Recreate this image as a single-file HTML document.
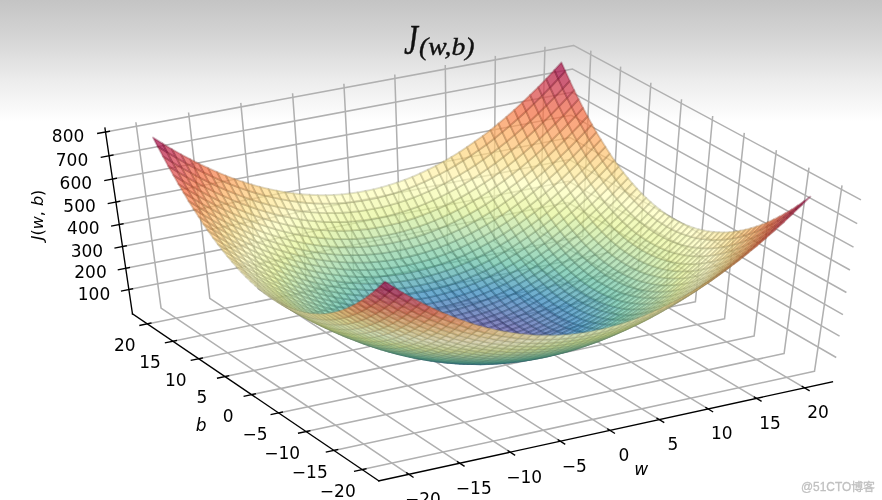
<!DOCTYPE html>
<html><head><meta charset="utf-8"><title>J(w,b)</title>
<style>
html,body{margin:0;padding:0;background:#fff}
#c{position:relative;width:882px;height:500px;overflow:hidden;background:#fff}
#g{position:absolute;left:0;top:0;width:882px;height:140px;background:linear-gradient(to bottom, #c4c4c4 0px, #d6d6d6 40px, #ececec 80px, #ffffff 122px)}
#plot{position:absolute;left:0;top:0;width:882px;height:500px;}
.a{position:absolute;white-space:nowrap;line-height:1;transform-origin:0 0}
#tJ{left:404px;top:16px;font:italic 42px "Liberation Serif",serif;color:#111;-webkit-text-stroke:0.4px #111;transform:scaleX(0.75)}
#tS{left:419.3px;top:33px;font:italic 25px "Liberation Serif",serif;color:#111;-webkit-text-stroke:0.4px #111;transform:scaleX(1.105)}
#zl{left:38px;top:215px;transform:translate(-50%,-50%) rotate(-90deg);transform-origin:50% 50%;font-family:"DejaVu Sans",sans-serif;font-size:16px;color:#000}
#zl i{font-style:italic}
#wm{left:801px;top:482px;font-family:"Liberation Sans","Noto Sans CJK SC",sans-serif;font-size:11.9px;color:#c0c0c0;-webkit-text-stroke:0.3px #c0c0c0}
</style></head><body><div id="c">
<div id="g"></div>
<div id="plot"><svg width="882" height="500" viewBox="0 0 518.823529 294.117647" style="position:absolute;left:0;top:0">
<defs>
<style type="text/css">*{stroke-linejoin: round; stroke-linecap: butt}</style>
</defs>
<g id="figure_1">


<g id="pane3d_1">

</g>
<g id="pane3d_2">

</g>
<g id="pane3d_3">

</g>
<g id="grid3d_1">
<g id="Line3DCollection_1">
<path d="M 240.45 279.01 L 94.75 181.28 L 79.93 71.91" style="fill: none; stroke: #b0b0b0; stroke-width: 0.9"/>
<path d="M 270.43 272.47 L 123.4 175.54 L 110.92 66.19" style="fill: none; stroke: #b0b0b0; stroke-width: 0.9"/>
<path d="M 300.15 265.98 L 151.83 169.84 L 141.64 60.51" style="fill: none; stroke: #b0b0b0; stroke-width: 0.9"/>
<path d="M 329.62 259.54 L 180.03 164.19 L 172.1 54.89" style="fill: none; stroke: #b0b0b0; stroke-width: 0.9"/>
<path d="M 358.84 253.16 L 208 158.59 L 202.29 49.31" style="fill: none; stroke: #b0b0b0; stroke-width: 0.9"/>
<path d="M 387.81 246.83 L 235.76 153.03 L 232.23 43.78" style="fill: none; stroke: #b0b0b0; stroke-width: 0.9"/>
<path d="M 416.54 240.55 L 263.29 147.51 L 261.92 38.3" style="fill: none; stroke: #b0b0b0; stroke-width: 0.9"/>
<path d="M 445.03 234.33 L 290.61 142.04 L 291.36 32.87" style="fill: none; stroke: #b0b0b0; stroke-width: 0.9"/>
<path d="M 473.29 228.16 L 317.72 136.61 L 320.55 27.48" style="fill: none; stroke: #b0b0b0; stroke-width: 0.9"/>
</g>
</g>
<g id="grid3d_2">
<g id="Line3DCollection_2">
<path d="M 495.31 109.03 L 479.11 218.43 L 213.04 276.21" style="fill: none; stroke: #b0b0b0; stroke-width: 0.9"/>
<path d="M 475.86 98.59 L 461.22 207.99 L 196.42 264.95" style="fill: none; stroke: #b0b0b0; stroke-width: 0.9"/>
<path d="M 456.69 88.31 L 443.59 197.71 L 180.04 253.85" style="fill: none; stroke: #b0b0b0; stroke-width: 0.9"/>
<path d="M 437.82 78.19 L 426.21 187.57 L 163.9 242.91" style="fill: none; stroke: #b0b0b0; stroke-width: 0.9"/>
<path d="M 419.23 68.21 L 409.06 177.57 L 147.99 232.13" style="fill: none; stroke: #b0b0b0; stroke-width: 0.9"/>
<path d="M 400.91 58.39 L 392.16 167.71 L 132.32 221.5" style="fill: none; stroke: #b0b0b0; stroke-width: 0.9"/>
<path d="M 382.87 48.71 L 375.48 157.98 L 116.86 211.03" style="fill: none; stroke: #b0b0b0; stroke-width: 0.9"/>
<path d="M 365.09 39.17 L 359.03 148.39 L 101.62 200.7" style="fill: none; stroke: #b0b0b0; stroke-width: 0.9"/>
<path d="M 347.57 29.77 L 342.8 138.92 L 86.6 190.52" style="fill: none; stroke: #b0b0b0; stroke-width: 0.9"/>
</g>
</g>
<g id="grid3d_3">
<g id="Line3DCollection_3">
<path d="M 75.81 170.32 L 333.97 119.13 L 491.9 210.28" style="fill: none; stroke: #b0b0b0; stroke-width: 0.9"/>
<path d="M 73.95 157.79 L 334.43 106.62 L 493.86 197.77" style="fill: none; stroke: #b0b0b0; stroke-width: 0.9"/>
<path d="M 72.06 145.04 L 334.9 93.88 L 495.86 185.03" style="fill: none; stroke: #b0b0b0; stroke-width: 0.9"/>
<path d="M 70.14 132.06 L 335.38 80.92 L 497.89 172.05" style="fill: none; stroke: #b0b0b0; stroke-width: 0.9"/>
<path d="M 68.18 118.83 L 335.86 67.73 L 499.97 158.82" style="fill: none; stroke: #b0b0b0; stroke-width: 0.9"/>
<path d="M 66.19 105.35 L 336.36 54.3 L 502.08 145.33" style="fill: none; stroke: #b0b0b0; stroke-width: 0.9"/>
<path d="M 64.15 91.62 L 336.86 40.62 L 504.24 131.58" style="fill: none; stroke: #b0b0b0; stroke-width: 0.9"/>
<path d="M 62.08 77.63 L 337.38 26.7 L 506.44 117.56" style="fill: none; stroke: #b0b0b0; stroke-width: 0.9"/>
</g>
</g>
<g id="axis3d_1">
<g id="line2d_1">
<path d="M 489.66 224.58 L 222.85 282.86" style="fill: none; stroke: #000000; stroke-width: 0.8; stroke-linecap: square"/>
</g>
<g id="xtick_1">
<g id="line2d_2">
<path d="M 239.21 278.18 L 242.95 280.69" style="fill: none; stroke: #000000; stroke-width: 0.8; stroke-linecap: square"/>
</g>
<g transform="translate(-0.588 -0.882)" id="text_1">
<text style="font-size: 10px; font-family: 'DejaVu Sans', sans-serif; text-anchor: middle" x="249.37" y="298.12" >−20</text>
</g>
</g>
<g id="xtick_2">
<g id="line2d_3">
<path d="M 269.17 271.64 L 272.94 274.13" style="fill: none; stroke: #000000; stroke-width: 0.8; stroke-linecap: square"/>
</g>
<g transform="translate(-0.588 -0.882)" id="text_2">
<text style="font-size: 10px; font-family: 'DejaVu Sans', sans-serif; text-anchor: middle" x="279.29" y="291.52" >−15</text>
</g>
</g>
<g id="xtick_3">
<g id="line2d_4">
<path d="M 298.88 265.16 L 302.68 267.62" style="fill: none; stroke: #000000; stroke-width: 0.8; stroke-linecap: square"/>
</g>
<g transform="translate(-0.588 -0.882)" id="text_3">
<text style="font-size: 10px; font-family: 'DejaVu Sans', sans-serif; text-anchor: middle" x="308.95" y="284.99" >−10</text>
</g>
</g>
<g id="xtick_4">
<g id="line2d_5">
<path d="M 328.34 258.73 L 332.17 261.17" style="fill: none; stroke: #000000; stroke-width: 0.8; stroke-linecap: square"/>
</g>
<g transform="translate(-0.588 -0.882)" id="text_4">
<text style="font-size: 10px; font-family: 'DejaVu Sans', sans-serif; text-anchor: middle" x="338.37" y="278.51" >−5</text>
</g>
</g>
<g id="xtick_5">
<g id="line2d_6">
<path d="M 357.55 252.35 L 361.41 254.77" style="fill: none; stroke: #000000; stroke-width: 0.8; stroke-linecap: square"/>
</g>
<g transform="translate(-0.588 -0.882)" id="text_5">
<text style="font-size: 10px; font-family: 'DejaVu Sans', sans-serif; text-anchor: middle" x="367.53" y="272.08" >0</text>
</g>
</g>
<g id="xtick_6">
<g id="line2d_7">
<path d="M 386.51 246.03 L 390.41 248.43" style="fill: none; stroke: #000000; stroke-width: 0.8; stroke-linecap: square"/>
</g>
<g transform="translate(-0.588 -0.882)" id="text_6">
<text style="font-size: 10px; font-family: 'DejaVu Sans', sans-serif; text-anchor: middle" x="396.45" y="265.71" >5</text>
</g>
</g>
<g id="xtick_7">
<g id="line2d_8">
<path d="M 415.23 239.76 L 419.16 242.14" style="fill: none; stroke: #000000; stroke-width: 0.8; stroke-linecap: square"/>
</g>
<g transform="translate(-0.588 -0.882)" id="text_7">
<text style="font-size: 10px; font-family: 'DejaVu Sans', sans-serif; text-anchor: middle" x="425.13" y="259.39" >10</text>
</g>
</g>
<g id="xtick_8">
<g id="line2d_9">
<path d="M 443.71 233.54 L 447.67 235.9" style="fill: none; stroke: #000000; stroke-width: 0.8; stroke-linecap: square"/>
</g>
<g transform="translate(-0.588 -0.882)" id="text_8">
<text style="font-size: 10px; font-family: 'DejaVu Sans', sans-serif; text-anchor: middle" x="453.57" y="253.12" >15</text>
</g>
</g>
<g id="xtick_9">
<g id="line2d_10">
<path d="M 471.96 227.38 L 475.94 229.72" style="fill: none; stroke: #000000; stroke-width: 0.8; stroke-linecap: square"/>
</g>
<g transform="translate(-0.588 -0.882)" id="text_9">
<text style="font-size: 10px; font-family: 'DejaVu Sans', sans-serif; text-anchor: middle" x="481.77" y="246.91" >20</text>
</g>
</g>
<g transform="translate(-0.588 -0.412)" id="text_10">
<!-- $w$ -->
<g transform="translate(373.628361 280.518184)">
<text>
<tspan x="0" y="-0.53" style="font-style: oblique; font-size: 10px; font-family: 'DejaVu Sans', sans-serif">w</tspan>
</text>
</g>
</g>
</g>
<g id="axis3d_2">
<g id="line2d_11">
<path d="M 77.93 184.65 L 222.85 282.86" style="fill: none; stroke: #000000; stroke-width: 0.8; stroke-linecap: square"/>
</g>
<g id="xtick_10">
<g id="line2d_12">
<path d="M 215.25 275.73 L 208.61 277.17" style="fill: none; stroke: #000000; stroke-width: 0.8; stroke-linecap: square"/>
</g>
<g transform="translate(0.882 -0.588)" id="text_11">
<text style="font-size: 10px; font-family: 'DejaVu Sans', sans-serif; text-anchor: middle" x="197.84" y="292.81" >−20</text>
</g>
</g>
<g id="xtick_11">
<g id="line2d_13">
<path d="M 198.62 264.47 L 192.01 265.9" style="fill: none; stroke: #000000; stroke-width: 0.8; stroke-linecap: square"/>
</g>
<g transform="translate(0.882 -0.588)" id="text_12">
<text style="font-size: 10px; font-family: 'DejaVu Sans', sans-serif; text-anchor: middle" x="181.37" y="281.51" >−15</text>
</g>
</g>
<g id="xtick_12">
<g id="line2d_14">
<path d="M 182.23 253.38 L 175.66 254.78" style="fill: none; stroke: #000000; stroke-width: 0.8; stroke-linecap: square"/>
</g>
<g transform="translate(0.882 -0.588)" id="text_13">
<text style="font-size: 10px; font-family: 'DejaVu Sans', sans-serif; text-anchor: middle" x="165.13" y="270.37" >−10</text>
</g>
</g>
<g id="xtick_13">
<g id="line2d_15">
<path d="M 166.08 242.45 L 159.54 243.83" style="fill: none; stroke: #000000; stroke-width: 0.8; stroke-linecap: square"/>
</g>
<g transform="translate(0.882 -0.588)" id="text_14">
<text style="font-size: 10px; font-family: 'DejaVu Sans', sans-serif; text-anchor: middle" x="149.14" y="259.39" >−5</text>
</g>
</g>
<g id="xtick_14">
<g id="line2d_16">
<path d="M 150.16 231.68 L 143.66 233.04" style="fill: none; stroke: #000000; stroke-width: 0.8; stroke-linecap: square"/>
</g>
<g transform="translate(0.882 -0.588)" id="text_15">
<text style="font-size: 10px; font-family: 'DejaVu Sans', sans-serif; text-anchor: middle" x="133.37" y="248.57" >0</text>
</g>
</g>
<g id="xtick_15">
<g id="line2d_17">
<path d="M 134.47 221.06 L 128 222.4" style="fill: none; stroke: #000000; stroke-width: 0.8; stroke-linecap: square"/>
</g>
<g transform="translate(0.882 -0.588)" id="text_16">
<text style="font-size: 10px; font-family: 'DejaVu Sans', sans-serif; text-anchor: middle" x="117.83" y="237.90" >5</text>
</g>
</g>
<g id="xtick_16">
<g id="line2d_18">
<path d="M 119.01 210.59 L 112.56 211.91" style="fill: none; stroke: #000000; stroke-width: 0.8; stroke-linecap: square"/>
</g>
<g transform="translate(0.882 -0.588)" id="text_17">
<text style="font-size: 10px; font-family: 'DejaVu Sans', sans-serif; text-anchor: middle" x="102.51" y="227.38" >10</text>
</g>
</g>
<g id="xtick_17">
<g id="line2d_19">
<path d="M 103.76 200.27 L 97.35 201.57" style="fill: none; stroke: #000000; stroke-width: 0.8; stroke-linecap: square"/>
</g>
<g transform="translate(0.882 -0.588)" id="text_18">
<text style="font-size: 10px; font-family: 'DejaVu Sans', sans-serif; text-anchor: middle" x="87.40" y="217.02" >15</text>
</g>
</g>
<g id="xtick_18">
<g id="line2d_20">
<path d="M 88.72 190.09 L 82.34 191.38" style="fill: none; stroke: #000000; stroke-width: 0.8; stroke-linecap: square"/>
</g>
<g transform="translate(0.882 -0.588)" id="text_19">
<text style="font-size: 10px; font-family: 'DejaVu Sans', sans-serif; text-anchor: middle" x="72.51" y="206.79" >20</text>
</g>
</g>
<g transform="translate(2.059 0.000)" id="text_20">
<!-- $b$ -->
<g transform="translate(113.085165 254.052623)">
<text>
<tspan x="0" y="-0.41" style="font-style: oblique; font-size: 10px; font-family: 'DejaVu Sans', sans-serif">b</tspan>
</text>
</g>
</g>
</g>
<g id="axis3d_3">
<g id="line2d_21">
<path d="M 77.93 184.65 L 61.73 75.27" style="fill: none; stroke: #000000; stroke-width: 0.8; stroke-linecap: square"/>
</g>
<g id="xtick_19">
<g id="line2d_22">
<path d="M 77.95 169.89 L 71.52 171.17" style="fill: none; stroke: #000000; stroke-width: 0.8; stroke-linecap: square"/>
</g>
<g transform="translate(2.176 0.471)" id="text_21">
<text style="font-size: 10px; font-family: 'DejaVu Sans', sans-serif; text-anchor: middle" x="53.11" y="175.73" >100</text>
</g>
</g>
<g id="xtick_20">
<g id="line2d_23">
<path d="M 76.11 157.37 L 69.63 158.64" style="fill: none; stroke: #000000; stroke-width: 0.8; stroke-linecap: square"/>
</g>
<g transform="translate(2.176 0.471)" id="text_22">
<text style="font-size: 10px; font-family: 'DejaVu Sans', sans-serif; text-anchor: middle" x="51.05" y="163.21" >200</text>
</g>
</g>
<g id="xtick_21">
<g id="line2d_24">
<path d="M 74.25 144.62 L 67.7 145.89" style="fill: none; stroke: #000000; stroke-width: 0.8; stroke-linecap: square"/>
</g>
<g transform="translate(2.176 0.471)" id="text_23">
<text style="font-size: 10px; font-family: 'DejaVu Sans', sans-serif; text-anchor: middle" x="48.96" y="150.46" >300</text>
</g>
</g>
<g id="xtick_22">
<g id="line2d_25">
<path d="M 72.34 131.63 L 65.73 132.91" style="fill: none; stroke: #000000; stroke-width: 0.8; stroke-linecap: square"/>
</g>
<g transform="translate(2.176 0.471)" id="text_24">
<text style="font-size: 10px; font-family: 'DejaVu Sans', sans-serif; text-anchor: middle" x="46.83" y="137.47" >400</text>
</g>
</g>
<g id="xtick_23">
<g id="line2d_26">
<path d="M 70.41 118.4 L 63.73 119.68" style="fill: none; stroke: #000000; stroke-width: 0.8; stroke-linecap: square"/>
</g>
<g transform="translate(2.176 0.471)" id="text_25">
<text style="font-size: 10px; font-family: 'DejaVu Sans', sans-serif; text-anchor: middle" x="44.65" y="124.25" >500</text>
</g>
</g>
<g id="xtick_24">
<g id="line2d_27">
<path d="M 68.43 104.93 L 61.69 106.2" style="fill: none; stroke: #000000; stroke-width: 0.8; stroke-linecap: square"/>
</g>
<g transform="translate(2.176 0.471)" id="text_26">
<text style="font-size: 10px; font-family: 'DejaVu Sans', sans-serif; text-anchor: middle" x="42.44" y="110.77" >600</text>
</g>
</g>
<g id="xtick_25">
<g id="line2d_28">
<path d="M 66.42 91.2 L 59.62 92.47" style="fill: none; stroke: #000000; stroke-width: 0.8; stroke-linecap: square"/>
</g>
<g transform="translate(2.176 0.471)" id="text_27">
<text style="font-size: 10px; font-family: 'DejaVu Sans', sans-serif; text-anchor: middle" x="40.19" y="97.04" >700</text>
</g>
</g>
<g id="xtick_26">
<g id="line2d_29">
<path d="M 64.37 77.2 L 57.5 78.48" style="fill: none; stroke: #000000; stroke-width: 0.8; stroke-linecap: square"/>
</g>
<g transform="translate(2.176 0.471)" id="text_28">
<text style="font-size: 10px; font-family: 'DejaVu Sans', sans-serif; text-anchor: middle" x="37.89" y="83.05" >800</text>
</g>
</g>
</g>
<g id="axes_1"/>
</g>
<g transform="scale(0.588235)"><g fill-opacity="0.72" stroke="#1f5171" stroke-opacity="0.3" stroke-width="1.87" stroke-linejoin="round"><path d="M476.1 296.9 483.8 293.9 479.4 288.6 471.7 291.6Z" fill="#3387bc" stroke="#1f5171"/><path d="M471.7 291.6 479.4 288.6 475 283 467.3 286.1Z" fill="#3990ba" stroke="#22566f"/><path d="M483.8 293.9 491.5 290.5 487.1 285.2 479.4 288.6Z" fill="#358bbc" stroke="#205471"/><path d="M479.4 288.6 487.1 285.2 482.7 279.7 475 283Z" fill="#3d95b8" stroke="#25596e"/><path d="M468.4 299.7 476.1 296.9 471.7 291.6 464 294.4Z" fill="#3682ba" stroke="#214e70"/><path d="M464 294.4 471.7 291.6 467.3 286.1 459.6 288.9Z" fill="#358bbc" stroke="#205471"/><path d="M480.6 301.9 488.3 298.9 483.8 293.9 476.1 296.9Z" fill="#3a7eb8" stroke="#234c6f"/><path d="M488.3 298.9 496 295.5 491.5 290.5 483.8 293.9Z" fill="#3585bb" stroke="#205070"/><path d="M467.3 286.1 475 283 470.5 277.2 462.8 280.3Z" fill="#439bb5" stroke="#285d6d"/><path d="M472.9 304.7 480.6 301.9 476.1 296.9 468.4 299.7Z" fill="#3d79b6" stroke="#25496d"/><path d="M475 283 482.7 279.7 478.2 273.9 470.5 277.2Z" fill="#47a0b3" stroke="#2b606b"/><path d="M491.5 290.5 499.2 286.9 494.8 281.7 487.1 285.2Z" fill="#3b92b9" stroke="#24586f"/><path d="M487.1 285.2 494.8 281.7 490.4 276.1 482.7 279.7Z" fill="#439bb5" stroke="#285d6d"/><path d="M459.6 288.9 467.3 286.1 462.8 280.3 455.1 283Z" fill="#3d95b8" stroke="#25596e"/><path d="M460.7 302.2 468.4 299.7 464 294.4 456.3 296.9Z" fill="#3a7eb8" stroke="#234c6f"/><path d="M496 295.5 503.7 292 499.2 286.9 491.5 290.5Z" fill="#3389bd" stroke="#1f5271"/><path d="M456.3 296.9 464 294.4 459.6 288.9 451.8 291.4Z" fill="#3387bc" stroke="#1f5171"/><path d="M485 306.7 492.7 303.6 488.3 298.9 480.6 301.9Z" fill="#3f77b5" stroke="#26486d"/><path d="M482.7 279.7 490.4 276.1 485.9 270.3 478.2 273.9Z" fill="#4ea7b0" stroke="#2f646a"/><path d="M492.7 303.6 500.4 300.3 496 295.5 488.3 298.9Z" fill="#3b7cb7" stroke="#244a6e"/><path d="M465.2 307.2 472.9 304.7 468.4 299.7 460.7 302.2Z" fill="#4175b4" stroke="#27466c"/><path d="M477.3 309.5 485 306.7 480.6 301.9 472.9 304.7Z" fill="#4273b3" stroke="#28456b"/><path d="M462.8 280.3 470.5 277.2 466.1 271.1 458.4 274.2Z" fill="#4ea7b0" stroke="#2f646a"/><path d="M451.8 291.4 459.6 288.9 455.1 283 447.4 285.6Z" fill="#3b92b9" stroke="#24586f"/><path d="M470.5 277.2 478.2 273.9 473.8 267.8 466.1 271.1Z" fill="#52abae" stroke="#316769"/><path d="M499.2 286.9 507 283.1 502.5 277.8 494.8 281.7Z" fill="#439bb5" stroke="#285d6d"/><path d="M494.8 281.7 502.5 277.8 498.1 272.2 490.4 276.1Z" fill="#4ba4b1" stroke="#2d636a"/><path d="M455.1 283 462.8 280.3 458.4 274.2 450.6 276.9Z" fill="#47a0b3" stroke="#2b606b"/><path d="M500.4 300.3 508.2 296.7 503.7 292 496 295.5Z" fill="#3682ba" stroke="#214e70"/><path d="M503.7 292 511.4 288.1 507 283.1 499.2 286.9Z" fill="#3b92b9" stroke="#24586f"/><path d="M453 304.5 460.7 302.2 456.3 296.9 448.6 299.2Z" fill="#3b7cb7" stroke="#244a6e"/><path d="M469.6 312 477.3 309.5 472.9 304.7 465.2 307.2Z" fill="#466eb1" stroke="#2a426a"/><path d="M478.2 273.9 485.9 270.3 481.5 264.2 473.8 267.8Z" fill="#58b2ac" stroke="#356b67"/><path d="M448.6 299.2 456.3 296.9 451.8 291.4 444.1 293.6Z" fill="#3585bb" stroke="#205070"/><path d="M490.4 276.1 498.1 272.2 493.6 266.4 485.9 270.3Z" fill="#54aead" stroke="#326868"/><path d="M489.5 311.1 497.2 308.1 492.7 303.6 485 306.7Z" fill="#4471b2" stroke="#29446b"/><path d="M447.4 285.6 455.1 283 450.6 276.9 442.9 279.5Z" fill="#459eb4" stroke="#2a5f6c"/><path d="M497.2 308.1 504.9 304.8 500.4 300.3 492.7 303.6Z" fill="#4175b4" stroke="#27466c"/><path d="M457.5 309.5 465.2 307.2 460.7 302.2 453 304.5Z" fill="#4273b3" stroke="#28456b"/><path d="M481.8 313.9 489.5 311.1 485 306.7 477.3 309.5Z" fill="#486cb0" stroke="#2b4169"/><path d="M444.1 293.6 451.8 291.4 447.4 285.6 439.7 287.8Z" fill="#3990ba" stroke="#22566f"/><path d="M458.4 274.2 466.1 271.1 461.6 264.7 453.9 267.8Z" fill="#58b2ac" stroke="#356b67"/><path d="M508.2 296.7 515.9 292.8 511.4 288.1 503.7 292Z" fill="#3389bd" stroke="#1f5271"/><path d="M466.1 271.1 473.8 267.8 469.3 261.4 461.6 264.7Z" fill="#5cb7aa" stroke="#376e66"/><path d="M504.9 304.8 512.6 301.2 508.2 296.7 500.4 300.3Z" fill="#3b7cb7" stroke="#244a6e"/><path d="M507 283.1 514.7 278.9 510.2 273.7 502.5 277.8Z" fill="#49a2b2" stroke="#2c616b"/><path d="M450.6 276.9 458.4 274.2 453.9 267.8 446.2 270.6Z" fill="#54aead" stroke="#326868"/><path d="M485.9 270.3 493.6 266.4 489.2 260.3 481.5 264.2Z" fill="#5eb9a9" stroke="#386f65"/><path d="M502.5 277.8 510.2 273.7 505.8 268.1 498.1 272.2Z" fill="#52abae" stroke="#316769"/><path d="M461.9 314.2 469.6 312 465.2 307.2 457.5 309.5Z" fill="#486cb0" stroke="#2b4169"/><path d="M474.1 316.5 481.8 313.9 477.3 309.5 469.6 312Z" fill="#4b68ae" stroke="#2d3e68"/><path d="M511.4 288.1 519.1 284 514.7 278.9 507 283.1Z" fill="#439bb5" stroke="#285d6d"/><path d="M473.8 267.8 481.5 264.2 477 257.8 469.3 261.4Z" fill="#62bda7" stroke="#3b7264"/><path d="M439.7 287.8 447.4 285.6 442.9 279.5 435.2 281.7Z" fill="#439bb5" stroke="#285d6d"/><path d="M498.1 272.2 505.8 268.1 501.3 262.3 493.6 266.4Z" fill="#5cb7aa" stroke="#376e66"/><path d="M445.3 306.4 453 304.5 448.6 299.2 440.9 301.2Z" fill="#3d79b6" stroke="#25496d"/><path d="M440.9 301.2 448.6 299.2 444.1 293.6 436.4 295.6Z" fill="#3682ba" stroke="#214e70"/><path d="M442.9 279.5 450.6 276.9 446.2 270.6 438.5 273.1Z" fill="#50a9af" stroke="#306569"/><path d="M493.9 315.4 501.7 312.3 497.2 308.1 489.5 311.1Z" fill="#496aaf" stroke="#2c3f69"/><path d="M512.6 301.2 520.3 297.3 515.9 292.8 508.2 296.7Z" fill="#3585bb" stroke="#205070"/><path d="M449.8 311.5 457.5 309.5 453 304.5 445.3 306.4Z" fill="#4471b2" stroke="#29446b"/><path d="M501.7 312.3 509.4 309 504.9 304.8 497.2 308.1Z" fill="#4471b2" stroke="#29446b"/><path d="M515.9 292.8 523.6 288.7 519.1 284 511.4 288.1Z" fill="#3b92b9" stroke="#24586f"/><path d="M436.4 295.6 444.1 293.6 439.7 287.8 431.9 289.8Z" fill="#378ebb" stroke="#215570"/><path d="M486.2 318.2 493.9 315.4 489.5 311.1 481.8 313.9Z" fill="#4d65ad" stroke="#2e3d68"/><path d="M466.4 318.7 474.1 316.5 469.6 312 461.9 314.2Z" fill="#4d65ad" stroke="#2e3d68"/><path d="M481.5 264.2 489.2 260.3 484.7 253.9 477 257.8Z" fill="#6bc4a5" stroke="#407663"/><path d="M493.6 266.4 501.3 262.3 496.9 256.2 489.2 260.3Z" fill="#66c2a5" stroke="#3d7463"/><path d="M453.9 267.8 461.6 264.7 457.1 258.1 449.4 261.1Z" fill="#64c0a6" stroke="#3c7364"/><path d="M509.4 309 517.1 305.4 512.6 301.2 504.9 304.8Z" fill="#3f77b5" stroke="#26486d"/><path d="M461.6 264.7 469.3 261.4 464.9 254.8 457.1 258.1Z" fill="#69c3a5" stroke="#3f7563"/><path d="M454.2 316.2 461.9 314.2 457.5 309.5 449.8 311.5Z" fill="#496aaf" stroke="#2c3f69"/><path d="M446.2 270.6 453.9 267.8 449.4 261.1 441.7 263.9Z" fill="#60bba8" stroke="#3a7065"/><path d="M514.7 278.9 522.4 274.5 518 269.2 510.2 273.7Z" fill="#52abae" stroke="#316769"/><path d="M435.2 281.7 442.9 279.5 438.5 273.1 430.7 275.3Z" fill="#4ea7b0" stroke="#2f646a"/><path d="M478.5 320.7 486.2 318.2 481.8 313.9 474.1 316.5Z" fill="#5061aa" stroke="#303a66"/><path d="M510.2 273.7 518 269.2 513.5 263.7 505.8 268.1Z" fill="#5cb7aa" stroke="#376e66"/><path d="M431.9 289.8 439.7 287.8 435.2 281.7 427.5 283.7Z" fill="#4199b6" stroke="#275c6d"/><path d="M469.3 261.4 477 257.8 472.6 251.1 464.9 254.8Z" fill="#71c6a5" stroke="#447763"/><path d="M519.1 284 526.9 279.5 522.4 274.5 514.7 278.9Z" fill="#4ba4b1" stroke="#2d636a"/><path d="M520.3 297.3 528.1 293.2 523.6 288.7 515.9 292.8Z" fill="#358bbc" stroke="#205471"/><path d="M505.8 268.1 513.5 263.7 509.1 257.8 501.3 262.3Z" fill="#64c0a6" stroke="#3c7364"/><path d="M438.5 273.1 446.2 270.6 441.7 263.9 434 266.4Z" fill="#5cb7aa" stroke="#376e66"/><path d="M517.1 305.4 524.8 301.5 520.3 297.3 512.6 301.2Z" fill="#3a7eb8" stroke="#234c6f"/><path d="M437.6 308.2 445.3 306.4 440.9 301.2 433.1 302.9Z" fill="#3f77b5" stroke="#26486d"/><path d="M433.1 302.9 440.9 301.2 436.4 295.6 428.7 297.3Z" fill="#3682ba" stroke="#214e70"/><path d="M489.2 260.3 496.9 256.2 492.4 249.8 484.7 253.9Z" fill="#74c7a5" stroke="#457863"/><path d="M498.4 319.3 506.1 316.3 501.7 312.3 493.9 315.4Z" fill="#4d65ad" stroke="#2e3d68"/><path d="M442 313.2 449.8 311.5 445.3 306.4 437.6 308.2Z" fill="#4471b2" stroke="#29446b"/><path d="M458.6 320.7 466.4 318.7 461.9 314.2 454.2 316.2Z" fill="#4e63ac" stroke="#2f3b67"/><path d="M523.6 288.7 531.3 284.3 526.9 279.5 519.1 284Z" fill="#439bb5" stroke="#285d6d"/><path d="M470.8 322.9 478.5 320.7 474.1 316.5 466.4 318.7Z" fill="#525fa9" stroke="#313966"/><path d="M506.1 316.3 513.8 312.9 509.4 309 501.7 312.3Z" fill="#486cb0" stroke="#2b4169"/><path d="M428.7 297.3 436.4 295.6 431.9 289.8 424.2 291.5Z" fill="#358bbc" stroke="#205471"/><path d="M477 257.8 484.7 253.9 480.3 247.3 472.6 251.1Z" fill="#7ccaa5" stroke="#4a7963"/><path d="M490.7 322.1 498.4 319.3 493.9 315.4 486.2 318.2Z" fill="#5061aa" stroke="#303a66"/><path d="M501.3 262.3 509.1 257.8 504.6 251.7 496.9 256.2Z" fill="#71c6a5" stroke="#447763"/><path d="M427.5 283.7 435.2 281.7 430.7 275.3 423 277.3Z" fill="#4ba4b1" stroke="#2d636a"/><path d="M430.7 275.3 438.5 273.1 434 266.4 426.3 268.7Z" fill="#5ab4ab" stroke="#366c66"/><path d="M513.8 312.9 521.6 309.3 517.1 305.4 509.4 309Z" fill="#4273b3" stroke="#28456b"/><path d="M449.4 261.1 457.1 258.1 452.7 251.2 445 254.2Z" fill="#74c7a5" stroke="#457863"/><path d="M446.5 317.9 454.2 316.2 449.8 311.5 442 313.2Z" fill="#4b68ae" stroke="#2d3e68"/><path d="M457.1 258.1 464.9 254.8 460.4 247.8 452.7 251.2Z" fill="#7ccaa5" stroke="#4a7963"/><path d="M483 324.6 490.7 322.1 486.2 318.2 478.5 320.7Z" fill="#545ca8" stroke="#323765"/><path d="M441.7 263.9 449.4 261.1 445 254.2 437.2 257Z" fill="#6ec5a5" stroke="#427663"/><path d="M524.8 301.5 532.5 297.4 528.1 293.2 520.3 297.3Z" fill="#3387bc" stroke="#1f5171"/><path d="M424.2 291.5 431.9 289.8 427.5 283.7 419.7 285.4Z" fill="#3f97b7" stroke="#265a6e"/><path d="M522.4 274.5 530.2 269.8 525.7 264.5 518 269.2Z" fill="#5cb7aa" stroke="#376e66"/><path d="M518 269.2 525.7 264.5 521.2 259 513.5 263.7Z" fill="#64c0a6" stroke="#3c7364"/><path d="M528.1 293.2 535.8 288.8 531.3 284.3 523.6 288.7Z" fill="#3d95b8" stroke="#25596e"/><path d="M464.9 254.8 472.6 251.1 468.1 244.2 460.4 247.8Z" fill="#81cda5" stroke="#4d7b63"/><path d="M526.9 279.5 534.6 274.9 530.2 269.8 522.4 274.5Z" fill="#54aead" stroke="#326868"/><path d="M484.7 253.9 492.4 249.8 488 243.1 480.3 247.3Z" fill="#84cea5" stroke="#4f7b63"/><path d="M463.1 324.9 470.8 322.9 466.4 318.7 458.6 320.7Z" fill="#545ca8" stroke="#323765"/><path d="M521.6 309.3 529.3 305.5 524.8 301.5 517.1 305.4Z" fill="#3d79b6" stroke="#25496d"/><path d="M496.9 256.2 504.6 251.7 500.2 245.3 492.4 249.8Z" fill="#81cda5" stroke="#4d7b63"/><path d="M513.5 263.7 521.2 259 516.8 253.1 509.1 257.8Z" fill="#71c6a5" stroke="#447763"/><path d="M434 266.4 441.7 263.9 437.2 257 429.5 259.5Z" fill="#69c3a5" stroke="#3f7563"/><path d="M450.9 322.4 458.6 320.7 454.2 316.2 446.5 317.9Z" fill="#5061aa" stroke="#303a66"/><path d="M429.8 309.6 437.6 308.2 433.1 302.9 425.4 304.3Z" fill="#3f77b5" stroke="#26486d"/><path d="M425.4 304.3 433.1 302.9 428.7 297.3 420.9 298.8Z" fill="#3682ba" stroke="#214e70"/><path d="M475.3 326.9 483 324.6 478.5 320.7 470.8 322.9Z" fill="#555aa7" stroke="#333664"/><path d="M423 277.3 430.7 275.3 426.3 268.7 418.5 270.6Z" fill="#58b2ac" stroke="#356b67"/><path d="M531.3 284.3 539.1 279.6 534.6 274.9 526.9 279.5Z" fill="#4ea7b0" stroke="#2f646a"/><path d="M472.6 251.1 480.3 247.3 475.8 240.3 468.1 244.2Z" fill="#8cd1a4" stroke="#547d63"/><path d="M434.3 314.6 442 313.2 437.6 308.2 429.8 309.6Z" fill="#4471b2" stroke="#29446b"/><path d="M419.7 285.4 427.5 283.7 423 277.3 415.3 279Z" fill="#4ba4b1" stroke="#2d636a"/><path d="M502.9 323 510.6 320 506.1 316.3 498.4 319.3Z" fill="#5061aa" stroke="#303a66"/><path d="M510.6 320 518.3 316.6 513.8 312.9 506.1 316.3Z" fill="#4b68ae" stroke="#2d3e68"/><path d="M509.1 257.8 516.8 253.1 512.4 247 504.6 251.7Z" fill="#7ecca5" stroke="#4c7a63"/><path d="M420.9 298.8 428.7 297.3 424.2 291.5 416.4 292.9Z" fill="#358bbc" stroke="#205471"/><path d="M495.2 325.8 502.9 323 498.4 319.3 490.7 322.1Z" fill="#545ca8" stroke="#323765"/><path d="M532.5 297.4 540.3 293 535.8 288.8 528.1 293.2Z" fill="#3990ba" stroke="#22566f"/><path d="M426.3 268.7 434 266.4 429.5 259.5 421.8 261.7Z" fill="#66c2a5" stroke="#3d7463"/><path d="M529.3 305.5 537 301.3 532.5 297.4 524.8 301.5Z" fill="#3682ba" stroke="#214e70"/><path d="M518.3 316.6 526 313 521.6 309.3 513.8 312.9Z" fill="#466eb1" stroke="#2a426a"/><path d="M438.7 319.4 446.5 317.9 442 313.2 434.3 314.6Z" fill="#4b68ae" stroke="#2d3e68"/><path d="M445 254.2 452.7 251.2 448.2 243.9 440.5 247Z" fill="#86cfa5" stroke="#517c63"/><path d="M492.4 249.8 500.2 245.3 495.7 238.7 488 243.1Z" fill="#8fd2a4" stroke="#567e63"/><path d="M487.4 328.3 495.2 325.8 490.7 322.1 483 324.6Z" fill="#555aa7" stroke="#333664"/><path d="M452.7 251.2 460.4 247.8 455.9 240.6 448.2 243.9Z" fill="#8cd1a4" stroke="#547d63"/><path d="M535.8 288.8 543.6 284.1 539.1 279.6 531.3 284.3Z" fill="#47a0b3" stroke="#2b606b"/><path d="M416.4 292.9 424.2 291.5 419.7 285.4 412 286.8Z" fill="#3f97b7" stroke="#265a6e"/><path d="M455.4 326.7 463.1 324.9 458.6 320.7 450.9 322.4Z" fill="#545ca8" stroke="#323765"/><path d="M437.2 257 445 254.2 440.5 247 432.7 249.8Z" fill="#81cda5" stroke="#4d7b63"/><path d="M467.5 328.9 475.3 326.9 470.8 322.9 463.1 324.9Z" fill="#5758a6" stroke="#343564"/><path d="M480.3 247.3 488 243.1 483.5 236.2 475.8 240.3Z" fill="#97d5a4" stroke="#5a8063"/><path d="M530.2 269.8 537.9 264.9 533.5 259.6 525.7 264.5Z" fill="#66c2a5" stroke="#3d7463"/><path d="M525.7 264.5 533.5 259.6 529 254 521.2 259Z" fill="#71c6a5" stroke="#447763"/><path d="M504.6 251.7 512.4 247 507.9 240.6 500.2 245.3Z" fill="#8cd1a4" stroke="#547d63"/><path d="M460.4 247.8 468.1 244.2 463.6 237 455.9 240.6Z" fill="#94d4a4" stroke="#597f63"/><path d="M526 313 533.8 309.2 529.3 305.5 521.6 309.3Z" fill="#4175b4" stroke="#27466c"/><path d="M534.6 274.9 542.4 269.9 537.9 264.9 530.2 269.8Z" fill="#5eb9a9" stroke="#386f65"/><path d="M415.3 279 423 277.3 418.5 270.6 410.8 272.3Z" fill="#58b2ac" stroke="#356b67"/><path d="M429.5 259.5 437.2 257 432.7 249.8 425 252.3Z" fill="#7ccaa5" stroke="#4a7963"/><path d="M521.2 259 529 254 524.6 248.2 516.8 253.1Z" fill="#7ecca5" stroke="#4c7a63"/><path d="M443.2 323.9 450.9 322.4 446.5 317.9 438.7 319.4Z" fill="#5061aa" stroke="#303a66"/><path d="M418.5 270.6 426.3 268.7 421.8 261.7 414 263.7Z" fill="#64c0a6" stroke="#3c7364"/><path d="M479.7 330.6 487.4 328.3 483 324.6 475.3 326.9Z" fill="#5956a5" stroke="#353363"/><path d="M412 286.8 419.7 285.4 415.3 279 407.5 280.4Z" fill="#4ba4b1" stroke="#2d636a"/><path d="M422.1 310.8 429.8 309.6 425.4 304.3 417.6 305.5Z" fill="#3d79b6" stroke="#25496d"/><path d="M537 301.3 544.8 296.9 540.3 293 532.5 297.4Z" fill="#358bbc" stroke="#205471"/><path d="M539.1 279.6 546.9 274.6 542.4 269.9 534.6 274.9Z" fill="#58b2ac" stroke="#356b67"/><path d="M417.6 305.5 425.4 304.3 420.9 298.8 413.1 299.9Z" fill="#3682ba" stroke="#214e70"/><path d="M468.1 244.2 475.8 240.3 471.4 233.1 463.6 237Z" fill="#9fd8a4" stroke="#5f8263"/><path d="M540.3 293 548.1 288.3 543.6 284.1 535.8 288.8Z" fill="#439bb5" stroke="#285d6d"/><path d="M426.5 315.8 434.3 314.6 429.8 309.6 422.1 310.8Z" fill="#4471b2" stroke="#29446b"/><path d="M516.8 253.1 524.6 248.2 520.1 242 512.4 247Z" fill="#8cd1a4" stroke="#547d63"/><path d="M507.4 326.5 515.1 323.4 510.6 320 502.9 323Z" fill="#525fa9" stroke="#313966"/><path d="M413.1 299.9 420.9 298.8 416.4 292.9 408.7 294.1Z" fill="#378ebb" stroke="#215570"/><path d="M421.8 261.7 429.5 259.5 425 252.3 417.3 254.5Z" fill="#79c9a5" stroke="#497963"/><path d="M515.1 323.4 522.8 320.1 518.3 316.6 510.6 320Z" fill="#4d65ad" stroke="#2e3d68"/><path d="M533.8 309.2 541.5 305 537 301.3 529.3 305.5Z" fill="#3a7eb8" stroke="#234c6f"/><path d="M488 243.1 495.7 238.7 491.3 231.7 483.5 236.2Z" fill="#a2d9a4" stroke="#618262"/><path d="M499.6 329.3 507.4 326.5 502.9 323 495.2 325.8Z" fill="#555aa7" stroke="#333664"/><path d="M459.8 330.6 467.5 328.9 463.1 324.9 455.4 326.7Z" fill="#5758a6" stroke="#343564"/><path d="M500.2 245.3 507.9 240.6 503.5 233.9 495.7 238.7Z" fill="#9cd7a4" stroke="#5e8163"/><path d="M431 320.6 438.7 319.4 434.3 314.6 426.5 315.8Z" fill="#496aaf" stroke="#2c3f69"/><path d="M447.6 328.1 455.4 326.7 450.9 322.4 443.2 323.9Z" fill="#545ca8" stroke="#323765"/><path d="M522.8 320.1 530.6 316.5 526 313 518.3 316.6Z" fill="#486cb0" stroke="#2b4169"/><path d="M543.6 284.1 551.4 279.1 546.9 274.6 539.1 279.6Z" fill="#52abae" stroke="#316769"/><path d="M472 332.6 479.7 330.6 475.3 326.9 467.5 328.9Z" fill="#5956a5" stroke="#353363"/><path d="M408.7 294.1 416.4 292.9 412 286.8 404.2 288Z" fill="#4199b6" stroke="#275c6d"/><path d="M491.9 331.8 499.6 329.3 495.2 325.8 487.4 328.3Z" fill="#5956a5" stroke="#353363"/><path d="M440.5 247 448.2 243.9 443.7 236.4 436 239.5Z" fill="#99d6a4" stroke="#5c8063"/><path d="M410.8 272.3 418.5 270.6 414 263.7 406.3 265.4Z" fill="#64c0a6" stroke="#3c7364"/><path d="M475.8 240.3 483.5 236.2 479.1 228.9 471.4 233.1Z" fill="#a7dba4" stroke="#648462"/><path d="M448.2 243.9 455.9 240.6 451.4 233.1 443.7 236.4Z" fill="#9fd8a4" stroke="#5f8263"/><path d="M512.4 247 520.1 242 515.7 235.6 507.9 240.6Z" fill="#99d6a4" stroke="#5c8063"/><path d="M407.5 280.4 415.3 279 410.8 272.3 403 273.8Z" fill="#58b2ac" stroke="#356b67"/><path d="M432.7 249.8 440.5 247 436 239.5 428.2 242.3Z" fill="#94d4a4" stroke="#597f63"/><path d="M537.9 264.9 545.7 259.6 541.2 254.3 533.5 259.6Z" fill="#74c7a5" stroke="#457863"/><path d="M533.5 259.6 541.2 254.3 536.8 248.7 529 254Z" fill="#81cda5" stroke="#4d7b63"/><path d="M414 263.7 421.8 261.7 417.3 254.5 409.5 256.5Z" fill="#76c8a5" stroke="#477863"/><path d="M530.6 316.5 538.3 312.6 533.8 309.2 526 313Z" fill="#4273b3" stroke="#28456b"/><path d="M455.9 240.6 463.6 237 459.2 229.5 451.4 233.1Z" fill="#a7dba4" stroke="#648462"/><path d="M544.8 296.9 552.6 292.3 548.1 288.3 540.3 293Z" fill="#3d95b8" stroke="#25596e"/><path d="M435.4 325.1 443.2 323.9 438.7 319.4 431 320.6Z" fill="#4e63ac" stroke="#2f3b67"/><path d="M542.4 269.9 550.2 264.6 545.7 259.6 537.9 264.9Z" fill="#6bc4a5" stroke="#407663"/><path d="M425 252.3 432.7 249.8 428.2 242.3 420.5 244.8Z" fill="#8fd2a4" stroke="#567e63"/><path d="M541.5 305 549.3 300.6 544.8 296.9 537 301.3Z" fill="#3387bc" stroke="#1f5171"/><path d="M529 254 536.8 248.7 532.3 242.9 524.6 248.2Z" fill="#8cd1a4" stroke="#547d63"/><path d="M484.2 334.1 491.9 331.8 487.4 328.3 479.7 330.6Z" fill="#5b53a4" stroke="#363262"/><path d="M404.2 288 412 286.8 407.5 280.4 399.7 281.6Z" fill="#4ba4b1" stroke="#2d636a"/><path d="M548.1 288.3 555.9 283.3 551.4 279.1 543.6 284.1Z" fill="#4ea7b0" stroke="#2f646a"/><path d="M495.7 238.7 503.5 233.9 499 227 491.3 231.7Z" fill="#acdda4" stroke="#678562"/><path d="M463.6 237 471.4 233.1 466.9 225.6 459.2 229.5Z" fill="#b1dfa3" stroke="#6a8662"/><path d="M546.9 274.6 554.7 269.4 550.2 264.6 542.4 269.9Z" fill="#62bda7" stroke="#3b7264"/><path d="M452.1 332.1 459.8 330.6 455.4 326.7 447.6 328.1Z" fill="#5758a6" stroke="#343564"/><path d="M414.3 311.7 422.1 310.8 417.6 305.5 409.8 306.4Z" fill="#3b7cb7" stroke="#244a6e"/><path d="M464.3 334.4 472 332.6 467.5 328.9 459.8 330.6Z" fill="#5b53a4" stroke="#363262"/><path d="M409.8 306.4 417.6 305.5 413.1 299.9 405.4 300.8Z" fill="#3585bb" stroke="#205070"/><path d="M483.5 236.2 491.3 231.7 486.8 224.5 479.1 228.9Z" fill="#b1dfa3" stroke="#6a8662"/><path d="M507.9 240.6 515.7 235.6 511.2 228.9 503.5 233.9Z" fill="#aadca4" stroke="#668462"/><path d="M524.6 248.2 532.3 242.9 527.9 236.8 520.1 242Z" fill="#99d6a4" stroke="#5c8063"/><path d="M538.3 312.6 546.1 308.5 541.5 305 533.8 309.2Z" fill="#3b7cb7" stroke="#244a6e"/><path d="M418.7 316.8 426.5 315.8 422.1 310.8 414.3 311.7Z" fill="#4273b3" stroke="#28456b"/><path d="M417.3 254.5 425 252.3 420.5 244.8 412.7 247Z" fill="#8cd1a4" stroke="#547d63"/><path d="M511.9 329.6 519.6 326.6 515.1 323.4 507.4 326.5Z" fill="#545ca8" stroke="#323765"/><path d="M405.4 300.8 413.1 299.9 408.7 294.1 400.9 295Z" fill="#3990ba" stroke="#22566f"/><path d="M403 273.8 410.8 272.3 406.3 265.4 398.5 266.8Z" fill="#64c0a6" stroke="#3c7364"/><path d="M519.6 326.6 527.3 323.2 522.8 320.1 515.1 323.4Z" fill="#4e63ac" stroke="#2f3b67"/><path d="M439.9 329.3 447.6 328.1 443.2 323.9 435.4 325.1Z" fill="#545ca8" stroke="#323765"/><path d="M504.1 332.4 511.9 329.6 507.4 326.5 499.6 329.3Z" fill="#5758a6" stroke="#343564"/><path d="M406.3 265.4 414 263.7 409.5 256.5 401.7 258.2Z" fill="#74c7a5" stroke="#457863"/><path d="M476.5 336.1 484.2 334.1 479.7 330.6 472 332.6Z" fill="#5c51a3" stroke="#373162"/><path d="M551.4 279.1 559.2 273.9 554.7 269.4 546.9 274.6Z" fill="#5cb7aa" stroke="#376e66"/><path d="M423.2 321.5 431 320.6 426.5 315.8 418.7 316.8Z" fill="#486cb0" stroke="#2b4169"/><path d="M527.3 323.2 535.1 319.6 530.6 316.5 522.8 320.1Z" fill="#496aaf" stroke="#2c3f69"/><path d="M471.4 233.1 479.1 228.9 474.6 221.4 466.9 225.6Z" fill="#b8e2a1" stroke="#6e8861"/><path d="M399.7 281.6 407.5 280.4 403 273.8 395.2 274.9Z" fill="#58b2ac" stroke="#356b67"/><path d="M400.9 295 408.7 294.1 404.2 288 396.4 288.9Z" fill="#439bb5" stroke="#285d6d"/><path d="M549.3 300.6 557.1 295.9 552.6 292.3 544.8 296.9Z" fill="#3b92b9" stroke="#24586f"/><path d="M496.4 335 504.1 332.4 499.6 329.3 491.9 331.8Z" fill="#5956a5" stroke="#353363"/><path d="M520.1 242 527.9 236.8 523.4 230.3 515.7 235.6Z" fill="#aadca4" stroke="#668462"/><path d="M436 239.5 443.7 236.4 439.2 228.6 431.5 231.7Z" fill="#acdda4" stroke="#678562"/><path d="M552.6 292.3 560.4 287.3 555.9 283.3 548.1 288.3Z" fill="#47a0b3" stroke="#2b606b"/><path d="M443.7 236.4 451.4 233.1 446.9 225.3 439.2 228.6Z" fill="#b3e0a2" stroke="#6b8761"/><path d="M409.5 256.5 417.3 254.5 412.7 247 405 249Z" fill="#89d0a4" stroke="#527d63"/><path d="M428.2 242.3 436 239.5 431.5 231.7 423.7 234.5Z" fill="#a7dba4" stroke="#648462"/><path d="M546.1 308.5 553.8 304 549.3 300.6 541.5 305Z" fill="#3585bb" stroke="#205070"/><path d="M535.1 319.6 542.8 315.8 538.3 312.6 530.6 316.5Z" fill="#4471b2" stroke="#29446b"/><path d="M545.7 259.6 553.5 254.1 549 248.8 541.2 254.3Z" fill="#84cea5" stroke="#4f7b63"/><path d="M427.6 326 435.4 325.1 431 320.6 423.2 321.5Z" fill="#4d65ad" stroke="#2e3d68"/><path d="M491.3 231.7 499 227 494.6 219.7 486.8 224.5Z" fill="#bce4a0" stroke="#718960"/><path d="M541.2 254.3 549 248.8 544.6 243.2 536.8 248.7Z" fill="#8fd2a4" stroke="#567e63"/><path d="M451.4 233.1 459.2 229.5 454.7 221.7 446.9 225.3Z" fill="#bae3a1" stroke="#708861"/><path d="M456.5 335.8 464.3 334.4 459.8 330.6 452.1 332.1Z" fill="#5b53a4" stroke="#363262"/><path d="M503.5 233.9 511.2 228.9 506.8 222 499 227Z" fill="#b8e2a1" stroke="#6e8861"/><path d="M550.2 264.6 558 259.1 553.5 254.1 545.7 259.6Z" fill="#7ccaa5" stroke="#4a7963"/><path d="M488.7 337.2 496.4 335 491.9 331.8 484.2 334.1Z" fill="#5c51a3" stroke="#373162"/><path d="M420.5 244.8 428.2 242.3 423.7 234.5 416 237Z" fill="#a4daa4" stroke="#638362"/><path d="M555.9 283.3 563.7 278.1 559.2 273.9 551.4 279.1Z" fill="#58b2ac" stroke="#356b67"/><path d="M444.3 333.3 452.1 332.1 447.6 328.1 439.9 329.3Z" fill="#5758a6" stroke="#343564"/><path d="M396.4 288.9 404.2 288 399.7 281.6 391.9 282.5Z" fill="#4ea7b0" stroke="#2f646a"/><path d="M536.8 248.7 544.6 243.2 540.1 237.3 532.3 242.9Z" fill="#9cd7a4" stroke="#5e8163"/><path d="M468.7 337.8 476.5 336.1 472 332.6 464.3 334.4Z" fill="#5c51a3" stroke="#373162"/><path d="M479.1 228.9 486.8 224.5 482.4 216.9 474.6 221.4Z" fill="#c3e79f" stroke="#758b5f"/><path d="M398.5 266.8 406.3 265.4 401.7 258.2 393.9 259.6Z" fill="#74c7a5" stroke="#457863"/><path d="M515.7 235.6 523.4 230.3 519 223.7 511.2 228.9Z" fill="#b8e2a1" stroke="#6e8861"/><path d="M459.2 229.5 466.9 225.6 462.4 217.8 454.7 221.7Z" fill="#c1e6a0" stroke="#748a60"/><path d="M554.7 269.4 562.5 263.9 558 259.1 550.2 264.6Z" fill="#71c6a5" stroke="#447763"/><path d="M395.2 274.9 403 273.8 398.5 266.8 390.7 268Z" fill="#64c0a6" stroke="#3c7364"/><path d="M542.8 315.8 550.6 311.6 546.1 308.5 538.3 312.6Z" fill="#3d79b6" stroke="#25496d"/><path d="M406.5 312.4 414.3 311.7 409.8 306.4 402 307.1Z" fill="#3a7eb8" stroke="#234c6f"/><path d="M402 307.1 409.8 306.4 405.4 300.8 397.5 301.5Z" fill="#3387bc" stroke="#1f5171"/><path d="M532.3 242.9 540.1 237.3 535.7 231.2 527.9 236.8Z" fill="#aadca4" stroke="#668462"/><path d="M412.7 247 420.5 244.8 416 237 408.2 239.2Z" fill="#9fd8a4" stroke="#5f8263"/><path d="M401.7 258.2 409.5 256.5 405 249 397.2 250.7Z" fill="#89d0a4" stroke="#527d63"/><path d="M432.1 330.3 439.9 329.3 435.4 325.1 427.6 326Z" fill="#525fa9" stroke="#313966"/><path d="M410.9 317.4 418.7 316.8 414.3 311.7 406.5 312.4Z" fill="#4175b4" stroke="#27466c"/><path d="M557.1 295.9 564.9 291 560.4 287.3 552.6 292.3Z" fill="#459eb4" stroke="#2a5f6c"/><path d="M397.5 301.5 405.4 300.8 400.9 295 393 295.6Z" fill="#3b92b9" stroke="#24586f"/><path d="M480.9 339.3 488.7 337.2 484.2 334.1 476.5 336.1Z" fill="#5c51a3" stroke="#373162"/><path d="M516.4 332.5 524.1 329.5 519.6 326.6 511.9 329.6Z" fill="#545ca8" stroke="#323765"/><path d="M553.8 304 561.6 299.4 557.1 295.9 549.3 300.6Z" fill="#3990ba" stroke="#22566f"/><path d="M524.1 329.5 531.8 326.1 527.3 323.2 519.6 326.6Z" fill="#5061aa" stroke="#303a66"/><path d="M391.9 282.5 399.7 281.6 395.2 274.9 387.4 275.8Z" fill="#5ab4ab" stroke="#366c66"/><path d="M508.6 335.4 516.4 332.5 511.9 329.6 504.1 332.4Z" fill="#5758a6" stroke="#343564"/><path d="M559.2 273.9 567 268.4 562.5 263.9 554.7 269.4Z" fill="#69c3a5" stroke="#3f7563"/><path d="M466.9 225.6 474.6 221.4 470.1 213.6 462.4 217.8Z" fill="#caea9e" stroke="#798c5f"/><path d="M560.4 287.3 568.2 282.1 563.7 278.1 555.9 283.3Z" fill="#54aead" stroke="#326868"/><path d="M415.4 322.2 423.2 321.5 418.7 316.8 410.9 317.4Z" fill="#466eb1" stroke="#2a426a"/><path d="M531.8 326.1 539.6 322.5 535.1 319.6 527.3 323.2Z" fill="#4b68ae" stroke="#2d3e68"/><path d="M499 227 506.8 222 502.3 214.7 494.6 219.7Z" fill="#c8e99e" stroke="#788c5f"/><path d="M527.9 236.8 535.7 231.2 531.2 224.8 523.4 230.3Z" fill="#b8e2a1" stroke="#6e8861"/><path d="M393 295.6 400.9 295 396.4 288.9 388.6 289.5Z" fill="#459eb4" stroke="#2a5f6c"/><path d="M448.7 337 456.5 335.8 452.1 332.1 444.3 333.3Z" fill="#5956a5" stroke="#353363"/><path d="M500.9 337.9 508.6 335.4 504.1 332.4 496.4 335Z" fill="#5b53a4" stroke="#363262"/><path d="M461 339.3 468.7 337.8 464.3 334.4 456.5 335.8Z" fill="#5c51a3" stroke="#373162"/><path d="M405 249 412.7 247 408.2 239.2 400.4 241.2Z" fill="#9fd8a4" stroke="#5f8263"/><path d="M486.8 224.5 494.6 219.7 490.1 212.2 482.4 216.9Z" fill="#cdeb9d" stroke="#7b8d5e"/><path d="M550.6 311.6 558.4 307.2 553.8 304 546.1 308.5Z" fill="#3682ba" stroke="#214e70"/><path d="M511.2 228.9 519 223.7 514.5 216.7 506.8 222Z" fill="#c6e89f" stroke="#778b5f"/><path d="M431.5 231.7 439.2 228.6 434.7 220.5 427 223.6Z" fill="#bfe5a0" stroke="#728960"/><path d="M439.2 228.6 446.9 225.3 442.4 217.2 434.7 220.5Z" fill="#c6e89f" stroke="#778b5f"/><path d="M423.7 234.5 431.5 231.7 427 223.6 419.2 226.4Z" fill="#bae3a1" stroke="#708861"/><path d="M539.6 322.5 547.4 318.7 542.8 315.8 535.1 319.6Z" fill="#4471b2" stroke="#29446b"/><path d="M419.8 326.7 427.6 326 423.2 321.5 415.4 322.2Z" fill="#4b68ae" stroke="#2d3e68"/><path d="M436.5 334.3 444.3 333.3 439.9 329.3 432.1 330.3Z" fill="#555aa7" stroke="#333664"/><path d="M390.7 268 398.5 266.8 393.9 259.6 386.1 260.8Z" fill="#76c8a5" stroke="#477863"/><path d="M473.2 341 480.9 339.3 476.5 336.1 468.7 337.8Z" fill="#5e4fa2" stroke="#382f61"/><path d="M553.5 254.1 561.3 248.3 556.9 242.9 549 248.8Z" fill="#97d5a4" stroke="#5a8063"/><path d="M446.9 225.3 454.7 221.7 450.2 213.6 442.4 217.2Z" fill="#cdeb9d" stroke="#7b8d5e"/><path d="M563.7 278.1 571.5 272.6 567 268.4 559.2 273.9Z" fill="#64c0a6" stroke="#3c7364"/><path d="M549 248.8 556.9 242.9 552.4 237.4 544.6 243.2Z" fill="#a2d9a4" stroke="#618262"/><path d="M393.9 259.6 401.7 258.2 397.2 250.7 389.4 252.1Z" fill="#89d0a4" stroke="#527d63"/><path d="M493.1 340.2 500.9 337.9 496.4 335 488.7 337.2Z" fill="#5c51a3" stroke="#373162"/><path d="M388.6 289.5 396.4 288.9 391.9 282.5 384 283.1Z" fill="#50a9af" stroke="#306569"/><path d="M416 237 423.7 234.5 419.2 226.4 411.4 228.9Z" fill="#b8e2a1" stroke="#6e8861"/><path d="M474.6 221.4 482.4 216.9 477.9 209.1 470.1 213.6Z" fill="#d3ed9c" stroke="#7f8e5d"/><path d="M558 259.1 565.8 253.3 561.3 248.3 553.5 254.1Z" fill="#8cd1a4" stroke="#547d63"/><path d="M387.4 275.8 395.2 274.9 390.7 268 382.8 268.9Z" fill="#66c2a5" stroke="#3d7463"/><path d="M544.6 243.2 552.4 237.4 547.9 231.5 540.1 237.3Z" fill="#acdda4" stroke="#678562"/><path d="M523.4 230.3 531.2 224.8 526.8 218.1 519 223.7Z" fill="#c3e79f" stroke="#758b5f"/><path d="M561.6 299.4 569.4 294.4 564.9 291 557.1 295.9Z" fill="#439bb5" stroke="#285d6d"/><path d="M454.7 221.7 462.4 217.8 457.9 209.7 450.2 213.6Z" fill="#d3ed9c" stroke="#7f8e5d"/><path d="M564.9 291 572.7 285.7 568.2 282.1 560.4 287.3Z" fill="#50a9af" stroke="#306569"/><path d="M397.2 250.7 405 249 400.4 241.2 392.6 242.9Z" fill="#9cd7a4" stroke="#5e8163"/><path d="M547.4 318.7 555.1 314.5 550.6 311.6 542.8 315.8Z" fill="#3f77b5" stroke="#26486d"/><path d="M562.5 263.9 570.3 258.1 565.8 253.3 558 259.1Z" fill="#81cda5" stroke="#4d7b63"/><path d="M424.3 331 432.1 330.3 427.6 326 419.8 326.7Z" fill="#5061aa" stroke="#303a66"/><path d="M408.2 239.2 416 237 411.4 228.9 403.7 231.2Z" fill="#b3e0a2" stroke="#6b8761"/><path d="M558.4 307.2 566.2 302.5 561.6 299.4 553.8 304Z" fill="#378ebb" stroke="#215570"/><path d="M540.1 237.3 547.9 231.5 543.5 225.3 535.7 231.2Z" fill="#b8e2a1" stroke="#6e8861"/><path d="M398.6 312.8 406.5 312.4 402 307.1 394.2 307.5Z" fill="#3682ba" stroke="#214e70"/><path d="M394.2 307.5 402 307.1 397.5 301.5 389.7 301.9Z" fill="#358bbc" stroke="#205471"/><path d="M485.4 342.2 493.1 340.2 488.7 337.2 480.9 339.3Z" fill="#5e4fa2" stroke="#382f61"/><path d="M494.6 219.7 502.3 214.7 497.9 207.2 490.1 212.2Z" fill="#d8ef9b" stroke="#82905d"/><path d="M506.8 222 514.5 216.7 510.1 209.4 502.3 214.7Z" fill="#d3ed9c" stroke="#7f8e5d"/><path d="M403.1 317.8 410.9 317.4 406.5 312.4 398.6 312.8Z" fill="#3d79b6" stroke="#25496d"/><path d="M453.2 340.5 461 339.3 456.5 335.8 448.7 337Z" fill="#5c51a3" stroke="#373162"/><path d="M384 283.1 391.9 282.5 387.4 275.8 379.5 276.4Z" fill="#5cb7aa" stroke="#376e66"/><path d="M568.2 282.1 576 276.5 571.5 272.6 563.7 278.1Z" fill="#60bba8" stroke="#3a7065"/><path d="M389.7 301.9 397.5 301.5 393 295.6 385.2 296Z" fill="#3d95b8" stroke="#25596e"/><path d="M520.9 335.2 528.6 332.1 524.1 329.5 516.4 332.5Z" fill="#545ca8" stroke="#323765"/><path d="M441 338 448.7 337 444.3 333.3 436.5 334.3Z" fill="#5956a5" stroke="#353363"/><path d="M567 268.4 574.8 262.5 570.3 258.1 562.5 263.9Z" fill="#7ccaa5" stroke="#4a7963"/><path d="M528.6 332.1 536.4 328.8 531.8 326.1 524.1 329.5Z" fill="#5061aa" stroke="#303a66"/><path d="M465.4 342.5 473.2 341 468.7 337.8 461 339.3Z" fill="#5e4fa2" stroke="#382f61"/><path d="M462.4 217.8 470.1 213.6 465.7 205.5 457.9 209.7Z" fill="#ddf19a" stroke="#84915c"/><path d="M513.1 338 520.9 335.2 516.4 332.5 508.6 335.4Z" fill="#5758a6" stroke="#343564"/><path d="M482.4 216.9 490.1 212.2 485.6 204.4 477.9 209.1Z" fill="#dff299" stroke="#86915c"/><path d="M407.6 322.6 415.4 322.2 410.9 317.4 403.1 317.8Z" fill="#4273b3" stroke="#28456b"/><path d="M519 223.7 526.8 218.1 522.3 211.1 514.5 216.7Z" fill="#d3ed9c" stroke="#7f8e5d"/><path d="M535.7 231.2 543.5 225.3 539 218.9 531.2 224.8Z" fill="#c6e89f" stroke="#778b5f"/><path d="M386.1 260.8 393.9 259.6 389.4 252.1 381.6 253.3Z" fill="#89d0a4" stroke="#527d63"/><path d="M536.4 328.8 544.2 325.2 539.6 322.5 531.8 326.1Z" fill="#4b68ae" stroke="#2d3e68"/><path d="M555.1 314.5 562.9 310.1 558.4 307.2 550.6 311.6Z" fill="#3682ba" stroke="#214e70"/><path d="M385.2 296 393 295.6 388.6 289.5 380.7 289.9Z" fill="#47a0b3" stroke="#2b606b"/><path d="M400.4 241.2 408.2 239.2 403.7 231.2 395.9 233.1Z" fill="#b1dfa3" stroke="#6a8662"/><path d="M382.8 268.9 390.7 268 386.1 260.8 378.3 261.6Z" fill="#79c9a5" stroke="#497963"/><path d="M505.4 340.6 513.1 338 508.6 335.4 500.9 337.9Z" fill="#5b53a4" stroke="#363262"/><path d="M428.7 335 436.5 334.3 432.1 330.3 424.3 331Z" fill="#545ca8" stroke="#323765"/><path d="M389.4 252.1 397.2 250.7 392.6 242.9 384.8 244.3Z" fill="#9cd7a4" stroke="#5e8163"/><path d="M427 223.6 434.7 220.5 430.2 212.2 422.4 215.2Z" fill="#d3ed9c" stroke="#7f8e5d"/><path d="M477.7 343.9 485.4 342.2 480.9 339.3 473.2 341Z" fill="#5e4fa2" stroke="#382f61"/><path d="M434.7 220.5 442.4 217.2 437.9 208.8 430.2 212.2Z" fill="#d8ef9b" stroke="#82905d"/><path d="M412 327.1 419.8 326.7 415.4 322.2 407.6 322.6Z" fill="#486cb0" stroke="#2b4169"/><path d="M544.2 325.2 551.9 321.3 547.4 318.7 539.6 322.5Z" fill="#4471b2" stroke="#29446b"/><path d="M419.2 226.4 427 223.6 422.4 215.2 414.7 218Z" fill="#cfec9d" stroke="#7c8d5e"/><path d="M569.4 294.4 577.3 289.2 572.7 285.7 564.9 291Z" fill="#4ea7b0" stroke="#2f646a"/><path d="M571.5 272.6 579.4 266.8 574.8 262.5 567 268.4Z" fill="#74c7a5" stroke="#457863"/><path d="M566.2 302.5 574 297.5 569.4 294.4 561.6 299.4Z" fill="#4199b6" stroke="#275c6d"/><path d="M379.5 276.4 387.4 275.8 382.8 268.9 375 269.5Z" fill="#69c3a5" stroke="#3f7563"/><path d="M470.1 213.6 477.9 209.1 473.4 201 465.7 205.5Z" fill="#e6f598" stroke="#8a935b"/><path d="M442.4 217.2 450.2 213.6 445.7 205.2 437.9 208.8Z" fill="#dff299" stroke="#86915c"/><path d="M380.7 289.9 388.6 289.5 384 283.1 376.2 283.5Z" fill="#54aead" stroke="#326868"/><path d="M497.6 342.8 505.4 340.6 500.9 337.9 493.1 340.2Z" fill="#5c51a3" stroke="#373162"/><path d="M561.3 248.3 569.2 242.1 564.7 236.8 556.9 242.9Z" fill="#a7dba4" stroke="#648462"/><path d="M556.9 242.9 564.7 236.8 560.2 231.2 552.4 237.4Z" fill="#b1dfa3" stroke="#6a8662"/><path d="M572.7 285.7 580.6 280.2 576 276.5 568.2 282.1Z" fill="#5cb7aa" stroke="#376e66"/><path d="M531.2 224.8 539 218.9 534.6 212.2 526.8 218.1Z" fill="#d3ed9c" stroke="#7f8e5d"/><path d="M411.4 228.9 419.2 226.4 414.7 218 406.9 220.5Z" fill="#caea9e" stroke="#798c5f"/><path d="M565.8 253.3 573.7 247.2 569.2 242.1 561.3 248.3Z" fill="#9fd8a4" stroke="#5f8263"/><path d="M502.3 214.7 510.1 209.4 505.6 201.8 497.9 207.2Z" fill="#e6f598" stroke="#8a935b"/><path d="M552.4 237.4 560.2 231.2 555.8 225.4 547.9 231.5Z" fill="#bce4a0" stroke="#718960"/><path d="M392.6 242.9 400.4 241.2 395.9 233.1 388.1 234.8Z" fill="#b1dfa3" stroke="#6a8662"/><path d="M445.4 341.5 453.2 340.5 448.7 337 441 338Z" fill="#5b53a4" stroke="#363262"/><path d="M562.9 310.1 570.8 305.4 566.2 302.5 558.4 307.2Z" fill="#358bbc" stroke="#205471"/><path d="M457.7 343.7 465.4 342.5 461 339.3 453.2 340.5Z" fill="#5c51a3" stroke="#373162"/><path d="M490.1 212.2 497.9 207.2 493.4 199.3 485.6 204.4Z" fill="#e8f69b" stroke="#8b935d"/><path d="M551.9 321.3 559.7 317.2 555.1 314.5 547.4 318.7Z" fill="#3f77b5" stroke="#26486d"/><path d="M450.2 213.6 457.9 209.7 453.4 201.3 445.7 205.2Z" fill="#e6f598" stroke="#8a935b"/><path d="M514.5 216.7 522.3 211.1 517.9 203.8 510.1 209.4Z" fill="#e1f399" stroke="#87925c"/><path d="M570.3 258.1 578.2 252 573.7 247.2 565.8 253.3Z" fill="#94d4a4" stroke="#597f63"/><path d="M416.5 331.4 424.3 331 419.8 326.7 412 327.1Z" fill="#4d65ad" stroke="#2e3d68"/><path d="M403.7 231.2 411.4 228.9 406.9 220.5 399.1 222.8Z" fill="#c8e99e" stroke="#788c5f"/><path d="M547.9 231.5 555.8 225.4 551.3 219.2 543.5 225.3Z" fill="#c8e99e" stroke="#788c5f"/><path d="M489.9 344.9 497.6 342.8 493.1 340.2 485.4 342.2Z" fill="#5e4fa2" stroke="#382f61"/><path d="M433.2 338.7 441 338 436.5 334.3 428.7 335Z" fill="#555aa7" stroke="#333664"/><path d="M576 276.5 583.9 270.7 579.4 266.8 571.5 272.6Z" fill="#6ec5a5" stroke="#427663"/><path d="M390.8 312.9 398.6 312.8 394.2 307.5 386.3 307.6Z" fill="#3387bc" stroke="#1f5171"/><path d="M376.2 283.5 384 283.1 379.5 276.4 371.6 276.8Z" fill="#60bba8" stroke="#3a7065"/><path d="M386.3 307.6 394.2 307.5 389.7 301.9 381.8 302Z" fill="#3990ba" stroke="#22566f"/><path d="M469.9 345.4 477.7 343.9 473.2 341 465.4 342.5Z" fill="#5e4fa2" stroke="#382f61"/><path d="M378.3 261.6 386.1 260.8 381.6 253.3 373.7 254.1Z" fill="#8cd1a4" stroke="#547d63"/><path d="M381.6 253.3 389.4 252.1 384.8 244.3 377 245.4Z" fill="#9fd8a4" stroke="#5f8263"/><path d="M395.2 317.9 403.1 317.8 398.6 312.8 390.8 312.9Z" fill="#3a7eb8" stroke="#234c6f"/><path d="M477.9 209.1 485.6 204.4 481.2 196.2 473.4 201Z" fill="#ebf7a0" stroke="#8d9460"/><path d="M381.8 302 389.7 301.9 385.2 296 377.3 296.1Z" fill="#439bb5" stroke="#285d6d"/><path d="M457.9 209.7 465.7 205.5 461.2 197.1 453.4 201.3Z" fill="#eaf79e" stroke="#8c945f"/><path d="M574.8 262.5 582.7 256.5 578.2 252 570.3 258.1Z" fill="#8cd1a4" stroke="#547d63"/><path d="M526.8 218.1 534.6 212.2 530.1 205.2 522.3 211.1Z" fill="#e1f399" stroke="#87925c"/><path d="M375 269.5 382.8 268.9 378.3 261.6 370.4 262.2Z" fill="#7ccaa5" stroke="#4a7963"/><path d="M525.4 337.6 533.2 334.5 528.6 332.1 520.9 335.2Z" fill="#545ca8" stroke="#323765"/><path d="M533.2 334.5 540.9 331.2 536.4 328.8 528.6 332.1Z" fill="#4e63ac" stroke="#2f3b67"/><path d="M517.7 340.4 525.4 337.6 520.9 335.2 513.1 338Z" fill="#5758a6" stroke="#343564"/><path d="M559.7 317.2 567.5 312.7 562.9 310.1 555.1 314.5Z" fill="#3682ba" stroke="#214e70"/><path d="M543.5 225.3 551.3 219.2 546.9 212.8 539 218.9Z" fill="#d3ed9c" stroke="#7f8e5d"/><path d="M399.7 322.7 407.6 322.6 403.1 317.8 395.2 317.9Z" fill="#3f77b5" stroke="#26486d"/><path d="M574 297.5 581.9 292.3 577.3 289.2 569.4 294.4Z" fill="#4ba4b1" stroke="#2d636a"/><path d="M395.9 233.1 403.7 231.2 399.1 222.8 391.3 224.7Z" fill="#c6e89f" stroke="#778b5f"/><path d="M384.8 244.3 392.6 242.9 388.1 234.8 380.2 236.2Z" fill="#b1dfa3" stroke="#6a8662"/><path d="M577.3 289.2 585.1 283.6 580.6 280.2 572.7 285.7Z" fill="#5ab4ab" stroke="#366c66"/><path d="M540.9 331.2 548.7 327.6 544.2 325.2 536.4 328.8Z" fill="#496aaf" stroke="#2c3f69"/><path d="M377.3 296.1 385.2 296 380.7 289.9 372.8 290Z" fill="#4ea7b0" stroke="#2f646a"/><path d="M420.9 335.4 428.7 335 424.3 331 416.5 331.4Z" fill="#5061aa" stroke="#303a66"/><path d="M509.9 343 517.7 340.4 513.1 338 505.4 340.6Z" fill="#5956a5" stroke="#353363"/><path d="M570.8 305.4 578.6 300.4 574 297.5 566.2 302.5Z" fill="#3f97b7" stroke="#265a6e"/><path d="M482.1 346.6 489.9 344.9 485.4 342.2 477.7 343.9Z" fill="#5e4fa2" stroke="#382f61"/><path d="M371.6 276.8 379.5 276.4 375 269.5 367.1 269.8Z" fill="#6ec5a5" stroke="#427663"/><path d="M579.4 266.8 587.3 260.7 582.7 256.5 574.8 262.5Z" fill="#86cfa5" stroke="#517c63"/><path d="M422.4 215.2 430.2 212.2 425.6 203.5 417.9 206.6Z" fill="#e6f598" stroke="#8a935b"/><path d="M497.9 207.2 505.6 201.8 501.2 194 493.4 199.3Z" fill="#edf8a3" stroke="#8e9562"/><path d="M404.2 327.3 412 327.1 407.6 322.6 399.7 322.7Z" fill="#4471b2" stroke="#29446b"/><path d="M510.1 209.4 517.9 203.8 513.4 196.2 505.6 201.8Z" fill="#ebf7a0" stroke="#8d9460"/><path d="M449.9 344.7 457.7 343.7 453.2 340.5 445.4 341.5Z" fill="#5c51a3" stroke="#373162"/><path d="M548.7 327.6 556.5 323.7 551.9 321.3 544.2 325.2Z" fill="#4471b2" stroke="#29446b"/><path d="M430.2 212.2 437.9 208.8 433.4 200.1 425.6 203.5Z" fill="#e9f69d" stroke="#8c945e"/><path d="M580.6 280.2 588.5 274.4 583.9 270.7 576 276.5Z" fill="#69c3a5" stroke="#3f7563"/><path d="M465.7 205.5 473.4 201 468.9 192.6 461.2 197.1Z" fill="#eef8a4" stroke="#8f9563"/><path d="M414.7 218 422.4 215.2 417.9 206.6 410.1 209.3Z" fill="#e1f399" stroke="#87925c"/><path d="M437.6 342.1 445.4 341.5 441 338 433.2 338.7Z" fill="#5956a5" stroke="#353363"/><path d="M372.8 290 380.7 289.9 376.2 283.5 368.3 283.6Z" fill="#58b2ac" stroke="#356b67"/><path d="M539 218.9 546.9 212.8 542.4 206 534.6 212.2Z" fill="#e1f399" stroke="#87925c"/><path d="M502.2 345.2 509.9 343 505.4 340.6 497.6 342.8Z" fill="#5c51a3" stroke="#373162"/><path d="M462.1 346.6 469.9 345.4 465.4 342.5 457.7 343.7Z" fill="#5e4fa2" stroke="#382f61"/><path d="M437.9 208.8 445.7 205.2 441.1 196.5 433.4 200.1Z" fill="#ecf7a1" stroke="#8e9461"/><path d="M485.6 204.4 493.4 199.3 488.9 191.2 481.2 196.2Z" fill="#f0f9a7" stroke="#909564"/><path d="M569.2 242.1 577.1 235.7 572.6 230.4 564.7 236.8Z" fill="#b8e2a1" stroke="#6e8861"/><path d="M564.7 236.8 572.6 230.4 568.1 224.8 560.2 231.2Z" fill="#c3e79f" stroke="#758b5f"/><path d="M388.1 234.8 395.9 233.1 391.3 224.7 383.5 226.4Z" fill="#c3e79f" stroke="#758b5f"/><path d="M406.9 220.5 414.7 218 410.1 209.3 402.3 211.9Z" fill="#dff299" stroke="#86915c"/><path d="M522.3 211.1 530.1 205.2 525.7 197.9 517.9 203.8Z" fill="#ebf7a0" stroke="#8d9460"/><path d="M567.5 312.7 575.4 308 570.8 305.4 562.9 310.1Z" fill="#358bbc" stroke="#205471"/><path d="M573.7 247.2 581.6 240.8 577.1 235.7 569.2 242.1Z" fill="#b1dfa3" stroke="#6a8662"/><path d="M373.7 254.1 381.6 253.3 377 245.4 369.1 246.3Z" fill="#9fd8a4" stroke="#5f8263"/><path d="M560.2 231.2 568.1 224.8 563.7 218.9 555.8 225.4Z" fill="#cdeb9d" stroke="#7b8d5e"/><path d="M370.4 262.2 378.3 261.6 373.7 254.1 365.8 254.7Z" fill="#8fd2a4" stroke="#567e63"/><path d="M556.5 323.7 564.3 319.5 559.7 317.2 551.9 321.3Z" fill="#3d79b6" stroke="#25496d"/><path d="M445.7 205.2 453.4 201.3 448.9 192.5 441.1 196.5Z" fill="#eff9a6" stroke="#8f9563"/><path d="M408.6 331.5 416.5 331.4 412 327.1 404.2 327.3Z" fill="#496aaf" stroke="#2c3f69"/><path d="M425.3 339.1 433.2 338.7 428.7 335 420.9 335.4Z" fill="#545ca8" stroke="#323765"/><path d="M377 245.4 384.8 244.3 380.2 236.2 372.4 237.4Z" fill="#b1dfa3" stroke="#6a8662"/><path d="M578.2 252 586.1 245.6 581.6 240.8 573.7 247.2Z" fill="#a7dba4" stroke="#648462"/><path d="M474.4 348.1 482.1 346.6 477.7 343.9 469.9 345.4Z" fill="#5e4fa2" stroke="#382f61"/><path d="M583.9 270.7 591.8 264.6 587.3 260.7 579.4 266.8Z" fill="#81cda5" stroke="#4d7b63"/><path d="M399.1 222.8 406.9 220.5 402.3 211.9 394.5 214.1Z" fill="#daf09a" stroke="#83905d"/><path d="M494.4 347.3 502.2 345.2 497.6 342.8 489.9 344.9Z" fill="#5c51a3" stroke="#373162"/><path d="M368.3 283.6 376.2 283.5 371.6 276.8 363.7 276.9Z" fill="#64c0a6" stroke="#3c7364"/><path d="M555.8 225.4 563.7 218.9 559.2 212.8 551.3 219.2Z" fill="#d8ef9b" stroke="#82905d"/><path d="M581.9 292.3 589.7 286.8 585.1 283.6 577.3 289.2Z" fill="#58b2ac" stroke="#356b67"/><path d="M473.4 201 481.2 196.2 476.7 187.8 468.9 192.6Z" fill="#f3faac" stroke="#929667"/><path d="M367.1 269.8 375 269.5 370.4 262.2 362.5 262.6Z" fill="#81cda5" stroke="#4d7b63"/><path d="M578.6 300.4 586.5 295.2 581.9 292.3 574 297.5Z" fill="#4ba4b1" stroke="#2d636a"/><path d="M382.9 312.7 390.8 312.9 386.3 307.6 378.4 307.4Z" fill="#358bbc" stroke="#205471"/><path d="M378.4 307.4 386.3 307.6 381.8 302 373.9 301.8Z" fill="#3d95b8" stroke="#25596e"/><path d="M534.6 212.2 542.4 206 538 199 530.1 205.2Z" fill="#ebf7a0" stroke="#8d9460"/><path d="M387.4 317.8 395.2 317.9 390.8 312.9 382.9 312.7Z" fill="#3585bb" stroke="#205070"/><path d="M585.1 283.6 593 277.8 588.5 274.4 580.6 280.2Z" fill="#66c2a5" stroke="#3d7463"/><path d="M453.4 201.3 461.2 197.1 456.7 188.3 448.9 192.5Z" fill="#f3faac" stroke="#929667"/><path d="M582.7 256.5 590.6 250.1 586.1 245.6 578.2 252Z" fill="#9fd8a4" stroke="#5f8263"/><path d="M373.9 301.8 381.8 302 377.3 296.1 369.4 295.9Z" fill="#47a0b3" stroke="#2b606b"/><path d="M380.2 236.2 388.1 234.8 383.5 226.4 375.6 227.8Z" fill="#c3e79f" stroke="#758b5f"/><path d="M564.3 319.5 572.1 315.1 567.5 312.7 559.7 317.2Z" fill="#3682ba" stroke="#214e70"/><path d="M530 339.7 537.7 336.7 533.2 334.5 525.4 337.6Z" fill="#525fa9" stroke="#313966"/><path d="M505.6 201.8 513.4 196.2 509 188.3 501.2 194Z" fill="#f3faac" stroke="#929667"/><path d="M537.7 336.7 545.5 333.3 540.9 331.2 533.2 334.5Z" fill="#4d65ad" stroke="#2e3d68"/><path d="M551.3 219.2 559.2 212.8 554.7 206.3 546.9 212.8Z" fill="#e6f598" stroke="#8a935b"/><path d="M391.3 224.7 399.1 222.8 394.5 214.1 386.7 216.1Z" fill="#daf09a" stroke="#83905d"/><path d="M575.4 308 583.2 303.1 578.6 300.4 570.8 305.4Z" fill="#3f97b7" stroke="#265a6e"/><path d="M413.1 335.5 420.9 335.4 416.5 331.4 408.6 331.5Z" fill="#4d65ad" stroke="#2e3d68"/><path d="M522.2 342.6 530 339.7 525.4 337.6 517.7 340.4Z" fill="#555aa7" stroke="#333664"/><path d="M391.8 322.6 399.7 322.7 395.2 317.9 387.4 317.8Z" fill="#3b7cb7" stroke="#244a6e"/><path d="M442.1 345.4 449.9 344.7 445.4 341.5 437.6 342.1Z" fill="#5956a5" stroke="#353363"/><path d="M454.3 347.6 462.1 346.6 457.7 343.7 449.9 344.7Z" fill="#5c51a3" stroke="#373162"/><path d="M493.4 199.3 501.2 194 496.7 185.8 488.9 191.2Z" fill="#f5fbaf" stroke="#939769"/><path d="M517.9 203.8 525.7 197.9 521.3 190.3 513.4 196.2Z" fill="#f2faaa" stroke="#919666"/><path d="M369.4 295.9 377.3 296.1 372.8 290 364.9 289.8Z" fill="#52abae" stroke="#316769"/><path d="M486.6 349 494.4 347.3 489.9 344.9 482.1 346.6Z" fill="#5e4fa2" stroke="#382f61"/><path d="M545.5 333.3 553.3 329.7 548.7 327.6 540.9 331.2Z" fill="#486cb0" stroke="#2b4169"/><path d="M363.7 276.9 371.6 276.8 367.1 269.8 359.2 269.9Z" fill="#74c7a5" stroke="#457863"/><path d="M514.4 345.1 522.2 342.6 517.7 340.4 509.9 343Z" fill="#5956a5" stroke="#353363"/><path d="M588.5 274.4 596.4 268.3 591.8 264.6 583.9 270.7Z" fill="#7ccaa5" stroke="#4a7963"/><path d="M429.8 342.6 437.6 342.1 433.2 338.7 425.3 339.1Z" fill="#555aa7" stroke="#333664"/><path d="M587.3 260.7 595.2 254.3 590.6 250.1 582.7 256.5Z" fill="#99d6a4" stroke="#5c8063"/><path d="M466.6 349.3 474.4 348.1 469.9 345.4 462.1 346.6Z" fill="#5e4fa2" stroke="#382f61"/><path d="M461.2 197.1 468.9 192.6 464.4 183.8 456.7 188.3Z" fill="#f7fcb2" stroke="#94976b"/><path d="M365.8 254.7 373.7 254.1 369.1 246.3 361.2 246.9Z" fill="#a4daa4" stroke="#638362"/><path d="M396.3 327.1 404.2 327.3 399.7 322.7 391.8 322.6Z" fill="#4175b4" stroke="#27466c"/><path d="M481.2 196.2 488.9 191.2 484.5 182.7 476.7 187.8Z" fill="#f8fcb4" stroke="#95976c"/><path d="M369.1 246.3 377 245.4 372.4 237.4 364.5 238.2Z" fill="#b3e0a2" stroke="#6b8761"/><path d="M553.3 329.7 561.1 325.8 556.5 323.7 548.7 327.6Z" fill="#4273b3" stroke="#28456b"/><path d="M417.9 206.6 425.6 203.5 421.1 194.5 413.3 197.6Z" fill="#f0f9a7" stroke="#909564"/><path d="M425.6 203.5 433.4 200.1 428.8 191.1 421.1 194.5Z" fill="#f2faaa" stroke="#919666"/><path d="M530.1 205.2 538 199 533.5 191.7 525.7 197.9Z" fill="#f1f9a9" stroke="#909665"/><path d="M546.9 212.8 554.7 206.3 550.3 199.6 542.4 206Z" fill="#ebf7a0" stroke="#8d9460"/><path d="M410.1 209.3 417.9 206.6 413.3 197.6 405.5 200.4Z" fill="#edf8a3" stroke="#8e9562"/><path d="M364.9 289.8 372.8 290 368.3 283.6 360.3 283.4Z" fill="#5cb7aa" stroke="#376e66"/><path d="M362.5 262.6 370.4 262.2 365.8 254.7 357.9 255Z" fill="#94d4a4" stroke="#597f63"/><path d="M506.7 347.4 514.4 345.1 509.9 343 502.2 345.2Z" fill="#5b53a4" stroke="#363262"/><path d="M572.1 315.1 580 310.4 575.4 308 567.5 312.7Z" fill="#378ebb" stroke="#215570"/><path d="M383.5 226.4 391.3 224.7 386.7 216.1 378.9 217.7Z" fill="#d8ef9b" stroke="#82905d"/><path d="M433.4 200.1 441.1 196.5 436.6 187.5 428.8 191.1Z" fill="#f5fbaf" stroke="#939769"/><path d="M577.1 235.7 585 229 580.5 223.7 572.6 230.4Z" fill="#caea9e" stroke="#798c5f"/><path d="M572.6 230.4 580.5 223.7 576 218.1 568.1 224.8Z" fill="#d3ed9c" stroke="#7f8e5d"/><path d="M402.3 211.9 410.1 209.3 405.5 200.4 397.7 202.9Z" fill="#ecf7a1" stroke="#8e9461"/><path d="M586.5 295.2 594.4 289.7 589.7 286.8 581.9 292.3Z" fill="#58b2ac" stroke="#356b67"/><path d="M372.4 237.4 380.2 236.2 375.6 227.8 367.8 229Z" fill="#c6e89f" stroke="#778b5f"/><path d="M417.5 339.3 425.3 339.1 420.9 335.4 413.1 335.5Z" fill="#5061aa" stroke="#303a66"/><path d="M589.7 286.8 597.6 281 593 277.8 585.1 283.6Z" fill="#64c0a6" stroke="#3c7364"/><path d="M581.6 240.8 589.5 234.1 585 229 577.1 235.7Z" fill="#c1e6a0" stroke="#748a60"/><path d="M478.9 350.5 486.6 349 482.1 346.6 474.4 348.1Z" fill="#5e4fa2" stroke="#382f61"/><path d="M561.1 325.8 568.9 321.6 564.3 319.5 556.5 323.7Z" fill="#3b7cb7" stroke="#244a6e"/><path d="M568.1 224.8 576 218.1 571.6 212.2 563.7 218.9Z" fill="#dff299" stroke="#86915c"/><path d="M400.7 331.4 408.6 331.5 404.2 327.3 396.3 327.1Z" fill="#4471b2" stroke="#29446b"/><path d="M583.2 303.1 591.1 297.8 586.5 295.2 578.6 300.4Z" fill="#4ba4b1" stroke="#2d636a"/><path d="M441.1 196.5 448.9 192.5 444.4 183.5 436.6 187.5Z" fill="#f8fcb4" stroke="#95976c"/><path d="M591.8 264.6 599.7 258.2 595.2 254.3 587.3 260.7Z" fill="#94d4a4" stroke="#597f63"/><path d="M359.2 269.9 367.1 269.8 362.5 262.6 354.6 262.6Z" fill="#86cfa5" stroke="#517c63"/><path d="M468.9 192.6 476.7 187.8 472.2 179 464.4 183.8Z" fill="#fcfeba" stroke="#97986f"/><path d="M586.1 245.6 594 238.9 589.5 234.1 581.6 240.8Z" fill="#bae3a1" stroke="#708861"/><path d="M498.9 349.4 506.7 347.4 502.2 345.2 494.4 347.3Z" fill="#5c51a3" stroke="#373162"/><path d="M360.3 283.4 368.3 283.6 363.7 276.9 355.8 276.7Z" fill="#69c3a5" stroke="#3f7563"/><path d="M394.5 214.1 402.3 211.9 397.7 202.9 389.9 205.1Z" fill="#ebf7a0" stroke="#8d9460"/><path d="M593 277.8 601 271.7 596.4 268.3 588.5 274.4Z" fill="#79c9a5" stroke="#497963"/><path d="M501.2 194 509 188.3 504.5 180.2 496.7 185.8Z" fill="#fbfdb8" stroke="#96986e"/><path d="M513.4 196.2 521.3 190.3 516.8 182.4 509 188.3Z" fill="#f9fcb5" stroke="#95976d"/><path d="M563.7 218.9 571.6 212.2 567.1 206 559.2 212.8Z" fill="#e8f69b" stroke="#8b935d"/><path d="M446.5 348.3 454.3 347.6 449.9 344.7 442.1 345.4Z" fill="#5b53a4" stroke="#363262"/><path d="M542.4 206 550.3 199.6 545.8 192.5 538 199Z" fill="#f2faaa" stroke="#919666"/><path d="M434.2 345.8 442.1 345.4 437.6 342.1 429.8 342.6Z" fill="#5758a6" stroke="#343564"/><path d="M375 312.3 382.9 312.7 378.4 307.4 370.5 307Z" fill="#3b92b9" stroke="#24586f"/><path d="M458.8 350.3 466.6 349.3 462.1 346.6 454.3 347.6Z" fill="#5c51a3" stroke="#373162"/><path d="M375.6 227.8 383.5 226.4 378.9 217.7 371 219.1Z" fill="#d8ef9b" stroke="#82905d"/><path d="M370.5 307 378.4 307.4 373.9 301.8 366 301.4Z" fill="#439bb5" stroke="#285d6d"/><path d="M488.9 191.2 496.7 185.8 492.3 177.4 484.5 182.7Z" fill="#fdfebb" stroke="#989870"/><path d="M448.9 192.5 456.7 188.3 452.1 179.3 444.4 183.5Z" fill="#fcfeba" stroke="#97986f"/><path d="M580 310.4 587.8 305.4 583.2 303.1 575.4 308Z" fill="#4199b6" stroke="#275c6d"/><path d="M590.6 250.1 598.6 243.4 594 238.9 586.1 245.6Z" fill="#b3e0a2" stroke="#6b8761"/><path d="M568.9 321.6 576.8 317.2 572.1 315.1 564.3 319.5Z" fill="#3585bb" stroke="#205070"/><path d="M379.4 317.4 387.4 317.8 382.9 312.7 375 312.3Z" fill="#3389bd" stroke="#1f5271"/><path d="M525.7 197.9 533.5 191.7 529.1 184.1 521.3 190.3Z" fill="#f8fcb4" stroke="#95976c"/><path d="M366 301.4 373.9 301.8 369.4 295.9 361.5 295.5Z" fill="#4ea7b0" stroke="#2f646a"/><path d="M405.2 335.4 413.1 335.5 408.6 331.5 400.7 331.4Z" fill="#486cb0" stroke="#2b4169"/><path d="M361.2 246.9 369.1 246.3 364.5 238.2 356.6 238.8Z" fill="#b8e2a1" stroke="#6e8861"/><path d="M559.2 212.8 567.1 206 562.6 199.6 554.7 206.3Z" fill="#edf8a3" stroke="#8e9562"/><path d="M386.7 216.1 394.5 214.1 389.9 205.1 382.1 207.1Z" fill="#eaf79e" stroke="#8c945f"/><path d="M534.5 341.6 542.3 338.5 537.7 336.7 530 339.7Z" fill="#5061aa" stroke="#303a66"/><path d="M357.9 255 365.8 254.7 361.2 246.9 353.3 247.2Z" fill="#a7dba4" stroke="#648462"/><path d="M542.3 338.5 550.1 335.2 545.5 333.3 537.7 336.7Z" fill="#4b68ae" stroke="#2d3e68"/><path d="M421.9 342.7 429.8 342.6 425.3 339.1 417.5 339.3Z" fill="#525fa9" stroke="#313966"/><path d="M491.1 351.2 498.9 349.4 494.4 347.3 486.6 349Z" fill="#5c51a3" stroke="#373162"/><path d="M383.9 322.2 391.8 322.6 387.4 317.8 379.4 317.4Z" fill="#3682ba" stroke="#214e70"/><path d="M526.8 344.4 534.5 341.6 530 339.7 522.2 342.6Z" fill="#545ca8" stroke="#323765"/><path d="M596.4 268.3 604.3 261.9 599.7 258.2 591.8 264.6Z" fill="#8fd2a4" stroke="#567e63"/><path d="M471.1 351.7 478.9 350.5 474.4 348.1 466.6 349.3Z" fill="#5c51a3" stroke="#373162"/><path d="M355.8 276.7 363.7 276.9 359.2 269.9 351.2 269.7Z" fill="#7ccaa5" stroke="#4a7963"/><path d="M364.5 238.2 372.4 237.4 367.8 229 359.9 229.8Z" fill="#c8e99e" stroke="#788c5f"/><path d="M361.5 295.5 369.4 295.9 364.9 289.8 356.9 289.3Z" fill="#58b2ac" stroke="#356b67"/><path d="M550.1 335.2 557.9 331.5 553.3 329.7 545.5 333.3Z" fill="#466eb1" stroke="#2a426a"/><path d="M476.7 187.8 484.5 182.7 480 174 472.2 179Z" fill="#fffdbc" stroke="#999871"/><path d="M519 347 526.8 344.4 522.2 342.6 514.4 345.1Z" fill="#555aa7" stroke="#333664"/><path d="M595.2 254.3 603.1 247.6 598.6 243.4 590.6 250.1Z" fill="#acdda4" stroke="#678562"/><path d="M456.7 188.3 464.4 183.8 459.9 174.8 452.1 179.3Z" fill="#fffebe" stroke="#999972"/><path d="M594.4 289.7 602.3 283.8 597.6 281 589.7 286.8Z" fill="#64c0a6" stroke="#3c7364"/><path d="M354.6 262.6 362.5 262.6 357.9 255 350 255.1Z" fill="#99d6a4" stroke="#5c8063"/><path d="M538 199 545.8 192.5 541.4 185.2 533.5 191.7Z" fill="#f8fcb4" stroke="#95976c"/><path d="M591.1 297.8 599 292.3 594.4 289.7 586.5 295.2Z" fill="#58b2ac" stroke="#356b67"/><path d="M388.4 326.7 396.3 327.1 391.8 322.6 383.9 322.2Z" fill="#3b7cb7" stroke="#244a6e"/><path d="M557.9 331.5 565.7 327.7 561.1 325.8 553.3 329.7Z" fill="#4175b4" stroke="#27466c"/><path d="M554.7 206.3 562.6 199.6 558.2 192.8 550.3 199.6Z" fill="#f3faac" stroke="#929667"/><path d="M576.8 317.2 584.6 312.5 580 310.4 572.1 315.1Z" fill="#3990ba" stroke="#22566f"/><path d="M413.3 197.6 421.1 194.5 416.5 185.2 408.7 188.3Z" fill="#f9fcb5" stroke="#95976d"/><path d="M597.6 281 605.6 274.9 601 271.7 593 277.8Z" fill="#76c8a5" stroke="#477863"/><path d="M378.9 217.7 386.7 216.1 382.1 207.1 374.2 208.7Z" fill="#e9f69d" stroke="#8c945e"/><path d="M356.9 289.3 364.9 289.8 360.3 283.4 352.4 282.9Z" fill="#62bda7" stroke="#3b7264"/><path d="M421.1 194.5 428.8 191.1 424.3 181.8 416.5 185.2Z" fill="#fcfeba" stroke="#97986f"/><path d="M367.8 229 375.6 227.8 371 219.1 363.1 220.3Z" fill="#daf09a" stroke="#83905d"/><path d="M405.5 200.4 413.3 197.6 408.7 188.3 400.9 191.1Z" fill="#f7fcb2" stroke="#94976b"/><path d="M511.2 349.3 519 347 514.4 345.1 506.7 347.4Z" fill="#5956a5" stroke="#353363"/><path d="M409.6 339.1 417.5 339.3 413.1 335.5 405.2 335.4Z" fill="#4b68ae" stroke="#2d3e68"/><path d="M509 188.3 516.8 182.4 512.3 174.2 504.5 180.2Z" fill="#fffdbc" stroke="#999871"/><path d="M587.8 305.4 595.7 300.2 591.1 297.8 583.2 303.1Z" fill="#4ba4b1" stroke="#2d636a"/><path d="M428.8 191.1 436.6 187.5 432 178.1 424.3 181.8Z" fill="#ffffbe" stroke="#999972"/><path d="M483.4 352.7 491.1 351.2 486.6 349 478.9 350.5Z" fill="#5c51a3" stroke="#373162"/><path d="M438.7 348.7 446.5 348.3 442.1 345.4 434.2 345.8Z" fill="#5758a6" stroke="#343564"/><path d="M585 229 593 222 588.5 216.7 580.5 223.7Z" fill="#ddf19a" stroke="#84915c"/><path d="M451 351 458.8 350.3 454.3 347.6 446.5 348.3Z" fill="#5b53a4" stroke="#363262"/><path d="M397.7 202.9 405.5 200.4 400.9 191.1 393.1 193.6Z" fill="#f5fbaf" stroke="#939769"/><path d="M496.7 185.8 504.5 180.2 500.1 171.7 492.3 177.4Z" fill="#fffbb8" stroke="#99966e"/><path d="M580.5 223.7 588.5 216.7 584 211.1 576 218.1Z" fill="#e6f598" stroke="#8a935b"/><path d="M521.3 190.3 529.1 184.1 524.6 176.2 516.8 182.4Z" fill="#fffebe" stroke="#999972"/><path d="M565.7 327.7 573.6 323.5 568.9 321.6 561.1 325.8Z" fill="#3a7eb8" stroke="#234c6f"/><path d="M392.8 331 400.7 331.4 396.3 327.1 388.4 326.7Z" fill="#3f77b5" stroke="#26486d"/><path d="M351.2 269.7 359.2 269.9 354.6 262.6 346.6 262.4Z" fill="#8cd1a4" stroke="#547d63"/><path d="M589.5 234.1 597.5 227.1 593 222 585 229Z" fill="#d3ed9c" stroke="#7f8e5d"/><path d="M599.7 258.2 607.7 251.6 603.1 247.6 595.2 254.3Z" fill="#a7dba4" stroke="#648462"/><path d="M601 271.7 608.9 265.3 604.3 261.9 596.4 268.3Z" fill="#8cd1a4" stroke="#547d63"/><path d="M576 218.1 584 211.1 579.5 205.2 571.6 212.2Z" fill="#ebf7a0" stroke="#8d9460"/><path d="M464.4 183.8 472.2 179 467.7 170 459.9 174.8Z" fill="#fff8b4" stroke="#99956c"/><path d="M436.6 187.5 444.4 183.5 439.8 174.2 432 178.1Z" fill="#fffcba" stroke="#999770"/><path d="M426.4 345.9 434.2 345.8 429.8 342.6 421.9 342.7Z" fill="#545ca8" stroke="#323765"/><path d="M352.4 282.9 360.3 283.4 355.8 276.7 347.8 276.2Z" fill="#71c6a5" stroke="#447763"/><path d="M503.4 351.3 511.2 349.3 506.7 347.4 498.9 349.4Z" fill="#5956a5" stroke="#353363"/><path d="M463.3 352.7 471.1 351.7 466.6 349.3 458.8 350.3Z" fill="#5c51a3" stroke="#373162"/><path d="M550.3 199.6 558.2 192.8 553.7 185.8 545.8 192.5Z" fill="#f9fcb5" stroke="#95976d"/><path d="M594 238.9 602 231.9 597.5 227.1 589.5 234.1Z" fill="#cdeb9d" stroke="#7b8d5e"/><path d="M389.9 205.1 397.7 202.9 393.1 193.6 385.2 195.8Z" fill="#f4faad" stroke="#929668"/><path d="M353.3 247.2 361.2 246.9 356.6 238.8 348.7 239.1Z" fill="#bae3a1" stroke="#708861"/><path d="M484.5 182.7 492.3 177.4 487.8 168.6 480 174Z" fill="#fff7b2" stroke="#99946b"/><path d="M356.6 238.8 364.5 238.2 359.9 229.8 352 230.4Z" fill="#caea9e" stroke="#798c5f"/><path d="M571.6 212.2 579.5 205.2 575 199 567.1 206Z" fill="#f0f9a7" stroke="#909564"/><path d="M533.5 191.7 541.4 185.2 537 177.6 529.1 184.1Z" fill="#ffffbe" stroke="#999972"/><path d="M371 219.1 378.9 217.7 374.2 208.7 366.3 210.1Z" fill="#e9f69d" stroke="#8c945e"/><path d="M584.6 312.5 592.5 307.5 587.8 305.4 580 310.4Z" fill="#439bb5" stroke="#285d6d"/><path d="M350 255.1 357.9 255 353.3 247.2 345.3 247.3Z" fill="#acdda4" stroke="#678562"/><path d="M444.4 183.5 452.1 179.3 447.6 170 439.8 174.2Z" fill="#fff7b2" stroke="#99946b"/><path d="M573.6 323.5 581.4 319.1 576.8 317.2 568.9 321.6Z" fill="#3387bc" stroke="#1f5171"/><path d="M367 311.6 375 312.3 370.5 307 362.5 306.3Z" fill="#439bb5" stroke="#285d6d"/><path d="M362.5 306.3 370.5 307 366 301.4 358 300.7Z" fill="#4ba4b1" stroke="#2d636a"/><path d="M598.6 243.4 606.6 236.4 602 231.9 594 238.9Z" fill="#c6e89f" stroke="#778b5f"/><path d="M397.3 335 405.2 335.4 400.7 331.4 392.8 331Z" fill="#4273b3" stroke="#28456b"/><path d="M414.1 342.6 421.9 342.7 417.5 339.3 409.6 339.1Z" fill="#4d65ad" stroke="#2e3d68"/><path d="M359.9 229.8 367.8 229 363.1 220.3 355.2 221.1Z" fill="#daf09a" stroke="#83905d"/><path d="M371.5 316.7 379.4 317.4 375 312.3 367 311.6Z" fill="#3b92b9" stroke="#24586f"/><path d="M599 292.3 606.9 286.5 602.3 283.8 594.4 289.7Z" fill="#64c0a6" stroke="#3c7364"/><path d="M358 300.7 366 301.4 361.5 295.5 353.5 294.8Z" fill="#54aead" stroke="#326868"/><path d="M475.6 353.9 483.4 352.7 478.9 350.5 471.1 351.7Z" fill="#5c51a3" stroke="#373162"/><path d="M382.1 207.1 389.9 205.1 385.2 195.8 377.4 197.8Z" fill="#f3faac" stroke="#929667"/><path d="M602.3 283.8 610.2 277.7 605.6 274.9 597.6 281Z" fill="#74c7a5" stroke="#457863"/><path d="M567.1 206 575 199 570.6 192.5 562.6 199.6Z" fill="#f5fbaf" stroke="#939769"/><path d="M604.3 261.9 612.3 255.2 607.7 251.6 599.7 258.2Z" fill="#a4daa4" stroke="#638362"/><path d="M495.7 353.1 503.4 351.3 498.9 349.4 491.1 351.2Z" fill="#5b53a4" stroke="#363262"/><path d="M539.1 343.2 546.9 340.1 542.3 338.5 534.5 341.6Z" fill="#4d65ad" stroke="#2e3d68"/><path d="M347.8 276.2 355.8 276.7 351.2 269.7 343.2 269.2Z" fill="#81cda5" stroke="#4d7b63"/><path d="M546.9 340.1 554.7 336.8 550.1 335.2 542.3 338.5Z" fill="#486cb0" stroke="#2b4169"/><path d="M595.7 300.2 603.7 294.6 599 292.3 591.1 297.8Z" fill="#58b2ac" stroke="#356b67"/><path d="M376 321.5 383.9 322.2 379.4 317.4 371.5 316.7Z" fill="#3389bd" stroke="#1f5271"/><path d="M472.2 179 480 174 475.5 164.9 467.7 170Z" fill="#fff2aa" stroke="#999166"/><path d="M346.6 262.4 354.6 262.6 350 255.1 342 254.9Z" fill="#9fd8a4" stroke="#5f8263"/><path d="M531.4 346.1 539.1 343.2 534.5 341.6 526.8 344.4Z" fill="#5061aa" stroke="#303a66"/><path d="M353.5 294.8 361.5 295.5 356.9 289.3 348.9 288.6Z" fill="#5eb9a9" stroke="#386f65"/><path d="M545.8 192.5 553.7 185.8 549.3 178.4 541.4 185.2Z" fill="#fffebe" stroke="#999972"/><path d="M554.7 336.8 562.6 333.1 557.9 331.5 550.1 335.2Z" fill="#4273b3" stroke="#28456b"/><path d="M605.6 274.9 613.6 268.5 608.9 265.3 601 271.7Z" fill="#89d0a4" stroke="#527d63"/><path d="M452.1 179.3 459.9 174.8 455.4 165.4 447.6 170Z" fill="#fff2aa" stroke="#999166"/><path d="M603.1 247.6 611.1 240.6 606.6 236.4 598.6 243.4Z" fill="#bfe5a0" stroke="#728960"/><path d="M504.5 180.2 512.3 174.2 507.9 165.7 500.1 171.7Z" fill="#fff3ac" stroke="#999267"/><path d="M516.8 182.4 524.6 176.2 520.2 168 512.3 174.2Z" fill="#fff5ae" stroke="#999368"/><path d="M523.6 348.6 531.4 346.1 526.8 344.4 519 347Z" fill="#545ca8" stroke="#323765"/><path d="M443.1 351.4 451 351 446.5 348.3 438.7 348.7Z" fill="#5758a6" stroke="#343564"/><path d="M363.1 220.3 371 219.1 366.3 210.1 358.4 211.3Z" fill="#eaf79e" stroke="#8c945f"/><path d="M581.4 319.1 589.3 314.3 584.6 312.5 576.8 317.2Z" fill="#3b92b9" stroke="#24586f"/><path d="M380.4 326.1 388.4 326.7 383.9 322.2 376 321.5Z" fill="#3585bb" stroke="#205070"/><path d="M430.8 348.9 438.7 348.7 434.2 345.8 426.4 345.9Z" fill="#545ca8" stroke="#323765"/><path d="M562.6 199.6 570.6 192.5 566.1 185.7 558.2 192.8Z" fill="#fbfdb8" stroke="#96986e"/><path d="M455.5 353.4 463.3 352.7 458.8 350.3 451 351Z" fill="#5956a5" stroke="#353363"/><path d="M408.7 188.3 416.5 185.2 412.4 176.8 404.6 179.9Z" fill="#fffbb8" stroke="#99966e"/><path d="M374.2 208.7 382.1 207.1 377.4 197.8 369.5 199.4Z" fill="#f3faac" stroke="#929667"/><path d="M592.5 307.5 600.4 302.3 595.7 300.2 587.8 305.4Z" fill="#4ea7b0" stroke="#2f646a"/><path d="M562.6 333.1 570.4 329.2 565.7 327.7 557.9 331.5Z" fill="#3d79b6" stroke="#25496d"/><path d="M416.5 185.2 424.3 181.8 420.2 173.4 412.4 176.8Z" fill="#fff8b4" stroke="#99956c"/><path d="M492.3 177.4 500.1 171.7 495.6 162.9 487.8 168.6Z" fill="#fff0a6" stroke="#999063"/><path d="M401.7 338.8 409.6 339.1 405.2 335.4 397.3 335Z" fill="#466eb1" stroke="#2a426a"/><path d="M400.9 191.1 408.7 188.3 404.6 179.9 396.8 182.7Z" fill="#fffebe" stroke="#999972"/><path d="M348.9 288.6 356.9 289.3 352.4 282.9 344.4 282.2Z" fill="#6bc4a5" stroke="#407663"/><path d="M529.1 184.1 537 177.6 532.5 169.7 524.6 176.2Z" fill="#fff6b0" stroke="#999469"/><path d="M515.8 350.9 523.6 348.6 519 347 511.2 349.3Z" fill="#555aa7" stroke="#333664"/><path d="M487.9 354.6 495.7 353.1 491.1 351.2 483.4 352.7Z" fill="#5b53a4" stroke="#363262"/><path d="M424.3 181.8 432 178.1 428 169.7 420.2 173.4Z" fill="#fff5ae" stroke="#999368"/><path d="M348.7 239.1 356.6 238.8 352 230.4 344 230.7Z" fill="#cfec9d" stroke="#7c8d5e"/><path d="M393.1 193.6 400.9 191.1 396.8 182.7 389 185.2Z" fill="#ffffbe" stroke="#999972"/><path d="M418.5 345.8 426.4 345.9 421.9 342.7 414.1 342.6Z" fill="#4e63ac" stroke="#2f3b67"/><path d="M343.2 269.2 351.2 269.7 346.6 262.4 338.6 261.9Z" fill="#94d4a4" stroke="#597f63"/><path d="M608.9 265.3 616.9 258.7 612.3 255.2 604.3 261.9Z" fill="#9fd8a4" stroke="#5f8263"/><path d="M345.3 247.3 353.3 247.2 348.7 239.1 340.7 239.1Z" fill="#bfe5a0" stroke="#728960"/><path d="M467.8 354.9 475.6 353.9 471.1 351.7 463.3 352.7Z" fill="#5b53a4" stroke="#363262"/><path d="M607.7 251.6 615.7 244.6 611.1 240.6 603.1 247.6Z" fill="#bae3a1" stroke="#708861"/><path d="M593 222 601 214.7 596.5 209.4 588.5 216.7Z" fill="#eaf79e" stroke="#8c945f"/><path d="M384.9 330.3 392.8 331 388.4 326.7 380.4 326.1Z" fill="#3a7eb8" stroke="#234c6f"/><path d="M588.5 216.7 596.5 209.4 592 203.8 584 211.1Z" fill="#eef8a4" stroke="#8f9563"/><path d="M352 230.4 359.9 229.8 355.2 221.1 347.3 221.7Z" fill="#dff299" stroke="#86915c"/><path d="M570.4 329.2 578.2 325.1 573.6 323.5 565.7 327.7Z" fill="#3682ba" stroke="#214e70"/><path d="M459.9 174.8 467.7 170 463.2 160.6 455.4 165.4Z" fill="#feeda1" stroke="#998e61"/><path d="M432 178.1 439.8 174.2 435.8 165.8 428 169.7Z" fill="#fff1a8" stroke="#999165"/><path d="M480 174 487.8 168.6 483.3 159.5 475.5 164.9Z" fill="#feec9f" stroke="#998e60"/><path d="M597.5 227.1 605.5 219.8 601 214.7 593 222Z" fill="#e6f598" stroke="#8a935b"/><path d="M584 211.1 592 203.8 587.5 197.8 579.5 205.2Z" fill="#f3faac" stroke="#929667"/><path d="M344.4 282.2 352.4 282.9 347.8 276.2 339.8 275.4Z" fill="#7ccaa5" stroke="#4a7963"/><path d="M541.4 185.2 549.3 178.4 544.9 170.8 537 177.6Z" fill="#fff6b0" stroke="#999469"/><path d="M558.2 192.8 566.1 185.7 561.7 178.7 553.7 185.8Z" fill="#fffdbc" stroke="#999871"/><path d="M385.2 195.8 393.1 193.6 389 185.2 381.2 187.4Z" fill="#fefebd" stroke="#989971"/><path d="M508 352.9 515.8 350.9 511.2 349.3 503.4 351.3Z" fill="#5758a6" stroke="#343564"/><path d="M342 254.9 350 255.1 345.3 247.3 337.4 247Z" fill="#b3e0a2" stroke="#6b8761"/><path d="M606.9 286.5 614.9 280.4 610.2 277.7 602.3 283.8Z" fill="#74c7a5" stroke="#457863"/><path d="M589.3 314.3 597.2 309.4 592.5 307.5 584.6 312.5Z" fill="#459eb4" stroke="#2a5f6c"/><path d="M366.3 210.1 374.2 208.7 369.5 199.4 361.7 200.8Z" fill="#f3faac" stroke="#929667"/><path d="M603.7 294.6 611.6 288.8 606.9 286.5 599 292.3Z" fill="#64c0a6" stroke="#3c7364"/><path d="M602 231.9 610 224.6 605.5 219.8 597.5 227.1Z" fill="#dff299" stroke="#86915c"/><path d="M579.5 205.2 587.5 197.8 583 191.6 575 199Z" fill="#f8fcb4" stroke="#95976c"/><path d="M610.2 277.7 618.2 271.4 613.6 268.5 605.6 274.9Z" fill="#89d0a4" stroke="#527d63"/><path d="M355.2 221.1 363.1 220.3 358.4 211.3 350.5 212.1Z" fill="#ebf7a0" stroke="#8d9460"/><path d="M439.8 174.2 447.6 170 443.6 161.5 435.8 165.8Z" fill="#feec9f" stroke="#998e60"/><path d="M406.2 342.2 414.1 342.6 409.6 339.1 401.7 338.8Z" fill="#486cb0" stroke="#2b4169"/><path d="M578.2 325.1 586.1 320.6 581.4 319.1 573.6 323.5Z" fill="#358bbc" stroke="#205471"/><path d="M480.1 355.8 487.9 354.6 483.4 352.7 475.6 353.9Z" fill="#5956a5" stroke="#353363"/><path d="M389.3 334.4 397.3 335 392.8 331 384.9 330.3Z" fill="#3d79b6" stroke="#25496d"/><path d="M600.4 302.3 608.3 296.7 603.7 294.6 595.7 300.2Z" fill="#5ab4ab" stroke="#366c66"/><path d="M377.4 197.8 385.2 195.8 381.2 187.4 373.3 189.4Z" fill="#fdfebb" stroke="#989870"/><path d="M359 310.7 367 311.6 362.5 306.3 354.5 305.3Z" fill="#49a2b2" stroke="#2c616b"/><path d="M512.3 174.2 520.2 168 515.7 159.5 507.9 165.7Z" fill="#feeb9d" stroke="#998d5e"/><path d="M606.6 236.4 614.6 229.1 610 224.6 602 231.9Z" fill="#d8ef9b" stroke="#82905d"/><path d="M354.5 305.3 362.5 306.3 358 300.7 350 299.7Z" fill="#52abae" stroke="#316769"/><path d="M612.3 255.2 620.3 248.3 615.7 244.6 607.7 251.6Z" fill="#b8e2a1" stroke="#6e8861"/><path d="M435.3 351.6 443.1 351.4 438.7 348.7 430.8 348.9Z" fill="#545ca8" stroke="#323765"/><path d="M363.5 315.8 371.5 316.7 367 311.6 359 310.7Z" fill="#439bb5" stroke="#285d6d"/><path d="M447.6 353.9 455.5 353.4 451 351 443.1 351.4Z" fill="#5758a6" stroke="#343564"/><path d="M500.1 171.7 507.9 165.7 503.4 156.9 495.6 162.9Z" fill="#fee999" stroke="#998c5c"/><path d="M338.6 261.9 346.6 262.4 342 254.9 334 254.4Z" fill="#a7dba4" stroke="#648462"/><path d="M500.2 354.7 508 352.9 503.4 351.3 495.7 353.1Z" fill="#5758a6" stroke="#343564"/><path d="M524.6 176.2 532.5 169.7 528.1 161.4 520.2 168Z" fill="#feec9f" stroke="#998e60"/><path d="M575 199 583 191.6 578.5 185.1 570.6 192.5Z" fill="#fdfebb" stroke="#989870"/><path d="M467.7 170 475.5 164.9 471 155.5 463.2 160.6Z" fill="#fee797" stroke="#998b5b"/><path d="M339.8 275.4 347.8 276.2 343.2 269.2 335.2 268.4Z" fill="#8cd1a4" stroke="#547d63"/><path d="M350 299.7 358 300.7 353.5 294.8 345.4 293.8Z" fill="#5cb7aa" stroke="#376e66"/><path d="M613.6 268.5 621.6 261.8 616.9 258.7 608.9 265.3Z" fill="#9fd8a4" stroke="#5f8263"/><path d="M553.7 185.8 561.7 178.7 557.2 171.3 549.3 178.4Z" fill="#fff5ae" stroke="#999368"/><path d="M543.8 344.6 551.6 341.5 546.9 340.1 539.1 343.2Z" fill="#496aaf" stroke="#2c3f69"/><path d="M423 348.8 430.8 348.9 426.4 345.9 418.5 345.8Z" fill="#5061aa" stroke="#303a66"/><path d="M368 320.6 376 321.5 371.5 316.7 363.5 315.8Z" fill="#3b92b9" stroke="#24586f"/><path d="M551.6 341.5 559.4 338.1 554.7 336.8 546.9 340.1Z" fill="#4471b2" stroke="#29446b"/><path d="M447.6 170 455.4 165.4 451.4 157 443.6 161.5Z" fill="#fee797" stroke="#998b5b"/><path d="M459.9 355.6 467.8 354.9 463.3 352.7 455.5 353.4Z" fill="#5956a5" stroke="#353363"/><path d="M536 347.4 543.8 344.6 539.1 343.2 531.4 346.1Z" fill="#4d65ad" stroke="#2e3d68"/><path d="M345.4 293.8 353.5 294.8 348.9 288.6 340.9 287.6Z" fill="#66c2a5" stroke="#3d7463"/><path d="M487.8 168.6 495.6 162.9 491.1 153.8 483.3 159.5Z" fill="#fee593" stroke="#988958"/><path d="M358.4 211.3 366.3 210.1 361.7 200.8 353.7 201.9Z" fill="#f3faac" stroke="#929667"/><path d="M611.1 240.6 619.2 233.3 614.6 229.1 606.6 236.4Z" fill="#d3ed9c" stroke="#7f8e5d"/><path d="M340.7 239.1 348.7 239.1 344 230.7 336 230.7Z" fill="#d3ed9c" stroke="#7f8e5d"/><path d="M559.4 338.1 567.2 334.5 562.6 333.1 554.7 336.8Z" fill="#3f77b5" stroke="#26486d"/><path d="M597.2 309.4 605.1 304.1 600.4 302.3 592.5 307.5Z" fill="#50a9af" stroke="#306569"/><path d="M537 177.6 544.9 170.8 540.4 162.8 532.5 169.7Z" fill="#feeda1" stroke="#998e61"/><path d="M586.1 320.6 594 315.9 589.3 314.3 581.4 319.1Z" fill="#3d95b8" stroke="#25596e"/><path d="M344 230.7 352 230.4 347.3 221.7 339.3 222Z" fill="#e1f399" stroke="#87925c"/><path d="M369.5 199.4 377.4 197.8 373.3 189.4 365.4 191Z" fill="#fcfeba" stroke="#97986f"/><path d="M528.2 350 536 347.4 531.4 346.1 523.6 348.6Z" fill="#5061aa" stroke="#303a66"/><path d="M570.6 192.5 578.5 185.1 574.1 178.4 566.1 185.7Z" fill="#fffbb8" stroke="#99966e"/><path d="M393.8 338.1 401.7 338.8 397.3 335 389.3 334.4Z" fill="#4175b4" stroke="#27466c"/><path d="M372.4 325.1 380.4 326.1 376 321.5 368 320.6Z" fill="#358bbc" stroke="#205471"/><path d="M337.4 247 345.3 247.3 340.7 239.1 332.7 238.9Z" fill="#c6e89f" stroke="#778b5f"/><path d="M567.2 334.5 575.1 330.6 570.4 329.2 562.6 333.1Z" fill="#3a7eb8" stroke="#234c6f"/><path d="M410.6 345.5 418.5 345.8 414.1 342.6 406.2 342.2Z" fill="#496aaf" stroke="#2c3f69"/><path d="M340.9 287.6 348.9 288.6 344.4 282.2 336.3 281.2Z" fill="#74c7a5" stroke="#457863"/><path d="M492.4 356.2 500.2 354.7 495.7 353.1 487.9 354.6Z" fill="#5758a6" stroke="#343564"/><path d="M347.3 221.7 355.2 221.1 350.5 212.1 342.6 212.7Z" fill="#ecf7a1" stroke="#8e9461"/><path d="M616.9 258.7 625 251.7 620.3 248.3 612.3 255.2Z" fill="#b3e0a2" stroke="#6b8761"/><path d="M472.3 356.8 480.1 355.8 475.6 353.9 467.8 354.9Z" fill="#5956a5" stroke="#353363"/><path d="M335.2 268.4 343.2 269.2 338.6 261.9 330.6 261.1Z" fill="#9fd8a4" stroke="#5f8263"/><path d="M520.4 352.3 528.2 350 523.6 348.6 515.8 350.9Z" fill="#525fa9" stroke="#313966"/><path d="M611.6 288.8 619.6 282.7 614.9 280.4 606.9 286.5Z" fill="#76c8a5" stroke="#477863"/><path d="M614.9 280.4 622.9 274 618.2 271.4 610.2 277.7Z" fill="#89d0a4" stroke="#527d63"/><path d="M455.4 165.4 463.2 160.6 459.2 152.2 451.4 157Z" fill="#fee18d" stroke="#988755"/><path d="M475.5 164.9 483.3 159.5 478.8 150.1 471 155.5Z" fill="#fee08b" stroke="#988653"/><path d="M615.7 244.6 623.8 237.3 619.2 233.3 611.1 240.6Z" fill="#cfec9d" stroke="#7c8d5e"/><path d="M608.3 296.7 616.3 290.9 611.6 288.8 603.7 294.6Z" fill="#66c2a5" stroke="#3d7463"/><path d="M334 254.4 342 254.9 337.4 247 329.3 246.5Z" fill="#bae3a1" stroke="#708861"/><path d="M376.9 329.4 384.9 330.3 380.4 326.1 372.4 325.1Z" fill="#3387bc" stroke="#1f5171"/><path d="M549.3 178.4 557.2 171.3 552.8 163.7 544.9 170.8Z" fill="#feec9f" stroke="#998e60"/><path d="M575.1 330.6 582.9 326.4 578.2 325.1 570.4 329.2Z" fill="#3387bc" stroke="#1f5171"/><path d="M601 214.7 609 207.1 604.5 201.8 596.5 209.4Z" fill="#f3faac" stroke="#929667"/><path d="M596.5 209.4 604.5 201.8 600 196.1 592 203.8Z" fill="#f7fcb2" stroke="#94976b"/><path d="M361.7 200.8 369.5 199.4 365.4 191 357.5 192.4Z" fill="#fcfeba" stroke="#97986f"/><path d="M618.2 271.4 626.3 264.7 621.6 261.8 613.6 268.5Z" fill="#9cd7a4" stroke="#5e8163"/><path d="M566.1 185.7 574.1 178.4 569.6 171.3 561.7 178.7Z" fill="#fff3ac" stroke="#999267"/><path d="M605.5 219.8 613.6 212.2 609 207.1 601 214.7Z" fill="#eff9a6" stroke="#8f9563"/><path d="M594 315.9 601.9 310.9 597.2 309.4 589.3 314.3Z" fill="#47a0b3" stroke="#2b606b"/><path d="M336.3 281.2 344.4 282.2 339.8 275.4 331.7 274.4Z" fill="#84cea5" stroke="#4f7b63"/><path d="M512.6 354.3 520.4 352.3 515.8 350.9 508 352.9Z" fill="#545ca8" stroke="#323765"/><path d="M507.9 165.7 515.7 159.5 511.3 150.7 503.4 156.9Z" fill="#fee08b" stroke="#988653"/><path d="M592 203.8 600 196.1 595.5 190.2 587.5 197.8Z" fill="#fcfeba" stroke="#97986f"/><path d="M520.2 168 528.1 161.4 523.6 152.9 515.7 159.5Z" fill="#fee28f" stroke="#988856"/><path d="M350.5 212.1 358.4 211.3 353.7 201.9 345.8 202.8Z" fill="#f4faad" stroke="#929668"/><path d="M439.8 354 447.6 353.9 443.1 351.4 435.3 351.6Z" fill="#545ca8" stroke="#323765"/><path d="M398.2 341.6 406.2 342.2 401.7 338.8 393.8 338.1Z" fill="#4273b3" stroke="#28456b"/><path d="M427.4 351.5 435.3 351.6 430.8 348.9 423 348.8Z" fill="#5061aa" stroke="#303a66"/><path d="M610 224.6 618.1 217 613.6 212.2 605.5 219.8Z" fill="#ecf7a1" stroke="#8e9461"/><path d="M605.1 304.1 613.1 298.5 608.3 296.7 600.4 302.3Z" fill="#5cb7aa" stroke="#376e66"/><path d="M452.1 356 459.9 355.6 455.5 353.4 447.6 353.9Z" fill="#555aa7" stroke="#333664"/><path d="M495.6 162.9 503.4 156.9 498.9 147.8 491.1 153.8Z" fill="#fedc88" stroke="#988451"/><path d="M484.6 357.5 492.4 356.2 487.9 354.6 480.1 355.8Z" fill="#5758a6" stroke="#343564"/><path d="M587.5 197.8 595.5 190.2 591 184 583 191.6Z" fill="#fffdbc" stroke="#999871"/><path d="M532.5 169.7 540.4 162.8 536 154.6 528.1 161.4Z" fill="#fee491" stroke="#988957"/><path d="M582.9 326.4 590.8 321.9 586.1 320.6 578.2 325.1Z" fill="#3990ba" stroke="#22566f"/><path d="M381.4 333.4 389.3 334.4 384.9 330.3 376.9 329.4Z" fill="#3682ba" stroke="#214e70"/><path d="M463.2 160.6 471 155.5 467 147 459.2 152.2Z" fill="#fed884" stroke="#98824f"/><path d="M330.6 261.1 338.6 261.9 334 254.4 325.9 253.6Z" fill="#b1dfa3" stroke="#6a8662"/><path d="M620.3 248.3 628.4 241 623.8 237.3 615.7 244.6Z" fill="#caea9e" stroke="#798c5f"/><path d="M621.6 261.8 629.6 254.8 625 251.7 616.9 258.7Z" fill="#b1dfa3" stroke="#6a8662"/><path d="M336 230.7 344 230.7 339.3 222 331.3 222Z" fill="#e6f598" stroke="#8a935b"/><path d="M415.1 348.4 423 348.8 418.5 345.8 410.6 345.5Z" fill="#4b68ae" stroke="#2d3e68"/><path d="M614.6 229.1 622.7 221.5 618.1 217 610 224.6Z" fill="#e9f69d" stroke="#8c945e"/><path d="M350.9 309.4 359 310.7 354.5 305.3 346.4 304.1Z" fill="#52abae" stroke="#316769"/><path d="M332.7 238.9 340.7 239.1 336 230.7 328 230.4Z" fill="#d8ef9b" stroke="#82905d"/><path d="M504.8 356.1 512.6 354.3 508 352.9 500.2 354.7Z" fill="#545ca8" stroke="#323765"/><path d="M346.4 304.1 354.5 305.3 350 299.7 341.9 298.4Z" fill="#5cb7aa" stroke="#376e66"/><path d="M464.4 357.5 472.3 356.8 467.8 354.9 459.9 355.6Z" fill="#555aa7" stroke="#333664"/><path d="M331.7 274.4 339.8 275.4 335.2 268.4 327.1 267.4Z" fill="#97d5a4" stroke="#5a8063"/><path d="M583 191.6 591 184 586.6 177.5 578.5 185.1Z" fill="#fff7b2" stroke="#99946b"/><path d="M355.4 314.5 363.5 315.8 359 310.7 350.9 309.4Z" fill="#4ba4b1" stroke="#2d636a"/><path d="M339.3 222 347.3 221.7 342.6 212.7 334.6 212.9Z" fill="#edf8a3" stroke="#8e9562"/><path d="M561.7 178.7 569.6 171.3 565.2 163.9 557.2 171.3Z" fill="#feeb9d" stroke="#998d5e"/><path d="M483.3 159.5 491.1 153.8 486.6 144.4 478.8 150.1Z" fill="#fed481" stroke="#987f4d"/><path d="M353.7 201.9 361.7 200.8 357.5 192.4 349.6 193.5Z" fill="#fdfebb" stroke="#989870"/><path d="M341.9 298.4 350 299.7 345.4 293.8 337.4 292.5Z" fill="#64c0a6" stroke="#3c7364"/><path d="M544.9 170.8 552.8 163.7 548.3 155.7 540.4 162.8Z" fill="#fee491" stroke="#988957"/><path d="M601.9 310.9 609.8 305.6 605.1 304.1 597.2 309.4Z" fill="#54aead" stroke="#326868"/><path d="M329.3 246.5 337.4 247 332.7 238.9 324.6 238.3Z" fill="#cdeb9d" stroke="#7b8d5e"/><path d="M548.4 345.7 556.2 342.6 551.6 341.5 543.8 344.6Z" fill="#4471b2" stroke="#29446b"/><path d="M359.9 319.4 368 320.6 363.5 315.8 355.4 314.5Z" fill="#439bb5" stroke="#285d6d"/><path d="M556.2 342.6 564.1 339.2 559.4 338.1 551.6 341.5Z" fill="#4175b4" stroke="#27466c"/><path d="M619.6 282.7 627.6 276.3 622.9 274 614.9 280.4Z" fill="#89d0a4" stroke="#527d63"/><path d="M540.6 348.5 548.4 345.7 543.8 344.6 536 347.4Z" fill="#486cb0" stroke="#2b4169"/><path d="M337.4 292.5 345.4 293.8 340.9 287.6 332.8 286.3Z" fill="#71c6a5" stroke="#447763"/><path d="M619.2 233.3 627.3 225.8 622.7 221.5 614.6 229.1Z" fill="#e6f598" stroke="#8a935b"/><path d="M590.8 321.9 598.7 317.2 594 315.9 586.1 320.6Z" fill="#439bb5" stroke="#285d6d"/><path d="M616.3 290.9 624.3 284.8 619.6 282.7 611.6 288.8Z" fill="#79c9a5" stroke="#497963"/><path d="M564.1 339.2 571.9 335.6 567.2 334.5 559.4 338.1Z" fill="#3b7cb7" stroke="#244a6e"/><path d="M385.8 337.2 393.8 338.1 389.3 334.4 381.4 333.4Z" fill="#3a7eb8" stroke="#234c6f"/><path d="M402.7 344.8 410.6 345.5 406.2 342.2 398.2 341.6Z" fill="#4471b2" stroke="#29446b"/><path d="M342.6 212.7 350.5 212.1 345.8 202.8 337.8 203.3Z" fill="#f5fbaf" stroke="#939769"/><path d="M622.9 274 630.9 267.3 626.3 264.7 618.2 271.4Z" fill="#9cd7a4" stroke="#5e8163"/><path d="M532.8 351.1 540.6 348.5 536 347.4 528.2 350Z" fill="#4b68ae" stroke="#2d3e68"/><path d="M578.5 185.1 586.6 177.5 582.1 170.7 574.1 178.4Z" fill="#fff0a6" stroke="#999063"/><path d="M476.8 358.4 484.6 357.5 480.1 355.8 472.3 356.8Z" fill="#555aa7" stroke="#333664"/><path d="M364.4 323.9 372.4 325.1 368 320.6 359.9 319.4Z" fill="#3d95b8" stroke="#25596e"/><path d="M625 251.7 633.1 244.4 628.4 241 620.3 248.3Z" fill="#c8e99e" stroke="#788c5f"/><path d="M496.9 357.6 504.8 356.1 500.2 354.7 492.4 356.2Z" fill="#545ca8" stroke="#323765"/><path d="M471 155.5 478.8 150.1 474.8 141.6 467 147Z" fill="#fece7c" stroke="#987c4b"/><path d="M613.1 298.5 621 292.7 616.3 290.9 608.3 296.7Z" fill="#69c3a5" stroke="#3f7563"/><path d="M327.1 267.4 335.2 268.4 330.6 261.1 322.5 260.1Z" fill="#a7dba4" stroke="#648462"/><path d="M571.9 335.6 579.8 331.6 575.1 330.6 567.2 334.5Z" fill="#3585bb" stroke="#205070"/><path d="M332.8 286.3 340.9 287.6 336.3 281.2 328.2 279.9Z" fill="#81cda5" stroke="#4d7b63"/><path d="M515.7 159.5 523.6 152.9 519.2 144.1 511.3 150.7Z" fill="#fed27f" stroke="#987e4c"/><path d="M325.9 253.6 334 254.4 329.3 246.5 321.2 245.7Z" fill="#c1e6a0" stroke="#748a60"/><path d="M431.9 353.9 439.8 354 435.3 351.6 427.4 351.5Z" fill="#4e63ac" stroke="#2f3b67"/><path d="M525 353.4 532.8 351.1 528.2 350 520.4 352.3Z" fill="#4d65ad" stroke="#2e3d68"/><path d="M503.4 156.9 511.3 150.7 506.8 141.5 498.9 147.8Z" fill="#fece7c" stroke="#987c4b"/><path d="M444.2 356.2 452.1 356 447.6 353.9 439.8 354Z" fill="#525fa9" stroke="#313966"/><path d="M528.1 161.4 536 154.6 531.5 146 523.6 152.9Z" fill="#fed481" stroke="#987f4d"/><path d="M626.3 264.7 634.3 257.7 629.6 254.8 621.6 261.8Z" fill="#b1dfa3" stroke="#6a8662"/><path d="M557.2 171.3 565.2 163.9 560.7 156.2 552.8 163.7Z" fill="#fee28f" stroke="#988856"/><path d="M623.8 237.3 631.9 229.7 627.3 225.8 619.2 233.3Z" fill="#e1f399" stroke="#87925c"/><path d="M345.8 202.8 353.7 201.9 349.6 193.5 341.7 194.4Z" fill="#fefebd" stroke="#989971"/><path d="M368.9 328.2 376.9 329.4 372.4 325.1 364.4 323.9Z" fill="#3990ba" stroke="#22566f"/><path d="M419.5 351.1 427.4 351.5 423 348.8 415.1 348.4Z" fill="#4b68ae" stroke="#2d3e68"/><path d="M579.8 331.6 587.6 327.5 582.9 326.4 575.1 330.6Z" fill="#358bbc" stroke="#205471"/><path d="M456.6 357.9 464.4 357.5 459.9 355.6 452.1 356Z" fill="#545ca8" stroke="#323765"/><path d="M598.7 317.2 606.6 312.2 601.9 310.9 594 315.9Z" fill="#4ea7b0" stroke="#2f646a"/><path d="M574.1 178.4 582.1 170.7 577.6 163.6 569.6 171.3Z" fill="#fee999" stroke="#998c5c"/><path d="M491.1 153.8 498.9 147.8 494.4 138.4 486.6 144.4Z" fill="#fec877" stroke="#987848"/><path d="M609 207.1 617.1 199.2 612.6 193.8 604.5 201.8Z" fill="#fcfeba" stroke="#97986f"/><path d="M604.5 201.8 612.6 193.8 608.1 188.2 600 196.1Z" fill="#fffebe" stroke="#999972"/><path d="M609.8 305.6 617.8 300.1 613.1 298.5 605.1 304.1Z" fill="#60bba8" stroke="#3a7065"/><path d="M328.2 279.9 336.3 281.2 331.7 274.4 323.6 273.1Z" fill="#8fd2a4" stroke="#567e63"/><path d="M540.4 162.8 548.3 155.7 543.9 147.4 536 154.6Z" fill="#fed683" stroke="#98814e"/><path d="M328 230.4 336 230.7 331.3 222 323.3 221.7Z" fill="#e9f69d" stroke="#8c945e"/><path d="M390.2 340.7 398.2 341.6 393.8 338.1 385.8 337.2Z" fill="#3b7cb7" stroke="#244a6e"/><path d="M517.2 355.4 525 353.4 520.4 352.3 512.6 354.3Z" fill="#4e63ac" stroke="#2f3b67"/><path d="M613.6 212.2 621.7 204.3 617.1 199.2 609 207.1Z" fill="#f8fcb4" stroke="#95976c"/><path d="M331.3 222 339.3 222 334.6 212.9 326.6 212.9Z" fill="#f0f9a7" stroke="#909564"/><path d="M600 196.1 608.1 188.2 603.6 182.2 595.5 190.2Z" fill="#fff8b4" stroke="#99956c"/><path d="M489.1 358.8 496.9 357.6 492.4 356.2 484.6 357.5Z" fill="#545ca8" stroke="#323765"/><path d="M324.6 238.3 332.7 238.9 328 230.4 319.9 229.9Z" fill="#dff299" stroke="#86915c"/><path d="M618.1 217 626.2 209.1 621.7 204.3 613.6 212.2Z" fill="#f5fbaf" stroke="#939769"/><path d="M407.1 347.8 415.1 348.4 410.6 345.5 402.7 344.8Z" fill="#4471b2" stroke="#29446b"/><path d="M322.5 260.1 330.6 261.1 325.9 253.6 317.8 252.5Z" fill="#b8e2a1" stroke="#6e8861"/><path d="M629.6 254.8 637.7 247.5 633.1 244.4 625 251.7Z" fill="#c6e89f" stroke="#778b5f"/><path d="M595.5 190.2 603.6 182.2 599.1 176 591 184Z" fill="#fff2aa" stroke="#999166"/><path d="M468.9 359.1 476.8 358.4 472.3 356.8 464.4 357.5Z" fill="#545ca8" stroke="#323765"/><path d="M334.6 212.9 342.6 212.7 337.8 203.3 329.8 203.6Z" fill="#f7fcb2" stroke="#94976b"/><path d="M587.6 327.5 595.5 323 590.8 321.9 582.9 326.4Z" fill="#3d95b8" stroke="#25596e"/><path d="M373.3 332.2 381.4 333.4 376.9 329.4 368.9 328.2Z" fill="#358bbc" stroke="#205471"/><path d="M628.4 241 636.5 233.4 631.9 229.7 623.8 237.3Z" fill="#dff299" stroke="#86915c"/><path d="M478.8 150.1 486.6 144.4 482.7 135.9 474.8 141.6Z" fill="#fdc372" stroke="#987545"/><path d="M624.3 284.8 632.4 278.4 627.6 276.3 619.6 282.7Z" fill="#8cd1a4" stroke="#547d63"/><path d="M627.6 276.3 635.7 269.6 630.9 267.3 622.9 274Z" fill="#9fd8a4" stroke="#5f8263"/><path d="M323.6 273.1 331.7 274.4 327.1 267.4 319 266.1Z" fill="#a2d9a4" stroke="#618262"/><path d="M509.3 357.2 517.2 355.4 512.6 354.3 504.8 356.1Z" fill="#5061aa" stroke="#303a66"/><path d="M622.7 221.5 630.8 213.6 626.2 209.1 618.1 217Z" fill="#f2faaa" stroke="#919666"/><path d="M321.2 245.7 329.3 246.5 324.6 238.3 316.5 237.5Z" fill="#d3ed9c" stroke="#7f8e5d"/><path d="M552.8 163.7 560.7 156.2 556.3 148.2 548.3 155.7Z" fill="#fed481" stroke="#987f4d"/><path d="M569.6 171.3 577.6 163.6 573.2 156.2 565.2 163.9Z" fill="#fee08b" stroke="#988653"/><path d="M621 292.7 629.1 286.6 624.3 284.8 616.3 290.9Z" fill="#7ccaa5" stroke="#4a7963"/><path d="M342.9 307.9 350.9 309.4 346.4 304.1 338.3 302.5Z" fill="#5cb7aa" stroke="#376e66"/><path d="M338.3 302.5 346.4 304.1 341.9 298.4 333.8 296.9Z" fill="#64c0a6" stroke="#3c7364"/><path d="M591 184 599.1 176 594.6 169.5 586.6 177.5Z" fill="#feec9f" stroke="#998e60"/><path d="M606.6 312.2 614.6 306.9 609.8 305.6 601.9 310.9Z" fill="#58b2ac" stroke="#356b67"/><path d="M347.4 313 355.4 314.5 350.9 309.4 342.9 307.9Z" fill="#54aead" stroke="#326868"/><path d="M337.8 203.3 345.8 202.8 341.7 194.4 333.7 194.9Z" fill="#ffffbe" stroke="#999972"/><path d="M630.9 267.3 639 260.3 634.3 257.7 626.3 264.7Z" fill="#b1dfa3" stroke="#6a8662"/><path d="M333.8 296.9 341.9 298.4 337.4 292.5 329.2 291Z" fill="#71c6a5" stroke="#447763"/><path d="M511.3 150.7 519.2 144.1 514.7 134.9 506.8 141.5Z" fill="#fdc171" stroke="#987444"/><path d="M394.7 343.9 402.7 344.8 398.2 341.6 390.2 340.7Z" fill="#3d79b6" stroke="#25496d"/><path d="M523.6 152.9 531.5 146 527.1 137.2 519.2 144.1Z" fill="#fdc372" stroke="#987545"/><path d="M351.9 317.9 359.9 319.4 355.4 314.5 347.4 313Z" fill="#4ea7b0" stroke="#2f646a"/><path d="M436.3 356.1 444.2 356.2 439.8 354 431.9 353.9Z" fill="#4d65ad" stroke="#2e3d68"/><path d="M553.1 346.5 560.9 343.4 556.2 342.6 548.4 345.7Z" fill="#3f77b5" stroke="#26486d"/><path d="M595.5 323 603.5 318.3 598.7 317.2 590.8 321.9Z" fill="#47a0b3" stroke="#2b606b"/><path d="M560.9 343.4 568.8 340 564.1 339.2 556.2 342.6Z" fill="#3b7cb7" stroke="#244a6e"/><path d="M627.3 225.8 635.4 217.9 630.8 213.6 622.7 221.5Z" fill="#f0f9a7" stroke="#909564"/><path d="M377.8 336 385.8 337.2 381.4 333.4 373.3 332.2Z" fill="#3387bc" stroke="#1f5171"/><path d="M617.8 300.1 625.8 294.2 621 292.7 613.1 298.5Z" fill="#6ec5a5" stroke="#427663"/><path d="M545.2 349.3 553.1 346.5 548.4 345.7 540.6 348.5Z" fill="#4273b3" stroke="#28456b"/><path d="M329.2 291 337.4 292.5 332.8 286.3 324.7 284.8Z" fill="#7ecca5" stroke="#4c7a63"/><path d="M481.3 359.8 489.1 358.8 484.6 357.5 476.8 358.4Z" fill="#525fa9" stroke="#313966"/><path d="M424 353.6 431.9 353.9 427.4 351.5 419.5 351.1Z" fill="#496aaf" stroke="#2c3f69"/><path d="M448.7 358.1 456.6 357.9 452.1 356 444.2 356.2Z" fill="#5061aa" stroke="#303a66"/><path d="M498.9 147.8 506.8 141.5 502.3 132.1 494.4 138.4Z" fill="#fdbb6c" stroke="#987041"/><path d="M568.8 340 576.6 336.4 571.9 335.6 564.1 339.2Z" fill="#3682ba" stroke="#214e70"/><path d="M633.1 244.4 641.2 236.8 636.5 233.4 628.4 241Z" fill="#daf09a" stroke="#83905d"/><path d="M536 154.6 543.9 147.4 539.4 138.9 531.5 146Z" fill="#fdc574" stroke="#987646"/><path d="M586.6 177.5 594.6 169.5 590.1 162.7 582.1 170.7Z" fill="#fee593" stroke="#988958"/><path d="M501.5 358.7 509.3 357.2 504.8 356.1 496.9 357.6Z" fill="#5061aa" stroke="#303a66"/><path d="M317.8 252.5 325.9 253.6 321.2 245.7 313.1 244.6Z" fill="#caea9e" stroke="#798c5f"/><path d="M537.4 351.9 545.2 349.3 540.6 348.5 532.8 351.1Z" fill="#466eb1" stroke="#2a426a"/><path d="M319 266.1 327.1 267.4 322.5 260.1 314.3 258.8Z" fill="#b1dfa3" stroke="#6a8662"/><path d="M356.3 322.4 364.4 323.9 359.9 319.4 351.9 317.9Z" fill="#47a0b3" stroke="#2b606b"/><path d="M634.3 257.7 642.4 250.4 637.7 247.5 629.6 254.8Z" fill="#c3e79f" stroke="#758b5f"/><path d="M411.6 350.5 419.5 351.1 415.1 348.4 407.1 347.8Z" fill="#4471b2" stroke="#29446b"/><path d="M324.7 284.8 332.8 286.3 328.2 279.9 320.1 278.3Z" fill="#8cd1a4" stroke="#547d63"/><path d="M323.3 221.7 331.3 222 326.6 212.9 318.5 212.6Z" fill="#f2faaa" stroke="#919666"/><path d="M576.6 336.4 584.5 332.4 579.8 331.6 571.9 335.6Z" fill="#3389bd" stroke="#1f5271"/><path d="M565.2 163.9 573.2 156.2 568.7 148.5 560.7 156.2Z" fill="#fed27f" stroke="#987e4c"/><path d="M461.1 359.6 468.9 359.1 464.4 357.5 456.6 357.9Z" fill="#5061aa" stroke="#303a66"/><path d="M486.6 144.4 494.4 138.4 490.5 129.9 482.7 135.9Z" fill="#fdb768" stroke="#986e3f"/><path d="M319.9 229.9 328 230.4 323.3 221.7 315.2 221.1Z" fill="#ecf7a1" stroke="#8e9461"/><path d="M529.6 354.2 537.4 351.9 532.8 351.1 525 353.4Z" fill="#486cb0" stroke="#2b4169"/><path d="M631.9 229.7 640 221.8 635.4 217.9 627.3 225.8Z" fill="#edf8a3" stroke="#8e9562"/><path d="M326.6 212.9 334.6 212.9 329.8 203.6 321.8 203.6Z" fill="#f9fcb5" stroke="#95976d"/><path d="M548.3 155.7 556.3 148.2 551.9 140 543.9 147.4Z" fill="#fdc574" stroke="#987646"/><path d="M614.6 306.9 622.6 301.4 617.8 300.1 609.8 305.6Z" fill="#64c0a6" stroke="#3c7364"/><path d="M603.5 318.3 611.4 313.3 606.6 312.2 598.7 317.2Z" fill="#52abae" stroke="#316769"/><path d="M360.8 326.7 368.9 328.2 364.4 323.9 356.3 322.4Z" fill="#439bb5" stroke="#285d6d"/><path d="M316.5 237.5 324.6 238.3 319.9 229.9 311.8 229Z" fill="#e6f598" stroke="#8a935b"/><path d="M582.1 170.7 590.1 162.7 585.7 155.5 577.6 163.6Z" fill="#fedc88" stroke="#988451"/><path d="M584.5 332.4 592.4 328.2 587.6 327.5 579.8 331.6Z" fill="#3b92b9" stroke="#24586f"/><path d="M382.2 339.5 390.2 340.7 385.8 337.2 377.8 336Z" fill="#3585bb" stroke="#205070"/><path d="M632.4 278.4 640.4 271.7 635.7 269.6 627.6 276.3Z" fill="#9fd8a4" stroke="#5f8263"/><path d="M329.8 203.6 337.8 203.3 333.7 194.9 325.6 195.2Z" fill="#fffebe" stroke="#999972"/><path d="M320.1 278.3 328.2 279.9 323.6 273.1 315.5 271.5Z" fill="#9cd7a4" stroke="#5e8163"/><path d="M617.1 199.2 625.2 191 620.7 185.6 612.6 193.8Z" fill="#fff7b2" stroke="#99946b"/><path d="M629.1 286.6 637.1 280.2 632.4 278.4 624.3 284.8Z" fill="#8fd2a4" stroke="#567e63"/><path d="M399.1 346.9 407.1 347.8 402.7 344.8 394.7 343.9Z" fill="#3f77b5" stroke="#26486d"/><path d="M612.6 193.8 620.7 185.6 616.2 179.9 608.1 188.2Z" fill="#fff2aa" stroke="#999166"/><path d="M521.8 356.3 529.6 354.2 525 353.4 517.2 355.4Z" fill="#496aaf" stroke="#2c3f69"/><path d="M493.7 360 501.5 358.7 496.9 357.6 489.1 358.8Z" fill="#4e63ac" stroke="#2f3b67"/><path d="M621.7 204.3 629.8 196 625.2 191 617.1 199.2Z" fill="#fffcba" stroke="#999770"/><path d="M635.7 269.6 643.8 262.6 639 260.3 630.9 267.3Z" fill="#b1dfa3" stroke="#6a8662"/><path d="M473.4 360.5 481.3 359.8 476.8 358.4 468.9 359.1Z" fill="#5061aa" stroke="#303a66"/><path d="M637.7 247.5 645.9 239.9 641.2 236.8 633.1 244.4Z" fill="#daf09a" stroke="#83905d"/><path d="M608.1 188.2 616.2 179.9 611.7 174 603.6 182.2Z" fill="#feeda1" stroke="#998e61"/><path d="M314.3 258.8 322.5 260.1 317.8 252.5 309.7 251.1Z" fill="#c3e79f" stroke="#758b5f"/><path d="M625.8 294.2 633.9 288.1 629.1 286.6 621 292.7Z" fill="#81cda5" stroke="#4d7b63"/><path d="M626.2 209.1 634.4 200.9 629.8 196 621.7 204.3Z" fill="#ffffbe" stroke="#999972"/><path d="M636.5 233.4 644.7 225.5 640 221.8 631.9 229.7Z" fill="#ecf7a1" stroke="#8e9461"/><path d="M365.3 330.8 373.3 332.2 368.9 328.2 360.8 326.7Z" fill="#3d95b8" stroke="#25596e"/><path d="M313.1 244.6 321.2 245.7 316.5 237.5 308.4 236.4Z" fill="#ddf19a" stroke="#84915c"/><path d="M592.4 328.2 600.3 323.8 595.5 323 587.6 327.5Z" fill="#439bb5" stroke="#285d6d"/><path d="M519.2 144.1 527.1 137.2 522.6 128 514.7 134.9Z" fill="#fdb163" stroke="#986a3c"/><path d="M603.6 182.2 611.7 174 607.2 167.7 599.1 176Z" fill="#fee797" stroke="#998b5b"/><path d="M560.7 156.2 568.7 148.5 564.3 140.5 556.3 148.2Z" fill="#fdc372" stroke="#987545"/><path d="M428.4 355.8 436.3 356.1 431.9 353.9 424 353.6Z" fill="#486cb0" stroke="#2b4169"/><path d="M506.8 141.5 514.7 134.9 510.2 125.4 502.3 132.1Z" fill="#fdad60" stroke="#98683a"/><path d="M440.8 358 448.7 358.1 444.2 356.2 436.3 356.1Z" fill="#4b68ae" stroke="#2d3e68"/><path d="M639 260.3 647.2 253 642.4 250.4 634.3 257.7Z" fill="#c3e79f" stroke="#758b5f"/><path d="M531.5 146 539.4 138.9 535 130 527.1 137.2Z" fill="#fdb567" stroke="#986d3e"/><path d="M577.6 163.6 585.7 155.5 581.2 148.1 573.2 156.2Z" fill="#fece7c" stroke="#987c4b"/><path d="M315.5 271.5 323.6 273.1 319 266.1 310.8 264.5Z" fill="#acdda4" stroke="#678562"/><path d="M513.9 358.1 521.8 356.3 517.2 355.4 509.3 357.2Z" fill="#4b68ae" stroke="#2d3e68"/><path d="M611.4 313.3 619.4 308 614.6 306.9 606.6 312.2Z" fill="#5cb7aa" stroke="#376e66"/><path d="M630.8 213.6 639 205.4 634.4 200.9 626.2 209.1Z" fill="#fcfeba" stroke="#97986f"/><path d="M416 353 424 353.6 419.5 351.1 411.6 350.5Z" fill="#4471b2" stroke="#29446b"/><path d="M494.4 138.4 502.3 132.1 498.4 123.5 490.5 129.9Z" fill="#fca85e" stroke="#976538"/><path d="M334.7 306.1 342.9 307.9 338.3 302.5 330.2 300.7Z" fill="#66c2a5" stroke="#3d7463"/><path d="M453.2 359.8 461.1 359.6 456.6 357.9 448.7 358.1Z" fill="#4d65ad" stroke="#2e3d68"/><path d="M599.1 176 607.2 167.7 602.7 161.2 594.6 169.5Z" fill="#fee08b" stroke="#988653"/><path d="M330.2 300.7 338.3 302.5 333.8 296.9 325.6 295.1Z" fill="#71c6a5" stroke="#447763"/><path d="M386.7 342.7 394.7 343.9 390.2 340.7 382.2 339.5Z" fill="#3682ba" stroke="#214e70"/><path d="M622.6 301.4 630.6 295.5 625.8 294.2 617.8 300.1Z" fill="#74c7a5" stroke="#457863"/><path d="M339.2 311.2 347.4 313 342.9 307.9 334.7 306.1Z" fill="#5eb9a9" stroke="#386f65"/><path d="M543.9 147.4 551.9 140 547.4 131.4 539.4 138.9Z" fill="#fdb567" stroke="#986d3e"/><path d="M325.6 295.1 333.8 296.9 329.2 291 321.1 289.1Z" fill="#7ecca5" stroke="#4c7a63"/><path d="M485.8 360.9 493.7 360 489.1 358.8 481.3 359.8Z" fill="#4d65ad" stroke="#2e3d68"/><path d="M315.2 221.1 323.3 221.7 318.5 212.6 310.4 212.1Z" fill="#f5fbaf" stroke="#939769"/><path d="M600.3 323.8 608.3 319 603.5 318.3 595.5 323Z" fill="#4ea7b0" stroke="#2f646a"/><path d="M318.5 212.6 326.6 212.9 321.8 203.6 313.7 203.3Z" fill="#fcfeba" stroke="#97986f"/><path d="M369.7 334.5 377.8 336 373.3 332.2 365.3 330.8Z" fill="#3b92b9" stroke="#24586f"/><path d="M343.7 316.1 351.9 317.9 347.4 313 339.2 311.2Z" fill="#58b2ac" stroke="#356b67"/><path d="M635.4 217.9 643.6 209.6 639 205.4 630.8 213.6Z" fill="#f9fcb5" stroke="#95976d"/><path d="M557.8 347.1 565.6 343.9 560.9 343.4 553.1 346.5Z" fill="#3a7eb8" stroke="#234c6f"/><path d="M641.2 236.8 649.4 228.9 644.7 225.5 636.5 233.4Z" fill="#ebf7a0" stroke="#8d9460"/><path d="M309.7 251.1 317.8 252.5 313.1 244.6 304.9 243.2Z" fill="#d3ed9c" stroke="#7f8e5d"/><path d="M311.8 229 319.9 229.9 315.2 221.1 307 220.3Z" fill="#eff9a6" stroke="#8f9563"/><path d="M565.6 343.9 573.5 340.6 568.8 340 560.9 343.4Z" fill="#3585bb" stroke="#205070"/><path d="M403.6 349.6 411.6 350.5 407.1 347.8 399.1 346.9Z" fill="#3f77b5" stroke="#26486d"/><path d="M642.4 250.4 650.6 242.8 645.9 239.9 637.7 247.5Z" fill="#d8ef9b" stroke="#82905d"/><path d="M321.1 289.1 329.2 291 324.7 284.8 316.5 282.9Z" fill="#8cd1a4" stroke="#547d63"/><path d="M549.9 349.9 557.8 347.1 553.1 346.5 545.2 349.3Z" fill="#3d79b6" stroke="#25496d"/><path d="M321.8 203.6 329.8 203.6 325.6 195.2 317.6 195.1Z" fill="#fffbb8" stroke="#99966e"/><path d="M506.1 359.6 513.9 358.1 509.3 357.2 501.5 358.7Z" fill="#4b68ae" stroke="#2d3e68"/><path d="M465.6 361 473.4 360.5 468.9 359.1 461.1 359.6Z" fill="#4d65ad" stroke="#2e3d68"/><path d="M594.6 169.5 602.7 161.2 598.2 154.3 590.1 162.7Z" fill="#fed481" stroke="#987f4d"/><path d="M310.8 264.5 319 266.1 314.3 258.8 306.1 257.1Z" fill="#bce4a0" stroke="#718960"/><path d="M573.5 340.6 581.4 336.9 576.6 336.4 568.8 340Z" fill="#3389bd" stroke="#1f5271"/><path d="M542.1 352.5 549.9 349.9 545.2 349.3 537.4 351.9Z" fill="#4175b4" stroke="#27466c"/><path d="M573.2 156.2 581.2 148.1 576.8 140.4 568.7 148.5Z" fill="#fdc171" stroke="#987444"/><path d="M348.2 320.7 356.3 322.4 351.9 317.9 343.7 316.1Z" fill="#52abae" stroke="#316769"/><path d="M637.1 280.2 645.2 273.5 640.4 271.7 632.4 278.4Z" fill="#a4daa4" stroke="#638362"/><path d="M640.4 271.7 648.6 264.7 643.8 262.6 635.7 269.6Z" fill="#b3e0a2" stroke="#6b8761"/><path d="M556.3 148.2 564.3 140.5 559.9 132.2 551.9 140Z" fill="#fdb567" stroke="#986d3e"/><path d="M316.5 282.9 324.7 284.8 320.1 278.3 311.9 276.4Z" fill="#99d6a4" stroke="#5c8063"/><path d="M308.4 236.4 316.5 237.5 311.8 229 303.6 227.9Z" fill="#eaf79e" stroke="#8c945f"/><path d="M581.4 336.9 589.3 333 584.5 332.4 576.6 336.4Z" fill="#3b92b9" stroke="#24586f"/><path d="M619.4 308 627.4 302.4 622.6 301.4 614.6 306.9Z" fill="#69c3a5" stroke="#3f7563"/><path d="M633.9 288.1 641.9 281.7 637.1 280.2 629.1 286.6Z" fill="#94d4a4" stroke="#597f63"/><path d="M640 221.8 648.2 213.6 643.6 209.6 635.4 217.9Z" fill="#f7fcb2" stroke="#94976b"/><path d="M534.2 354.8 542.1 352.5 537.4 351.9 529.6 354.2Z" fill="#4273b3" stroke="#28456b"/><path d="M608.3 319 616.2 314 611.4 313.3 603.5 318.3Z" fill="#58b2ac" stroke="#356b67"/><path d="M643.8 262.6 651.9 255.3 647.2 253 639 260.3Z" fill="#c6e89f" stroke="#778b5f"/><path d="M374.2 338 382.2 339.5 377.8 336 369.7 334.5Z" fill="#3990ba" stroke="#22566f"/><path d="M391.1 345.7 399.1 346.9 394.7 343.9 386.7 342.7Z" fill="#3682ba" stroke="#214e70"/><path d="M352.7 325 360.8 326.7 356.3 322.4 348.2 320.7Z" fill="#4ea7b0" stroke="#2f646a"/><path d="M590.1 162.7 598.2 154.3 593.8 147.2 585.7 155.5Z" fill="#fec877" stroke="#987848"/><path d="M514.7 134.9 522.6 128 518.1 118.5 510.2 125.4Z" fill="#fa9b58" stroke="#965d35"/><path d="M589.3 333 597.2 328.8 592.4 328.2 584.5 332.4Z" fill="#439bb5" stroke="#285d6d"/><path d="M527.1 137.2 535 130 530.5 120.8 522.6 128Z" fill="#fb9d59" stroke="#965e36"/><path d="M478 361.7 485.8 360.9 481.3 359.8 473.4 360.5Z" fill="#4b68ae" stroke="#2d3e68"/><path d="M432.9 357.7 440.8 358 436.3 356.1 428.4 355.8Z" fill="#466eb1" stroke="#2a426a"/><path d="M625.2 191 632.4 183.5 627.9 178.1 620.7 185.6Z" fill="#feec9f" stroke="#998e60"/><path d="M620.7 185.6 627.9 178.1 623.3 172.4 616.2 179.9Z" fill="#fee797" stroke="#998b5b"/><path d="M311.9 276.4 320.1 278.3 315.5 271.5 307.2 269.6Z" fill="#aadca4" stroke="#668462"/><path d="M498.3 360.8 506.1 359.6 501.5 358.7 493.7 360Z" fill="#496aaf" stroke="#2c3f69"/><path d="M630.6 295.5 638.7 289.4 633.9 288.1 625.8 294.2Z" fill="#86cfa5" stroke="#517c63"/><path d="M645.9 239.9 654.1 232.1 649.4 228.9 641.2 236.8Z" fill="#eaf79e" stroke="#8c945f"/><path d="M502.3 132.1 510.2 125.4 506.3 116.9 498.4 123.5Z" fill="#fa9656" stroke="#965a33"/><path d="M420.5 355.1 428.4 355.8 424 353.6 416 353Z" fill="#4273b3" stroke="#28456b"/><path d="M629.8 196 637 188.6 632.4 183.5 625.2 191Z" fill="#fff1a8" stroke="#999165"/><path d="M306.1 257.1 314.3 258.8 309.7 251.1 301.5 249.5Z" fill="#cdeb9d" stroke="#7b8d5e"/><path d="M526.4 356.9 534.2 354.8 529.6 354.2 521.8 356.3Z" fill="#4471b2" stroke="#29446b"/><path d="M445.3 359.7 453.2 359.8 448.7 358.1 440.8 358Z" fill="#486cb0" stroke="#2b4169"/><path d="M616.2 179.9 623.3 172.4 618.8 166.4 611.7 174Z" fill="#fee18d" stroke="#988755"/><path d="M304.9 243.2 313.1 244.6 308.4 236.4 300.2 235Z" fill="#e6f598" stroke="#8a935b"/><path d="M539.4 138.9 547.4 131.4 543 122.4 535 130Z" fill="#fba05b" stroke="#976036"/><path d="M647.2 253 655.4 245.4 650.6 242.8 642.4 250.4Z" fill="#d8ef9b" stroke="#82905d"/><path d="M634.4 200.9 641.6 193.4 637 188.6 629.8 196Z" fill="#fff5ae" stroke="#999368"/><path d="M644.7 225.5 652.9 217.3 648.2 213.6 640 221.8Z" fill="#f5fbaf" stroke="#939769"/><path d="M568.7 148.5 576.8 140.4 572.3 132.4 564.3 140.5Z" fill="#fdb163" stroke="#986a3c"/><path d="M611.7 174 618.8 166.4 614.3 160.2 607.2 167.7Z" fill="#fed884" stroke="#98824f"/><path d="M357.2 329 365.3 330.8 360.8 326.7 352.7 325Z" fill="#47a0b3" stroke="#2b606b"/><path d="M408 352.1 416 353 411.6 350.5 403.6 349.6Z" fill="#3d79b6" stroke="#25496d"/><path d="M597.2 328.8 605.1 324.3 600.3 323.8 592.4 328.2Z" fill="#4ba4b1" stroke="#2d636a"/><path d="M310.4 212.1 318.5 212.6 313.7 203.3 305.6 202.7Z" fill="#ffffbe" stroke="#999972"/><path d="M457.7 361.2 465.6 361 461.1 359.6 453.2 359.8Z" fill="#496aaf" stroke="#2c3f69"/><path d="M307 220.3 315.2 221.1 310.4 212.1 302.2 211.2Z" fill="#f8fcb4" stroke="#95976c"/><path d="M313.7 203.3 321.8 203.6 317.6 195.1 309.5 194.8Z" fill="#fff8b4" stroke="#99956c"/><path d="M585.7 155.5 593.8 147.2 589.3 139.8 581.2 148.1Z" fill="#fdbb6c" stroke="#987041"/><path d="M616.2 314 624.2 308.7 619.4 308 611.4 313.3Z" fill="#62bda7" stroke="#3b7264"/><path d="M307.2 269.6 315.5 271.5 310.8 264.5 302.6 262.6Z" fill="#b8e2a1" stroke="#6e8861"/><path d="M639 205.4 646.2 197.9 641.6 193.4 634.4 200.9Z" fill="#fff8b4" stroke="#99956c"/><path d="M518.6 358.6 526.4 356.9 521.8 356.3 513.9 358.1Z" fill="#4471b2" stroke="#29446b"/><path d="M627.4 302.4 635.5 296.5 630.6 295.5 622.6 301.4Z" fill="#7ccaa5" stroke="#4a7963"/><path d="M551.9 140 559.9 132.2 555.4 123.5 547.4 131.4Z" fill="#fba05b" stroke="#976036"/><path d="M378.6 341.3 386.7 342.7 382.2 339.5 374.2 338Z" fill="#378ebb" stroke="#215570"/><path d="M607.2 167.7 614.3 160.2 609.8 153.6 602.7 161.2Z" fill="#fece7c" stroke="#987c4b"/><path d="M303.6 227.9 311.8 229 307 220.3 298.9 219.1Z" fill="#f3faac" stroke="#929667"/><path d="M490.4 361.8 498.3 360.8 493.7 360 485.8 360.9Z" fill="#486cb0" stroke="#2b4169"/><path d="M326.5 304.1 334.7 306.1 330.2 300.7 322 298.7Z" fill="#74c7a5" stroke="#457863"/><path d="M322 298.7 330.2 300.7 325.6 295.1 317.4 293Z" fill="#81cda5" stroke="#4d7b63"/><path d="M395.6 348.4 403.6 349.6 399.1 346.9 391.1 345.7Z" fill="#3682ba" stroke="#214e70"/><path d="M645.2 273.5 653.4 266.4 648.6 264.7 640.4 271.7Z" fill="#b8e2a1" stroke="#6e8861"/><path d="M331 309.2 339.2 311.2 334.7 306.1 326.5 304.1Z" fill="#6bc4a5" stroke="#407663"/><path d="M641.9 281.7 650.1 275 645.2 273.5 637.1 280.2Z" fill="#a7dba4" stroke="#648462"/><path d="M650.6 242.8 658.8 234.9 654.1 232.1 645.9 239.9Z" fill="#e9f69d" stroke="#8c945e"/><path d="M301.5 249.5 309.7 251.1 304.9 243.2 296.7 241.6Z" fill="#dff299" stroke="#86915c"/><path d="M605.1 324.3 613.1 319.5 608.3 319 600.3 323.8Z" fill="#54aead" stroke="#326868"/><path d="M643.6 209.6 650.8 202.2 646.2 197.9 639 205.4Z" fill="#fffbb8" stroke="#99966e"/><path d="M317.4 293 325.6 295.1 321.1 289.1 312.8 287Z" fill="#8cd1a4" stroke="#547d63"/><path d="M470.1 362.1 478 361.7 473.4 360.5 465.6 361Z" fill="#486cb0" stroke="#2b4169"/><path d="M361.6 332.8 369.7 334.5 365.3 330.8 357.2 329Z" fill="#459eb4" stroke="#2a5f6c"/><path d="M649.4 228.9 657.6 220.7 652.9 217.3 644.7 225.5Z" fill="#f4faad" stroke="#929668"/><path d="M648.6 264.7 656.7 257.4 651.9 255.3 643.8 262.6Z" fill="#c8e99e" stroke="#788c5f"/><path d="M602.7 161.2 609.8 153.6 605.4 146.8 598.2 154.3Z" fill="#fdc372" stroke="#987545"/><path d="M335.6 314 343.7 316.1 339.2 311.2 331 309.2Z" fill="#62bda7" stroke="#3b7264"/><path d="M562.5 347.4 570.4 344.2 565.6 343.9 557.8 347.1Z" fill="#3387bc" stroke="#1f5171"/><path d="M510.7 360.2 518.6 358.6 513.9 358.1 506.1 359.6Z" fill="#4471b2" stroke="#29446b"/><path d="M570.4 344.2 578.3 340.8 573.5 340.6 565.6 343.9Z" fill="#358bbc" stroke="#205471"/><path d="M302.6 262.6 310.8 264.5 306.1 257.1 297.9 255.2Z" fill="#c8e99e" stroke="#788c5f"/><path d="M312.8 287 321.1 289.1 316.5 282.9 308.2 280.8Z" fill="#99d6a4" stroke="#5c8063"/><path d="M638.7 289.4 646.8 282.9 641.9 281.7 633.9 288.1Z" fill="#99d6a4" stroke="#5c8063"/><path d="M300.2 235 308.4 236.4 303.6 227.9 295.4 226.5Z" fill="#eef8a4" stroke="#8f9563"/><path d="M554.6 350.2 562.5 347.4 557.8 347.1 549.9 349.9Z" fill="#3682ba" stroke="#214e70"/><path d="M564.3 140.5 572.3 132.4 567.9 124 559.9 132.2Z" fill="#fb9d59" stroke="#965e36"/><path d="M581.2 148.1 589.3 139.8 584.9 132 576.8 140.4Z" fill="#fdad60" stroke="#98683a"/><path d="M510.2 125.4 518.1 118.5 514.2 109.9 506.3 116.9Z" fill="#f7814c" stroke="#944e2e"/><path d="M578.3 340.8 586.2 337.2 581.4 336.9 573.5 340.6Z" fill="#3b92b9" stroke="#24586f"/><path d="M522.6 128 530.5 120.8 526.1 111.2 518.1 118.5Z" fill="#f8864f" stroke="#95512f"/><path d="M624.2 308.7 632.3 303.1 627.4 302.4 619.4 308Z" fill="#71c6a5" stroke="#447763"/><path d="M651.9 255.3 660.1 247.7 655.4 245.4 647.2 253Z" fill="#daf09a" stroke="#83905d"/><path d="M546.8 352.8 554.6 350.2 549.9 349.9 542.1 352.5Z" fill="#3a7eb8" stroke="#234c6f"/><path d="M340 318.6 348.2 320.7 343.7 316.1 335.6 314Z" fill="#5cb7aa" stroke="#376e66"/><path d="M424.9 357.1 432.9 357.7 428.4 355.8 420.5 355.1Z" fill="#4175b4" stroke="#27466c"/><path d="M437.4 359.3 445.3 359.7 440.8 358 432.9 357.7Z" fill="#4273b3" stroke="#28456b"/><path d="M535 130 543 122.4 538.5 113.2 530.5 120.8Z" fill="#f88950" stroke="#955230"/><path d="M648.2 213.6 655.5 206.2 650.8 202.2 643.6 209.6Z" fill="#fffebe" stroke="#999972"/><path d="M308.2 280.8 316.5 282.9 311.9 276.4 303.6 274.3Z" fill="#aadca4" stroke="#668462"/><path d="M586.2 337.2 594.1 333.2 589.3 333 581.4 336.9Z" fill="#439bb5" stroke="#285d6d"/><path d="M383.1 344.3 391.1 345.7 386.7 342.7 378.6 341.3Z" fill="#358bbc" stroke="#205471"/><path d="M412.5 354.2 420.5 355.1 416 353 408 352.1Z" fill="#3b7cb7" stroke="#244a6e"/><path d="M613.1 319.5 621.1 314.5 616.2 314 608.3 319Z" fill="#5eb9a9" stroke="#386f65"/><path d="M598.2 154.3 605.4 146.8 600.9 139.6 593.8 147.2Z" fill="#fdb768" stroke="#986e3f"/><path d="M449.8 361.1 457.7 361.2 453.2 359.8 445.3 359.7Z" fill="#4471b2" stroke="#29446b"/><path d="M635.5 296.5 643.5 290.4 638.7 289.4 630.6 295.5Z" fill="#8cd1a4" stroke="#547d63"/><path d="M538.9 355.1 546.8 352.8 542.1 352.5 534.2 354.8Z" fill="#3b7cb7" stroke="#244a6e"/><path d="M366.1 336.3 374.2 338 369.7 334.5 361.6 332.8Z" fill="#439bb5" stroke="#285d6d"/><path d="M482.5 362.5 490.4 361.8 485.8 360.9 478 361.7Z" fill="#466eb1" stroke="#2a426a"/><path d="M547.4 131.4 555.4 123.5 551 114.6 543 122.4Z" fill="#f88950" stroke="#955230"/><path d="M305.6 202.7 313.7 203.3 309.5 194.8 301.3 194.2Z" fill="#fff5ae" stroke="#999368"/><path d="M344.5 322.9 352.7 325 348.2 320.7 340 318.6Z" fill="#58b2ac" stroke="#356b67"/><path d="M654.1 232.1 662.3 223.8 657.6 220.7 649.4 228.9Z" fill="#f3faac" stroke="#929667"/><path d="M302.2 211.2 310.4 212.1 305.6 202.7 297.4 201.8Z" fill="#fffcba" stroke="#999770"/><path d="M502.9 361.4 510.7 360.2 506.1 359.6 498.3 360.8Z" fill="#4471b2" stroke="#29446b"/><path d="M296.7 241.6 304.9 243.2 300.2 235 292 233.4Z" fill="#ebf7a0" stroke="#8d9460"/><path d="M594.1 333.2 602 329 597.2 328.8 589.3 333Z" fill="#49a2b2" stroke="#2c616b"/><path d="M297.9 255.2 306.1 257.1 301.5 249.5 293.2 247.6Z" fill="#d8ef9b" stroke="#82905d"/><path d="M303.6 274.3 311.9 276.4 307.2 269.6 299 267.5Z" fill="#b8e2a1" stroke="#6e8861"/><path d="M655.4 245.4 663.6 237.5 658.8 234.9 650.6 242.8Z" fill="#e9f69d" stroke="#8c945e"/><path d="M400 350.9 408 352.1 403.6 349.6 395.6 348.4Z" fill="#3682ba" stroke="#214e70"/><path d="M298.9 219.1 307 220.3 302.2 211.2 294 210Z" fill="#fcfeba" stroke="#97986f"/><path d="M531.1 357.2 538.9 355.1 534.2 354.8 526.4 356.9Z" fill="#3d79b6" stroke="#25496d"/><path d="M652.9 217.3 660.1 209.8 655.5 206.2 648.2 213.6Z" fill="#ffffbe" stroke="#999972"/><path d="M462.2 362.3 470.1 362.1 465.6 361 457.7 361.2Z" fill="#4471b2" stroke="#29446b"/><path d="M576.8 140.4 584.9 132 580.4 124 572.3 132.4Z" fill="#fa9b58" stroke="#965d35"/><path d="M593.8 147.2 600.9 139.6 596.4 132.2 589.3 139.8Z" fill="#fca85e" stroke="#976538"/><path d="M559.9 132.2 567.9 124 563.5 115.4 555.4 123.5Z" fill="#f88950" stroke="#955230"/><path d="M349 327 357.2 329 352.7 325 344.5 322.9Z" fill="#54aead" stroke="#326868"/><path d="M650.1 275 658.2 268 653.4 266.4 645.2 273.5Z" fill="#bae3a1" stroke="#708861"/><path d="M632.3 303.1 640.3 297.3 635.5 296.5 627.4 302.4Z" fill="#81cda5" stroke="#4d7b63"/><path d="M602 329 610 324.5 605.1 324.3 597.2 328.8Z" fill="#52abae" stroke="#316769"/><path d="M621.1 314.5 629.1 309.2 624.2 308.7 616.2 314Z" fill="#6bc4a5" stroke="#407663"/><path d="M653.4 266.4 661.6 259.1 656.7 257.4 648.6 264.7Z" fill="#caea9e" stroke="#798c5f"/><path d="M295.4 226.5 303.6 227.9 298.9 219.1 290.6 217.7Z" fill="#f7fcb2" stroke="#94976b"/><path d="M646.8 282.9 654.9 276.2 650.1 275 641.9 281.7Z" fill="#acdda4" stroke="#678562"/><path d="M299 267.5 307.2 269.6 302.6 262.6 294.3 260.4Z" fill="#c6e89f" stroke="#778b5f"/><path d="M370.5 339.6 378.6 341.3 374.2 338 366.1 336.3Z" fill="#4199b6" stroke="#275c6d"/><path d="M523.2 359 531.1 357.2 526.4 356.9 518.6 358.6Z" fill="#3f77b5" stroke="#26486d"/><path d="M387.5 347 395.6 348.4 391.1 345.7 383.1 344.3Z" fill="#358bbc" stroke="#205471"/><path d="M656.7 257.4 665 249.8 660.1 247.7 651.9 255.3Z" fill="#daf09a" stroke="#83905d"/><path d="M495 362.4 502.9 361.4 498.3 360.8 490.4 361.8Z" fill="#4273b3" stroke="#28456b"/><path d="M518.1 118.5 526.1 111.2 522.2 102.6 514.2 109.9Z" fill="#f46d43" stroke="#924128"/><path d="M474.6 363 482.5 362.5 478 361.7 470.1 362.1Z" fill="#4273b3" stroke="#28456b"/><path d="M658.8 234.9 667.1 226.7 662.3 223.8 654.1 232.1Z" fill="#f3faac" stroke="#929667"/><path d="M293.2 247.6 301.5 249.5 296.7 241.6 288.4 239.6Z" fill="#e8f69b" stroke="#8b935d"/><path d="M657.6 220.7 664.9 213.3 660.1 209.8 652.9 217.3Z" fill="#fefebd" stroke="#989971"/><path d="M530.5 120.8 538.5 113.2 534 103.6 526.1 111.2Z" fill="#f47044" stroke="#934329"/><path d="M643.5 290.4 651.7 283.9 646.8 282.9 638.7 289.4Z" fill="#9fd8a4" stroke="#5f8263"/><path d="M429.4 358.7 437.4 359.3 432.9 357.7 424.9 357.1Z" fill="#3d79b6" stroke="#25496d"/><path d="M318.3 301.7 326.5 304.1 322 298.7 313.7 296.3Z" fill="#84cea5" stroke="#4f7b63"/><path d="M313.7 296.3 322 298.7 317.4 293 309.2 290.6Z" fill="#8fd2a4" stroke="#567e63"/><path d="M610 324.5 618 319.8 613.1 319.5 605.1 324.3Z" fill="#5cb7aa" stroke="#376e66"/><path d="M353.5 330.8 361.6 332.8 357.2 329 349 327Z" fill="#50a9af" stroke="#306569"/><path d="M416.9 356.2 424.9 357.1 420.5 355.1 412.5 354.2Z" fill="#3a7eb8" stroke="#234c6f"/><path d="M292 233.4 300.2 235 295.4 226.5 287.2 224.8Z" fill="#f3faac" stroke="#929667"/><path d="M322.8 306.8 331 309.2 326.5 304.1 318.3 301.7Z" fill="#7ccaa5" stroke="#4a7963"/><path d="M441.8 360.7 449.8 361.1 445.3 359.7 437.4 359.3Z" fill="#3f77b5" stroke="#26486d"/><path d="M309.2 290.6 317.4 293 312.8 287 304.6 284.6Z" fill="#9cd7a4" stroke="#5e8163"/><path d="M589.3 139.8 596.4 132.2 592 124.4 584.9 132Z" fill="#fa9656" stroke="#965a33"/><path d="M543 122.4 551 114.6 546.5 105.3 538.5 113.2Z" fill="#f57245" stroke="#93442a"/><path d="M572.3 132.4 580.4 124 576 115.6 567.9 124Z" fill="#f8864f" stroke="#95512f"/><path d="M660.1 247.7 668.4 239.8 663.6 237.5 655.4 245.4Z" fill="#eaf79e" stroke="#8c945f"/><path d="M294.3 260.4 302.6 262.6 297.9 255.2 289.6 253Z" fill="#d3ed9c" stroke="#7f8e5d"/><path d="M515.3 360.5 523.2 359 518.6 358.6 510.7 360.2Z" fill="#3f77b5" stroke="#26486d"/><path d="M327.3 311.7 335.6 314 331 309.2 322.8 306.8Z" fill="#71c6a5" stroke="#447763"/><path d="M567.3 347.4 575.2 344.3 570.4 344.2 562.5 347.4Z" fill="#3990ba" stroke="#22566f"/><path d="M297.4 201.8 305.6 202.7 301.3 194.2 293.2 193.3Z" fill="#fff1a8" stroke="#999165"/><path d="M404.5 353.1 412.5 354.2 408 352.1 400 350.9Z" fill="#3585bb" stroke="#205070"/><path d="M629.1 309.2 637.2 303.6 632.3 303.1 624.2 308.7Z" fill="#7ccaa5" stroke="#4a7963"/><path d="M304.6 284.6 312.8 287 308.2 280.8 300 278.4Z" fill="#aadca4" stroke="#668462"/><path d="M575.2 344.3 583.1 340.9 578.3 340.8 570.4 344.2Z" fill="#3d95b8" stroke="#25596e"/><path d="M559.4 350.2 567.3 347.4 562.5 347.4 554.6 350.2Z" fill="#358bbc" stroke="#205471"/><path d="M454.3 362.2 462.2 362.3 457.7 361.2 449.8 361.1Z" fill="#4175b4" stroke="#27466c"/><path d="M294 210 302.2 211.2 297.4 201.8 289.2 200.6Z" fill="#fff7b2" stroke="#99946b"/><path d="M583.1 340.9 591 337.2 586.2 337.2 578.3 340.8Z" fill="#439bb5" stroke="#285d6d"/><path d="M640.3 297.3 648.4 291.1 643.5 290.4 635.5 296.5Z" fill="#94d4a4" stroke="#597f63"/><path d="M375 342.5 383.1 344.3 378.6 341.3 370.5 339.6Z" fill="#3f97b7" stroke="#265a6e"/><path d="M331.8 316.3 340 318.6 335.6 314 327.3 311.7Z" fill="#69c3a5" stroke="#3f7563"/><path d="M551.5 352.8 559.4 350.2 554.6 350.2 546.8 352.8Z" fill="#3387bc" stroke="#1f5171"/><path d="M555.4 123.5 563.5 115.4 559 106.4 551 114.6Z" fill="#f57245" stroke="#93442a"/><path d="M618 319.8 626 314.7 621.1 314.5 613.1 319.5Z" fill="#66c2a5" stroke="#3d7463"/><path d="M300 278.4 308.2 280.8 303.6 274.3 295.3 271.9Z" fill="#b8e2a1" stroke="#6e8861"/><path d="M487.1 363.1 495 362.4 490.4 361.8 482.5 362.5Z" fill="#4175b4" stroke="#27466c"/><path d="M662.3 223.8 669.6 216.4 664.9 213.3 657.6 220.7Z" fill="#fdfebb" stroke="#989870"/><path d="M591 337.2 598.9 333.2 594.1 333.2 586.2 337.2Z" fill="#4ba4b1" stroke="#2d636a"/><path d="M357.9 334.3 366.1 336.3 361.6 332.8 353.5 330.8Z" fill="#4ea7b0" stroke="#2f646a"/><path d="M290.6 217.7 298.9 219.1 294 210 285.8 208.6Z" fill="#fffebe" stroke="#999972"/><path d="M391.9 349.4 400 350.9 395.6 348.4 387.5 347Z" fill="#378ebb" stroke="#215570"/><path d="M288.4 239.6 296.7 241.6 292 233.4 283.7 231.4Z" fill="#f0f9a7" stroke="#909564"/><path d="M543.6 355.2 551.5 352.8 546.8 352.8 538.9 355.1Z" fill="#3585bb" stroke="#205070"/><path d="M663.6 237.5 671.9 229.3 667.1 226.7 658.8 234.9Z" fill="#f3faac" stroke="#929667"/><path d="M658.2 268 666.5 260.6 661.6 259.1 653.4 266.4Z" fill="#cfec9d" stroke="#7c8d5e"/><path d="M507.5 361.8 515.3 360.5 510.7 360.2 502.9 361.4Z" fill="#3d79b6" stroke="#25496d"/><path d="M466.7 363.2 474.6 363 470.1 362.1 462.2 362.3Z" fill="#3f77b5" stroke="#26486d"/><path d="M336.3 320.6 344.5 322.9 340 318.6 331.8 316.3Z" fill="#64c0a6" stroke="#3c7364"/><path d="M654.9 276.2 663.1 269.2 658.2 268 650.1 275Z" fill="#bfe5a0" stroke="#728960"/><path d="M289.6 253 297.9 255.2 293.2 247.6 284.9 245.4Z" fill="#e6f598" stroke="#8a935b"/><path d="M584.9 132 592 124.4 587.5 116.3 580.4 124Z" fill="#f7814c" stroke="#944e2e"/><path d="M661.6 259.1 669.8 251.5 665 249.8 656.7 257.4Z" fill="#dff299" stroke="#86915c"/><path d="M598.9 333.2 606.9 329 602 329 594.1 333.2Z" fill="#52abae" stroke="#316769"/><path d="M295.3 271.9 303.6 274.3 299 267.5 290.7 265Z" fill="#c3e79f" stroke="#758b5f"/><path d="M567.9 124 576 115.6 571.5 106.9 563.5 115.4Z" fill="#f47044" stroke="#934329"/><path d="M287.2 224.8 295.4 226.5 290.6 217.7 282.4 216Z" fill="#fcfeba" stroke="#97986f"/><path d="M535.8 357.2 543.6 355.2 538.9 355.1 531.1 357.2Z" fill="#3682ba" stroke="#214e70"/><path d="M651.7 283.9 659.8 277.2 654.9 276.2 646.8 282.9Z" fill="#b3e0a2" stroke="#6b8761"/><path d="M526.1 111.2 534 103.6 530.1 95 522.2 102.6Z" fill="#ea5e47" stroke="#8d392a"/><path d="M637.2 303.6 645.2 297.7 640.3 297.3 632.3 303.1Z" fill="#8cd1a4" stroke="#547d63"/><path d="M665 249.8 673.2 241.8 668.4 239.8 660.1 247.7Z" fill="#ebf7a0" stroke="#8d9460"/><path d="M626 314.7 634 309.4 629.1 309.2 621.1 314.5Z" fill="#74c7a5" stroke="#457863"/><path d="M340.8 324.7 349 327 344.5 322.9 336.3 320.6Z" fill="#60bba8" stroke="#3a7065"/><path d="M421.4 357.8 429.4 358.7 424.9 357.1 416.9 356.2Z" fill="#3682ba" stroke="#214e70"/><path d="M433.9 360.1 441.8 360.7 437.4 359.3 429.4 358.7Z" fill="#3a7eb8" stroke="#234c6f"/><path d="M538.5 113.2 546.5 105.3 542.1 95.7 534 103.6Z" fill="#eb6046" stroke="#8d3a2a"/><path d="M606.9 329 614.9 324.5 610 324.5 602 329Z" fill="#5cb7aa" stroke="#376e66"/><path d="M362.4 337.6 370.5 339.6 366.1 336.3 357.9 334.3Z" fill="#4ba4b1" stroke="#2d636a"/><path d="M379.4 345.3 387.5 347 383.1 344.3 375 342.5Z" fill="#3f97b7" stroke="#265a6e"/><path d="M667.1 226.7 674.4 219.2 669.6 216.4 662.3 223.8Z" fill="#fcfeba" stroke="#97986f"/><path d="M290.7 265 299 267.5 294.3 260.4 286 257.9Z" fill="#d3ed9c" stroke="#7f8e5d"/><path d="M408.9 355 416.9 356.2 412.5 354.2 404.5 353.1Z" fill="#3387bc" stroke="#1f5171"/><path d="M479.2 363.6 487.1 363.1 482.5 362.5 474.6 363Z" fill="#3d79b6" stroke="#25496d"/><path d="M648.4 291.1 656.6 284.6 651.7 283.9 643.5 290.4Z" fill="#a7dba4" stroke="#648462"/><path d="M527.9 359 535.8 357.2 531.1 357.2 523.2 359Z" fill="#3682ba" stroke="#214e70"/><path d="M446.3 361.9 454.3 362.2 449.8 361.1 441.8 360.7Z" fill="#3b7cb7" stroke="#244a6e"/><path d="M499.6 362.7 507.5 361.8 502.9 361.4 495 362.4Z" fill="#3b7cb7" stroke="#244a6e"/><path d="M284.9 245.4 293.2 247.6 288.4 239.6 280.1 237.4Z" fill="#edf8a3" stroke="#8e9562"/><path d="M551 114.6 559 106.4 554.6 97.1 546.5 105.3Z" fill="#eb6046" stroke="#8d3a2a"/><path d="M289.2 200.6 297.4 201.8 293.2 193.3 284.9 192.1Z" fill="#feec9f" stroke="#998e60"/><path d="M283.7 231.4 292 233.4 287.2 224.8 278.9 222.9Z" fill="#f8fcb4" stroke="#95976c"/><path d="M580.4 124 587.5 116.3 583.1 107.9 576 115.6Z" fill="#f46d43" stroke="#924128"/><path d="M668.4 239.8 676.7 231.6 671.9 229.3 663.6 237.5Z" fill="#f3faac" stroke="#929667"/><path d="M345.3 328.5 353.5 330.8 349 327 340.8 324.7Z" fill="#5cb7aa" stroke="#376e66"/><path d="M396.4 351.6 404.5 353.1 400 350.9 391.9 349.4Z" fill="#3990ba" stroke="#22566f"/><path d="M614.9 324.5 622.9 319.7 618 319.8 610 324.5Z" fill="#64c0a6" stroke="#3c7364"/><path d="M285.8 208.6 294 210 289.2 200.6 280.9 199.2Z" fill="#fff2aa" stroke="#999166"/><path d="M310 299 318.3 301.7 313.7 296.3 305.4 293.6Z" fill="#97d5a4" stroke="#5a8063"/><path d="M305.4 293.6 313.7 296.3 309.2 290.6 300.8 287.9Z" fill="#a2d9a4" stroke="#618262"/><path d="M458.8 363.1 466.7 363.2 462.2 362.3 454.3 362.2Z" fill="#3b7cb7" stroke="#244a6e"/><path d="M314.5 304.2 322.8 306.8 318.3 301.7 310 299Z" fill="#8cd1a4" stroke="#547d63"/><path d="M300.8 287.9 309.2 290.6 304.6 284.6 296.2 281.9Z" fill="#acdda4" stroke="#678562"/><path d="M286 257.9 294.3 260.4 289.6 253 281.2 250.5Z" fill="#e1f399" stroke="#87925c"/><path d="M634 309.4 642.1 303.8 637.2 303.6 629.1 309.2Z" fill="#84cea5" stroke="#4f7b63"/><path d="M520 360.6 527.9 359 523.2 359 515.3 360.5Z" fill="#3682ba" stroke="#214e70"/><path d="M563.5 115.4 571.5 106.9 567.1 97.9 559 106.4Z" fill="#eb6046" stroke="#8d3a2a"/><path d="M645.2 297.7 653.4 291.5 648.4 291.1 640.3 297.3Z" fill="#9fd8a4" stroke="#5f8263"/><path d="M319 309.1 327.3 311.7 322.8 306.8 314.5 304.2Z" fill="#81cda5" stroke="#4d7b63"/><path d="M663.1 269.2 671.4 261.9 666.5 260.6 658.2 268Z" fill="#d3ed9c" stroke="#7f8e5d"/><path d="M366.8 340.5 375 342.5 370.5 339.6 362.4 337.6Z" fill="#4ba4b1" stroke="#2d636a"/><path d="M282.4 216 290.6 217.7 285.8 208.6 277.5 206.9Z" fill="#fff8b4" stroke="#99956c"/><path d="M572.1 347.1 580 344 575.2 344.3 567.3 347.4Z" fill="#439bb5" stroke="#285d6d"/><path d="M296.2 281.9 304.6 284.6 300 278.4 291.6 275.7Z" fill="#b8e2a1" stroke="#6e8861"/><path d="M666.5 260.6 674.7 253 669.8 251.5 661.6 259.1Z" fill="#e1f399" stroke="#87925c"/><path d="M580 344 587.9 340.6 583.1 340.9 575.2 344.3Z" fill="#47a0b3" stroke="#2b606b"/><path d="M564.2 350 572.1 347.1 567.3 347.4 559.4 350.2Z" fill="#3d95b8" stroke="#25596e"/><path d="M659.8 277.2 668 270.1 663.1 269.2 654.9 276.2Z" fill="#c6e89f" stroke="#778b5f"/><path d="M491.7 363.5 499.6 362.7 495 362.4 487.1 363.1Z" fill="#3a7eb8" stroke="#234c6f"/><path d="M671.9 229.3 679.2 221.8 674.4 219.2 667.1 226.7Z" fill="#fcfeba" stroke="#97986f"/><path d="M587.9 340.6 595.8 336.9 591 337.2 583.1 340.9Z" fill="#4ea7b0" stroke="#2f646a"/><path d="M383.8 347.7 391.9 349.4 387.5 347 379.4 345.3Z" fill="#4199b6" stroke="#275c6d"/><path d="M323.5 313.7 331.8 316.3 327.3 311.7 319 309.1Z" fill="#7ccaa5" stroke="#4a7963"/><path d="M556.3 352.6 564.2 350 559.4 350.2 551.5 352.8Z" fill="#3b92b9" stroke="#24586f"/><path d="M622.9 319.7 630.9 314.7 626 314.7 618 319.8Z" fill="#71c6a5" stroke="#447763"/><path d="M669.8 251.5 678.1 243.6 673.2 241.8 665 249.8Z" fill="#ecf7a1" stroke="#8e9461"/><path d="M349.7 332 357.9 334.3 353.5 330.8 345.3 328.5Z" fill="#5ab4ab" stroke="#366c66"/><path d="M280.1 237.4 288.4 239.6 283.7 231.4 275.3 229.1Z" fill="#f5fbaf" stroke="#939769"/><path d="M471.3 363.8 479.2 363.6 474.6 363 466.7 363.2Z" fill="#3a7eb8" stroke="#234c6f"/><path d="M291.6 275.7 300 278.4 295.3 271.9 286.9 269.1Z" fill="#c6e89f" stroke="#778b5f"/><path d="M534 103.6 542.1 95.7 538.2 87.1 530.1 95Z" fill="#df4e4b" stroke="#862f2d"/><path d="M595.8 336.9 603.8 333 598.9 333.2 591 337.2Z" fill="#54aead" stroke="#326868"/><path d="M656.6 284.6 664.8 277.9 659.8 277.2 651.7 283.9Z" fill="#bae3a1" stroke="#708861"/><path d="M576 115.6 583.1 107.9 578.7 99.2 571.5 106.9Z" fill="#ea5e47" stroke="#8d392a"/><path d="M512.1 361.8 520 360.6 515.3 360.5 507.5 361.8Z" fill="#3682ba" stroke="#214e70"/><path d="M548.4 354.9 556.3 352.6 551.5 352.8 543.6 355.2Z" fill="#3990ba" stroke="#22566f"/><path d="M425.9 359.2 433.9 360.1 429.4 358.7 421.4 357.8Z" fill="#3387bc" stroke="#1f5171"/><path d="M281.2 250.5 289.6 253 284.9 245.4 276.5 242.9Z" fill="#ebf7a0" stroke="#8d9460"/><path d="M278.9 222.9 287.2 224.8 282.4 216 274 214Z" fill="#fffdbc" stroke="#999871"/><path d="M328 318 336.3 320.6 331.8 316.3 323.5 313.7Z" fill="#74c7a5" stroke="#457863"/><path d="M413.4 356.7 421.4 357.8 416.9 356.2 408.9 355Z" fill="#358bbc" stroke="#205471"/><path d="M438.4 361.3 446.3 361.9 441.8 360.7 433.9 360.1Z" fill="#3585bb" stroke="#205070"/><path d="M546.5 105.3 554.6 97.1 550.1 87.5 542.1 95.7Z" fill="#df4e4b" stroke="#862f2d"/><path d="M673.2 241.8 681.6 233.6 676.7 231.6 668.4 239.8Z" fill="#f4faad" stroke="#929668"/><path d="M603.8 333 611.8 328.7 606.9 329 598.9 333.2Z" fill="#5cb7aa" stroke="#376e66"/><path d="M286.9 269.1 295.3 271.9 290.7 265 282.3 262.3Z" fill="#d3ed9c" stroke="#7f8e5d"/><path d="M642.1 303.8 650.2 297.9 645.2 297.7 637.2 303.6Z" fill="#97d5a4" stroke="#5a8063"/><path d="M540.5 357 548.4 354.9 543.6 355.2 535.8 357.2Z" fill="#378ebb" stroke="#215570"/><path d="M400.8 353.6 408.9 355 404.5 353.1 396.4 351.6Z" fill="#3b92b9" stroke="#24586f"/><path d="M450.8 362.7 458.8 363.1 454.3 362.2 446.3 361.9Z" fill="#3682ba" stroke="#214e70"/><path d="M280.9 199.2 289.2 200.6 284.9 192.1 276.6 190.6Z" fill="#fee797" stroke="#998b5b"/><path d="M371.3 343.3 379.4 345.3 375 342.5 366.8 340.5Z" fill="#4ba4b1" stroke="#2d636a"/><path d="M630.9 314.7 639 309.3 634 309.4 626 314.7Z" fill="#81cda5" stroke="#4d7b63"/><path d="M653.4 291.5 661.6 285.1 656.6 284.6 648.4 291.1Z" fill="#b1dfa3" stroke="#6a8662"/><path d="M354.2 335.3 362.4 337.6 357.9 334.3 349.7 332Z" fill="#58b2ac" stroke="#356b67"/><path d="M332.5 322.1 340.8 324.7 336.3 320.6 328 318Z" fill="#6ec5a5" stroke="#427663"/><path d="M559 106.4 567.1 97.9 562.7 88.6 554.6 97.1Z" fill="#df4e4b" stroke="#862f2d"/><path d="M483.8 363.9 491.7 363.5 487.1 363.1 479.2 363.6Z" fill="#3682ba" stroke="#214e70"/><path d="M611.8 328.7 619.8 324.2 614.9 324.5 606.9 329Z" fill="#64c0a6" stroke="#3c7364"/><path d="M676.7 231.6 684 224.1 679.2 221.8 671.9 229.3Z" fill="#fdfebb" stroke="#989870"/><path d="M282.3 262.3 290.7 265 286 257.9 277.6 255.2Z" fill="#e1f399" stroke="#87925c"/><path d="M504.2 362.8 512.1 361.8 507.5 361.8 499.6 362.7Z" fill="#3585bb" stroke="#205070"/><path d="M275.3 229.1 283.7 231.4 278.9 222.9 270.5 220.6Z" fill="#fdfebb" stroke="#989870"/><path d="M277.5 206.9 285.8 208.6 280.9 199.2 272.6 197.4Z" fill="#feeda1" stroke="#998e61"/><path d="M276.5 242.9 284.9 245.4 280.1 237.4 271.7 234.9Z" fill="#f3faac" stroke="#929667"/><path d="M532.6 358.8 540.5 357 535.8 357.2 527.9 359Z" fill="#358bbc" stroke="#205471"/><path d="M388.3 349.9 396.4 351.6 391.9 349.4 383.8 347.7Z" fill="#439bb5" stroke="#285d6d"/><path d="M463.3 363.7 471.3 363.8 466.7 363.2 458.8 363.1Z" fill="#3585bb" stroke="#205070"/><path d="M671.4 261.9 679.7 254.2 674.7 253 666.5 260.6Z" fill="#e6f598" stroke="#8a935b"/><path d="M668 270.1 676.3 262.8 671.4 261.9 663.1 269.2Z" fill="#d8ef9b" stroke="#82905d"/><path d="M571.5 106.9 578.7 99.2 574.2 90.2 567.1 97.9Z" fill="#df4e4b" stroke="#862f2d"/><path d="M674.7 253 683 245.1 678.1 243.6 669.8 251.5Z" fill="#edf8a3" stroke="#8e9562"/><path d="M337 325.9 345.3 328.5 340.8 324.7 332.5 322.1Z" fill="#69c3a5" stroke="#3f7563"/><path d="M619.8 324.2 627.8 319.4 622.9 319.7 614.9 324.5Z" fill="#71c6a5" stroke="#447763"/><path d="M274 214 282.4 216 277.5 206.9 269.1 204.8Z" fill="#fff2aa" stroke="#999166"/><path d="M650.2 297.9 658.4 291.7 653.4 291.5 645.2 297.7Z" fill="#a7dba4" stroke="#648462"/><path d="M639 309.3 647.1 303.7 642.1 303.8 634 309.4Z" fill="#8fd2a4" stroke="#567e63"/><path d="M664.8 277.9 673 270.8 668 270.1 659.8 277.2Z" fill="#cdeb9d" stroke="#7b8d5e"/><path d="M301.6 296.1 310 299 305.4 293.6 297 290.7Z" fill="#a7dba4" stroke="#648462"/><path d="M297 290.7 305.4 293.6 300.8 287.9 292.4 285Z" fill="#b1dfa3" stroke="#6a8662"/><path d="M277.6 255.2 286 257.9 281.2 250.5 272.8 247.8Z" fill="#ebf7a0" stroke="#8d9460"/><path d="M524.7 360.3 532.6 358.8 527.9 359 520 360.6Z" fill="#358bbc" stroke="#205471"/><path d="M306.1 301.3 314.5 304.2 310 299 301.6 296.1Z" fill="#9fd8a4" stroke="#5f8263"/><path d="M358.6 338.3 366.8 340.5 362.4 337.6 354.2 335.3Z" fill="#58b2ac" stroke="#356b67"/><path d="M292.4 285 300.8 287.9 296.2 281.9 287.8 279Z" fill="#bce4a0" stroke="#718960"/><path d="M678.1 243.6 686.5 235.3 681.6 233.6 673.2 241.8Z" fill="#f5fbaf" stroke="#939769"/><path d="M542.1 95.7 550.1 87.5 546.2 78.8 538.2 87.1Z" fill="#d43d4f" stroke="#7f242f"/><path d="M375.7 345.7 383.8 347.7 379.4 345.3 371.3 343.3Z" fill="#4ba4b1" stroke="#2d636a"/><path d="M417.8 358.1 425.9 359.2 421.4 357.8 413.4 356.7Z" fill="#3990ba" stroke="#22566f"/><path d="M310.7 306.2 319 309.1 314.5 304.2 306.1 301.3Z" fill="#94d4a4" stroke="#597f63"/><path d="M430.4 360.4 438.4 361.3 433.9 360.1 425.9 359.2Z" fill="#358bbc" stroke="#205471"/><path d="M496.3 363.5 504.2 362.8 499.6 362.7 491.7 363.5Z" fill="#3387bc" stroke="#1f5171"/><path d="M287.8 279 296.2 281.9 291.6 275.7 283.2 272.7Z" fill="#c8e99e" stroke="#788c5f"/><path d="M475.9 364.1 483.8 363.9 479.2 363.6 471.3 363.8Z" fill="#3387bc" stroke="#1f5171"/><path d="M576.9 346.6 584.8 343.5 580 344 572.1 347.1Z" fill="#4ea7b0" stroke="#2f646a"/><path d="M584.8 343.5 592.8 340.1 587.9 340.6 580 344Z" fill="#52abae" stroke="#316769"/><path d="M569 349.5 576.9 346.6 572.1 347.1 564.2 350Z" fill="#47a0b3" stroke="#2b606b"/><path d="M271.7 234.9 280.1 237.4 275.3 229.1 266.9 226.6Z" fill="#fbfdb8" stroke="#96986e"/><path d="M661.6 285.1 669.8 278.3 664.8 277.9 656.6 284.6Z" fill="#c1e6a0" stroke="#748a60"/><path d="M405.3 355.2 413.4 356.7 408.9 355 400.8 353.6Z" fill="#3d95b8" stroke="#25596e"/><path d="M442.9 362.1 450.8 362.7 446.3 361.9 438.4 361.3Z" fill="#3389bd" stroke="#1f5271"/><path d="M627.8 319.4 635.9 314.4 630.9 314.7 622.9 319.7Z" fill="#7ecca5" stroke="#4c7a63"/><path d="M592.8 340.1 600.7 336.4 595.8 336.9 587.9 340.6Z" fill="#58b2ac" stroke="#356b67"/><path d="M341.5 329.4 349.7 332 345.3 328.5 337 325.9Z" fill="#66c2a5" stroke="#3d7463"/><path d="M315.2 310.8 323.5 313.7 319 309.1 310.7 306.2Z" fill="#8cd1a4" stroke="#547d63"/><path d="M270.5 220.6 278.9 222.9 274 214 265.6 211.7Z" fill="#fff7b2" stroke="#99946b"/><path d="M561 352.1 569 349.5 564.2 350 556.3 352.6Z" fill="#459eb4" stroke="#2a5f6c"/><path d="M681.6 233.6 688.9 226.1 684 224.1 676.7 231.6Z" fill="#fefebd" stroke="#989971"/><path d="M554.6 97.1 562.7 88.6 558.2 78.9 550.1 87.5Z" fill="#d43d4f" stroke="#7f242f"/><path d="M283.2 272.7 291.6 275.7 286.9 269.1 278.5 266.1Z" fill="#d3ed9c" stroke="#7f8e5d"/><path d="M516.8 361.6 524.7 360.3 520 360.6 512.1 361.8Z" fill="#378ebb" stroke="#215570"/><path d="M600.7 336.4 608.7 332.4 603.8 333 595.8 336.9Z" fill="#5eb9a9" stroke="#386f65"/><path d="M272.8 247.8 281.2 250.5 276.5 242.9 268 240.1Z" fill="#f2faaa" stroke="#919666"/><path d="M272.6 197.4 280.9 199.2 276.6 190.6 268.3 188.9Z" fill="#fee18d" stroke="#988755"/><path d="M392.7 351.9 400.8 353.6 396.4 351.6 388.3 349.9Z" fill="#459eb4" stroke="#2a5f6c"/><path d="M553.1 354.5 561 352.1 556.3 352.6 548.4 354.9Z" fill="#439bb5" stroke="#285d6d"/><path d="M455.4 363.4 463.3 363.7 458.8 363.1 450.8 362.7Z" fill="#3389bd" stroke="#1f5271"/><path d="M647.1 303.7 655.2 297.8 650.2 297.9 642.1 303.8Z" fill="#a2d9a4" stroke="#618262"/><path d="M319.7 315.1 328 318 323.5 313.7 315.2 310.8Z" fill="#86cfa5" stroke="#517c63"/><path d="M567.1 97.9 574.2 90.2 569.8 80.8 562.7 88.6Z" fill="#d43d4f" stroke="#7f242f"/><path d="M608.7 332.4 616.7 328.2 611.8 328.7 603.8 333Z" fill="#66c2a5" stroke="#3d7463"/><path d="M278.5 266.1 286.9 269.1 282.3 262.3 273.8 259.3Z" fill="#e1f399" stroke="#87925c"/><path d="M658.4 291.7 666.6 285.2 661.6 285.1 653.4 291.5Z" fill="#b8e2a1" stroke="#6e8861"/><path d="M363.1 341 371.3 343.3 366.8 340.5 358.6 338.3Z" fill="#58b2ac" stroke="#356b67"/><path d="M635.9 314.4 644 309 639 309.3 630.9 314.7Z" fill="#8cd1a4" stroke="#547d63"/><path d="M545.2 356.5 553.1 354.5 548.4 354.9 540.5 357Z" fill="#4199b6" stroke="#275c6d"/><path d="M269.1 204.8 277.5 206.9 272.6 197.4 264.2 195.4Z" fill="#fee797" stroke="#998b5b"/><path d="M676.3 262.8 684.6 255.2 679.7 254.2 671.4 261.9Z" fill="#e9f69d" stroke="#8c945e"/><path d="M488.4 364 496.3 363.5 491.7 363.5 483.8 363.9Z" fill="#358bbc" stroke="#205471"/><path d="M679.7 254.2 688 246.3 683 245.1 674.7 253Z" fill="#f0f9a7" stroke="#909564"/><path d="M345.9 332.7 354.2 335.3 349.7 332 341.5 329.4Z" fill="#64c0a6" stroke="#3c7364"/><path d="M380.1 347.9 388.3 349.9 383.8 347.7 375.7 345.7Z" fill="#4ea7b0" stroke="#2f646a"/><path d="M673 270.8 681.3 263.5 676.3 262.8 668 270.1Z" fill="#dff299" stroke="#86915c"/><path d="M324.2 319.2 332.5 322.1 328 318 319.7 315.1Z" fill="#81cda5" stroke="#4d7b63"/><path d="M266.9 226.6 275.3 229.1 270.5 220.6 262 218Z" fill="#fffbb8" stroke="#99966e"/><path d="M616.7 328.2 624.7 323.6 619.8 324.2 611.8 328.7Z" fill="#71c6a5" stroke="#447763"/><path d="M508.9 362.6 516.8 361.6 512.1 361.8 504.2 362.8Z" fill="#3990ba" stroke="#22566f"/><path d="M467.9 364 475.9 364.1 471.3 363.8 463.3 363.7Z" fill="#358bbc" stroke="#205471"/><path d="M683 245.1 691.4 236.8 686.5 235.3 678.1 243.6Z" fill="#f7fcb2" stroke="#94976b"/><path d="M268 240.1 276.5 242.9 271.7 234.9 263.2 232.1Z" fill="#f9fcb5" stroke="#95976d"/><path d="M273.8 259.3 282.3 262.3 277.6 255.2 269.1 252.1Z" fill="#ebf7a0" stroke="#8d9460"/><path d="M537.3 358.3 545.2 356.5 540.5 357 532.6 358.8Z" fill="#3f97b7" stroke="#265a6e"/><path d="M669.8 278.3 678 271.2 673 270.8 664.8 277.9Z" fill="#d3ed9c" stroke="#7f8e5d"/><path d="M265.6 211.7 274 214 269.1 204.8 260.7 202.5Z" fill="#feec9f" stroke="#998e60"/><path d="M422.3 359.2 430.4 360.4 425.9 359.2 417.8 358.1Z" fill="#3d95b8" stroke="#25596e"/><path d="M686.5 235.3 693.8 227.9 688.9 226.1 681.6 233.6Z" fill="#ffffbe" stroke="#999972"/><path d="M550.1 87.5 558.2 78.9 554.3 70.2 546.2 78.8Z" fill="#c1274a" stroke="#74182c"/><path d="M409.8 356.6 417.8 358.1 413.4 356.7 405.3 355.2Z" fill="#439bb5" stroke="#285d6d"/><path d="M655.2 297.8 663.4 291.6 658.4 291.7 650.2 297.9Z" fill="#b1dfa3" stroke="#6a8662"/><path d="M434.8 361.2 442.9 362.1 438.4 361.3 430.4 360.4Z" fill="#3b92b9" stroke="#24586f"/><path d="M328.7 323 337 325.9 332.5 322.1 324.2 319.2Z" fill="#7ccaa5" stroke="#4a7963"/><path d="M624.7 323.6 632.8 318.8 627.8 319.4 619.8 324.2Z" fill="#7ecca5" stroke="#4c7a63"/><path d="M644 309 652.1 303.4 647.1 303.7 639 309.3Z" fill="#9cd7a4" stroke="#5e8163"/><path d="M350.4 335.7 358.6 338.3 354.2 335.3 345.9 332.7Z" fill="#64c0a6" stroke="#3c7364"/><path d="M367.5 343.5 375.7 345.7 371.3 343.3 363.1 341Z" fill="#58b2ac" stroke="#356b67"/><path d="M397.2 353.5 405.3 355.2 400.8 353.6 392.7 351.9Z" fill="#47a0b3" stroke="#2b606b"/><path d="M269.1 252.1 277.6 255.2 272.8 247.8 264.3 244.7Z" fill="#f1f9a9" stroke="#909665"/><path d="M529.4 359.9 537.3 358.3 532.6 358.8 524.7 360.3Z" fill="#3f97b7" stroke="#265a6e"/><path d="M293.2 292.9 301.6 296.1 297 290.7 288.6 287.4Z" fill="#b8e2a1" stroke="#6e8861"/><path d="M447.4 362.7 455.4 363.4 450.8 362.7 442.9 362.1Z" fill="#3b92b9" stroke="#24586f"/><path d="M288.6 287.4 297 290.7 292.4 285 284 281.7Z" fill="#c3e79f" stroke="#758b5f"/><path d="M562.7 88.6 569.8 80.8 565.3 71.1 558.2 78.9Z" fill="#c1274a" stroke="#74182c"/><path d="M666.6 285.2 674.8 278.4 669.8 278.3 661.6 285.1Z" fill="#caea9e" stroke="#798c5f"/><path d="M480.4 364.2 488.4 364 483.8 363.9 475.9 364.1Z" fill="#3990ba" stroke="#22566f"/><path d="M297.7 298.1 306.1 301.3 301.6 296.1 293.2 292.9Z" fill="#b1dfa3" stroke="#6a8662"/><path d="M501 363.3 508.9 362.6 504.2 362.8 496.3 363.5Z" fill="#3b92b9" stroke="#24586f"/><path d="M284 281.7 292.4 285 287.8 279 279.3 275.7Z" fill="#cdeb9d" stroke="#7b8d5e"/><path d="M263.2 232.1 271.7 234.9 266.9 226.6 258.4 223.7Z" fill="#fffdbc" stroke="#999871"/><path d="M302.3 303 310.7 306.2 306.1 301.3 297.7 298.1Z" fill="#a7dba4" stroke="#648462"/><path d="M262 218 270.5 220.6 265.6 211.7 257.1 209.1Z" fill="#fff0a6" stroke="#999063"/><path d="M264.2 195.4 272.6 197.4 268.3 188.9 259.9 186.8Z" fill="#fed884" stroke="#98824f"/><path d="M279.3 275.7 287.8 279 283.2 272.7 274.7 269.4Z" fill="#d8ef9b" stroke="#82905d"/><path d="M581.8 345.8 589.7 342.7 584.8 343.5 576.9 346.6Z" fill="#58b2ac" stroke="#356b67"/><path d="M589.7 342.7 597.7 339.3 592.8 340.1 584.8 343.5Z" fill="#5cb7aa" stroke="#376e66"/><path d="M632.8 318.8 640.9 313.8 635.9 314.4 627.8 319.4Z" fill="#8cd1a4" stroke="#547d63"/><path d="M333.1 326.6 341.5 329.4 337 325.9 328.7 323Z" fill="#79c9a5" stroke="#497963"/><path d="M384.6 349.9 392.7 351.9 388.3 349.9 380.1 347.9Z" fill="#50a9af" stroke="#306569"/><path d="M573.8 348.7 581.8 345.8 576.9 346.6 569 349.5Z" fill="#54aead" stroke="#326868"/><path d="M459.9 363.7 467.9 364 463.3 363.7 455.4 363.4Z" fill="#3b92b9" stroke="#24586f"/><path d="M597.7 339.3 605.7 335.6 600.7 336.4 592.8 340.1Z" fill="#62bda7" stroke="#3b7264"/><path d="M306.8 307.6 315.2 310.8 310.7 306.2 302.3 303Z" fill="#9fd8a4" stroke="#5f8263"/><path d="M565.9 351.3 573.8 348.7 569 349.5 561 352.1Z" fill="#50a9af" stroke="#306569"/><path d="M684.6 255.2 693 247.2 688 246.3 679.7 254.2Z" fill="#f2faaa" stroke="#919666"/><path d="M264.3 244.7 272.8 247.8 268 240.1 259.5 237Z" fill="#f8fcb4" stroke="#95976c"/><path d="M521.5 361.1 529.4 359.9 524.7 360.3 516.8 361.6Z" fill="#4199b6" stroke="#275c6d"/><path d="M274.7 269.4 283.2 272.7 278.5 266.1 270 262.8Z" fill="#e6f598" stroke="#8a935b"/><path d="M681.3 263.5 689.7 255.8 684.6 255.2 676.3 262.8Z" fill="#ecf7a1" stroke="#8e9461"/><path d="M652.1 303.4 660.3 297.4 655.2 297.8 647.1 303.7Z" fill="#acdda4" stroke="#678562"/><path d="M605.7 335.6 613.7 331.6 608.7 332.4 600.7 336.4Z" fill="#6bc4a5" stroke="#407663"/><path d="M688 246.3 696.4 238 691.4 236.8 683 245.1Z" fill="#f9fcb5" stroke="#95976d"/><path d="M663.4 291.6 671.6 285.1 666.6 285.2 658.4 291.7Z" fill="#c3e79f" stroke="#758b5f"/><path d="M260.7 202.5 269.1 204.8 264.2 195.4 255.7 193Z" fill="#fee08b" stroke="#988653"/><path d="M557.9 353.7 565.9 351.3 561 352.1 553.1 354.5Z" fill="#4ea7b0" stroke="#2f646a"/><path d="M354.8 338.4 363.1 341 358.6 338.3 350.4 335.7Z" fill="#64c0a6" stroke="#3c7364"/><path d="M678 271.2 686.4 263.9 681.3 263.5 673 270.8Z" fill="#e6f598" stroke="#8a935b"/><path d="M311.3 312 319.7 315.1 315.2 310.8 306.8 307.6Z" fill="#99d6a4" stroke="#5c8063"/><path d="M691.4 236.8 698.8 229.3 693.8 227.9 686.5 235.3Z" fill="#fffebe" stroke="#999972"/><path d="M270 262.8 278.5 266.1 273.8 259.3 265.3 255.9Z" fill="#ebf7a0" stroke="#8d9460"/><path d="M493 363.8 501 363.3 496.3 363.5 488.4 364Z" fill="#3d95b8" stroke="#25596e"/><path d="M613.7 331.6 621.7 327.3 616.7 328.2 608.7 332.4Z" fill="#74c7a5" stroke="#457863"/><path d="M371.9 345.7 380.1 347.9 375.7 345.7 367.5 343.5Z" fill="#5ab4ab" stroke="#366c66"/><path d="M640.9 313.8 649 308.4 644 309 635.9 314.4Z" fill="#99d6a4" stroke="#5c8063"/><path d="M337.6 329.8 345.9 332.7 341.5 329.4 333.1 326.6Z" fill="#76c8a5" stroke="#477863"/><path d="M472.5 364.1 480.4 364.2 475.9 364.1 467.9 364Z" fill="#3d95b8" stroke="#25596e"/><path d="M414.2 357.8 422.3 359.2 417.8 358.1 409.8 356.6Z" fill="#47a0b3" stroke="#2b606b"/><path d="M258.4 223.7 266.9 226.6 262 218 253.5 215.1Z" fill="#fff3ac" stroke="#999267"/><path d="M550 355.8 557.9 353.7 553.1 354.5 545.2 356.5Z" fill="#4ba4b1" stroke="#2d636a"/><path d="M426.8 360.1 434.8 361.2 430.4 360.4 422.3 359.2Z" fill="#439bb5" stroke="#285d6d"/><path d="M558.2 78.9 565.3 71.1 561.4 62.4 554.3 70.2Z" fill="#ab0f45" stroke="#670929"/><path d="M674.8 278.4 683.1 271.4 678 271.2 669.8 278.3Z" fill="#ddf19a" stroke="#84915c"/><path d="M315.8 316 324.2 319.2 319.7 315.1 311.3 312Z" fill="#94d4a4" stroke="#597f63"/><path d="M401.6 354.9 409.8 356.6 405.3 355.2 397.2 353.5Z" fill="#4ea7b0" stroke="#2f646a"/><path d="M513.6 362.1 521.5 361.1 516.8 361.6 508.9 362.6Z" fill="#439bb5" stroke="#285d6d"/><path d="M439.4 361.8 447.4 362.7 442.9 362.1 434.8 361.2Z" fill="#439bb5" stroke="#285d6d"/><path d="M259.5 237 268 240.1 263.2 232.1 254.7 228.9Z" fill="#fffebe" stroke="#999972"/><path d="M257.1 209.1 265.6 211.7 260.7 202.5 252.2 199.9Z" fill="#fee593" stroke="#988958"/><path d="M621.7 327.3 629.7 322.8 624.7 323.6 616.7 328.2Z" fill="#81cda5" stroke="#4d7b63"/><path d="M265.3 255.9 273.8 259.3 269.1 252.1 260.5 248.8Z" fill="#f2faaa" stroke="#919666"/><path d="M542.1 357.6 550 355.8 545.2 356.5 537.3 358.3Z" fill="#4ba4b1" stroke="#2d636a"/><path d="M660.3 297.4 668.5 291.2 663.4 291.6 655.2 297.8Z" fill="#bce4a0" stroke="#718960"/><path d="M389 351.5 397.2 353.5 392.7 351.9 384.6 349.9Z" fill="#54aead" stroke="#326868"/><path d="M451.9 363.1 459.9 363.7 455.4 363.4 447.4 362.7Z" fill="#439bb5" stroke="#285d6d"/><path d="M649 308.4 657.2 302.7 652.1 303.4 644 309Z" fill="#aadca4" stroke="#668462"/><path d="M359.2 340.9 367.5 343.5 363.1 341 354.8 338.4Z" fill="#64c0a6" stroke="#3c7364"/><path d="M320.3 319.9 328.7 323 324.2 319.2 315.8 316Z" fill="#8fd2a4" stroke="#567e63"/><path d="M671.6 285.1 679.9 278.3 674.8 278.4 666.6 285.2Z" fill="#d3ed9c" stroke="#7f8e5d"/><path d="M629.7 322.8 637.8 318 632.8 318.8 624.7 323.6Z" fill="#8cd1a4" stroke="#547d63"/><path d="M342 332.8 350.4 335.7 345.9 332.7 337.6 329.8Z" fill="#74c7a5" stroke="#457863"/><path d="M485.1 364 493 363.8 488.4 364 480.4 364.2Z" fill="#439bb5" stroke="#285d6d"/><path d="M255.7 193 264.2 195.4 259.9 186.8 251.4 184.4Z" fill="#fece7c" stroke="#987c4b"/><path d="M260.5 248.8 269.1 252.1 264.3 244.7 255.8 241.3Z" fill="#f8fcb4" stroke="#95976c"/><path d="M534.2 359.1 542.1 357.6 537.3 358.3 529.4 359.9Z" fill="#4ba4b1" stroke="#2d636a"/><path d="M505.6 362.9 513.6 362.1 508.9 362.6 501 363.3Z" fill="#459eb4" stroke="#2a5f6c"/><path d="M689.7 255.8 698.1 247.8 693 247.2 684.6 255.2Z" fill="#f5fbaf" stroke="#939769"/><path d="M693 247.2 701.4 238.9 696.4 238 688 246.3Z" fill="#fcfeba" stroke="#97986f"/><path d="M253.5 215.1 262 218 257.1 209.1 248.6 206.2Z" fill="#fee999" stroke="#998c5c"/><path d="M284.7 289.4 293.2 292.9 288.6 287.4 280.1 283.9Z" fill="#caea9e" stroke="#798c5f"/><path d="M280.1 283.9 288.6 287.4 284 281.7 275.4 278.1Z" fill="#d3ed9c" stroke="#7f8e5d"/><path d="M376.4 347.6 384.6 349.9 380.1 347.9 371.9 345.7Z" fill="#5cb7aa" stroke="#376e66"/><path d="M254.7 228.9 263.2 232.1 258.4 223.7 249.8 220.6Z" fill="#fff5ae" stroke="#999368"/><path d="M289.2 294.6 297.7 298.1 293.2 292.9 284.7 289.4Z" fill="#c1e6a0" stroke="#748a60"/><path d="M686.4 263.9 694.7 256.2 689.7 255.8 681.3 263.5Z" fill="#eff9a6" stroke="#8f9563"/><path d="M696.4 238 703.8 230.5 698.8 229.3 691.4 236.8Z" fill="#fffbb8" stroke="#99966e"/><path d="M275.4 278.1 284 281.7 279.3 275.7 270.8 272.1Z" fill="#dff299" stroke="#86915c"/><path d="M464.5 363.8 472.5 364.1 467.9 364 459.9 363.7Z" fill="#439bb5" stroke="#285d6d"/><path d="M293.8 299.5 302.3 303 297.7 298.1 289.2 294.6Z" fill="#bae3a1" stroke="#708861"/><path d="M324.8 323.4 333.1 326.6 328.7 323 320.3 319.9Z" fill="#8cd1a4" stroke="#547d63"/><path d="M637.8 318 645.9 312.9 640.9 313.8 632.8 318.8Z" fill="#99d6a4" stroke="#5c8063"/><path d="M270.8 272.1 279.3 275.7 274.7 269.4 266.1 265.8Z" fill="#e8f69b" stroke="#8b935d"/><path d="M586.7 344.8 594.6 341.6 589.7 342.7 581.8 345.8Z" fill="#64c0a6" stroke="#3c7364"/><path d="M594.6 341.6 602.6 338.2 597.7 339.3 589.7 342.7Z" fill="#69c3a5" stroke="#3f7563"/><path d="M683.1 271.4 691.4 264 686.4 263.9 678 271.2Z" fill="#eaf79e" stroke="#8c945f"/><path d="M252.2 199.9 260.7 202.5 255.7 193 247.2 190.4Z" fill="#fed481" stroke="#987f4d"/><path d="M578.7 347.7 586.7 344.8 581.8 345.8 573.8 348.7Z" fill="#60bba8" stroke="#3a7065"/><path d="M668.5 291.2 676.7 284.7 671.6 285.1 663.4 291.6Z" fill="#cdeb9d" stroke="#7b8d5e"/><path d="M657.2 302.7 665.3 296.8 660.3 297.4 652.1 303.4Z" fill="#b8e2a1" stroke="#6e8861"/><path d="M602.6 338.2 610.6 334.5 605.7 335.6 597.7 339.3Z" fill="#71c6a5" stroke="#447763"/><path d="M298.3 304.1 306.8 307.6 302.3 303 293.8 299.5Z" fill="#b3e0a2" stroke="#6b8761"/><path d="M418.7 358.6 426.8 360.1 422.3 359.2 414.2 357.8Z" fill="#4ea7b0" stroke="#2f646a"/><path d="M255.8 241.3 264.3 244.7 259.5 237 250.9 233.6Z" fill="#ffffbe" stroke="#999972"/><path d="M526.2 360.4 534.2 359.1 529.4 359.9 521.5 361.1Z" fill="#4ba4b1" stroke="#2d636a"/><path d="M570.7 350.3 578.7 347.7 573.8 348.7 565.9 351.3Z" fill="#5cb7aa" stroke="#376e66"/><path d="M406.1 356.1 414.2 357.8 409.8 356.6 401.6 354.9Z" fill="#52abae" stroke="#316769"/><path d="M266.1 265.8 274.7 269.4 270 262.8 261.4 259.2Z" fill="#edf8a3" stroke="#8e9562"/><path d="M431.3 360.7 439.4 361.8 434.8 361.2 426.8 360.1Z" fill="#4ba4b1" stroke="#2d636a"/><path d="M346.5 335.6 354.8 338.4 350.4 335.7 342 332.8Z" fill="#74c7a5" stroke="#457863"/><path d="M610.6 334.5 618.7 330.5 613.7 331.6 605.7 335.6Z" fill="#7ccaa5" stroke="#4a7963"/><path d="M363.7 343.1 371.9 345.7 367.5 343.5 359.2 340.9Z" fill="#66c2a5" stroke="#3d7463"/><path d="M562.8 352.6 570.7 350.3 565.9 351.3 557.9 353.7Z" fill="#5ab4ab" stroke="#366c66"/><path d="M497.7 363.3 505.6 362.9 501 363.3 493 363.8Z" fill="#47a0b3" stroke="#2b606b"/><path d="M393.5 352.9 401.6 354.9 397.2 353.5 389 351.5Z" fill="#58b2ac" stroke="#356b67"/><path d="M302.8 308.5 311.3 312 306.8 307.6 298.3 304.1Z" fill="#acdda4" stroke="#678562"/><path d="M477.1 363.9 485.1 364 480.4 364.2 472.5 364.1Z" fill="#47a0b3" stroke="#2b606b"/><path d="M443.9 362.2 451.9 363.1 447.4 362.7 439.4 361.8Z" fill="#49a2b2" stroke="#2c616b"/><path d="M679.9 278.3 688.2 271.2 683.1 271.4 674.8 278.4Z" fill="#e6f598" stroke="#8a935b"/><path d="M249.8 220.6 258.4 223.7 253.5 215.1 244.9 211.9Z" fill="#feeb9d" stroke="#998d5e"/><path d="M645.9 312.9 654.1 307.5 649 308.4 640.9 313.8Z" fill="#aadca4" stroke="#668462"/><path d="M261.4 259.2 270 262.8 265.3 255.9 256.7 252.3Z" fill="#f3faac" stroke="#929667"/><path d="M329.2 326.7 337.6 329.8 333.1 326.6 324.8 323.4Z" fill="#89d0a4" stroke="#527d63"/><path d="M618.7 330.5 626.7 326.2 621.7 327.3 613.7 331.6Z" fill="#84cea5" stroke="#4f7b63"/><path d="M248.6 206.2 257.1 209.1 252.2 199.9 243.6 197Z" fill="#fedc88" stroke="#988451"/><path d="M554.8 354.7 562.8 352.6 557.9 353.7 550 355.8Z" fill="#58b2ac" stroke="#356b67"/><path d="M518.3 361.4 526.2 360.4 521.5 361.1 513.6 362.1Z" fill="#4ea7b0" stroke="#2f646a"/><path d="M250.9 233.6 259.5 237 254.7 228.9 246.1 225.5Z" fill="#fff6b0" stroke="#999469"/><path d="M380.8 349.3 389 351.5 384.6 349.9 376.4 347.6Z" fill="#60bba8" stroke="#3a7065"/><path d="M307.3 312.6 315.8 316 311.3 312 302.8 308.5Z" fill="#a7dba4" stroke="#648462"/><path d="M456.5 363.1 464.5 363.8 459.9 363.7 451.9 363.1Z" fill="#4ba4b1" stroke="#2d636a"/><path d="M626.7 326.2 634.8 321.7 629.7 322.8 621.7 327.3Z" fill="#8fd2a4" stroke="#567e63"/><path d="M665.3 296.8 673.6 290.6 668.5 291.2 660.3 297.4Z" fill="#c8e99e" stroke="#788c5f"/><path d="M256.7 252.3 265.3 255.9 260.5 248.8 251.9 245.1Z" fill="#f9fcb5" stroke="#95976d"/><path d="M698.1 247.8 706.5 239.5 701.4 238.9 693 247.2Z" fill="#ffffbe" stroke="#999972"/><path d="M701.4 238.9 708.9 231.4 703.8 230.5 696.4 238Z" fill="#fff8b4" stroke="#99956c"/><path d="M694.7 256.2 703.2 248.2 698.1 247.8 689.7 255.8Z" fill="#f8fcb4" stroke="#95976c"/><path d="M546.9 356.5 554.8 354.7 550 355.8 542.1 357.6Z" fill="#58b2ac" stroke="#356b67"/><path d="M676.7 284.7 685 277.9 679.9 278.3 671.6 285.1Z" fill="#dff299" stroke="#86915c"/><path d="M247.2 190.4 255.7 193 251.4 184.4 242.8 181.7Z" fill="#fdc372" stroke="#987545"/><path d="M350.9 338 359.2 340.9 354.8 338.4 346.5 335.6Z" fill="#76c8a5" stroke="#477863"/><path d="M654.1 307.5 662.3 301.8 657.2 302.7 649 308.4Z" fill="#b8e2a1" stroke="#6e8861"/><path d="M489.7 363.5 497.7 363.3 493 363.8 485.1 364Z" fill="#4ea7b0" stroke="#2f646a"/><path d="M691.4 264 699.8 256.3 694.7 256.2 686.4 263.9Z" fill="#f3faac" stroke="#929667"/><path d="M333.7 329.7 342 332.8 337.6 329.8 329.2 326.7Z" fill="#89d0a4" stroke="#527d63"/><path d="M311.8 316.4 320.3 319.9 315.8 316 307.3 312.6Z" fill="#a4daa4" stroke="#638362"/><path d="M634.8 321.7 642.9 316.8 637.8 318 629.7 322.8Z" fill="#9cd7a4" stroke="#5e8163"/><path d="M368.1 345 376.4 347.6 371.9 345.7 363.7 343.1Z" fill="#69c3a5" stroke="#3f7563"/><path d="M244.9 211.9 253.5 215.1 248.6 206.2 240 203Z" fill="#fee08b" stroke="#988653"/><path d="M251.9 245.1 260.5 248.8 255.8 241.3 247.1 237.6Z" fill="#fffebe" stroke="#999972"/><path d="M510.3 362.1 518.3 361.4 513.6 362.1 505.6 362.9Z" fill="#50a9af" stroke="#306569"/><path d="M469.1 363.6 477.1 363.9 472.5 364.1 464.5 363.8Z" fill="#4ea7b0" stroke="#2f646a"/><path d="M246.1 225.5 254.7 228.9 249.8 220.6 241.2 217.1Z" fill="#feec9f" stroke="#998e60"/><path d="M538.9 358.1 546.9 356.5 542.1 357.6 534.2 359.1Z" fill="#58b2ac" stroke="#356b67"/><path d="M410.6 356.9 418.7 358.6 414.2 357.8 406.1 356.1Z" fill="#58b2ac" stroke="#356b67"/><path d="M423.2 359.2 431.3 360.7 426.8 360.1 418.7 358.6Z" fill="#54aead" stroke="#326868"/><path d="M688.2 271.2 696.6 263.8 691.4 264 683.1 271.4Z" fill="#eef8a4" stroke="#8f9563"/><path d="M276.1 285.5 284.7 289.4 280.1 283.9 271.5 280Z" fill="#ddf19a" stroke="#84915c"/><path d="M271.5 280 280.1 283.9 275.4 278.1 266.8 274.3Z" fill="#e6f598" stroke="#8a935b"/><path d="M397.9 354.1 406.1 356.1 401.6 354.9 393.5 352.9Z" fill="#5cb7aa" stroke="#376e66"/><path d="M243.6 197 252.2 199.9 247.2 190.4 238.6 187.4Z" fill="#fec877" stroke="#987848"/><path d="M280.7 290.7 289.2 294.6 284.7 289.4 276.1 285.5Z" fill="#d3ed9c" stroke="#7f8e5d"/><path d="M435.8 361 443.9 362.2 439.4 361.8 431.3 360.7Z" fill="#52abae" stroke="#316769"/><path d="M266.8 274.3 275.4 278.1 270.8 272.1 262.2 268.2Z" fill="#ebf7a0" stroke="#8d9460"/><path d="M316.3 320 324.8 323.4 320.3 319.9 311.8 316.4Z" fill="#9fd8a4" stroke="#5f8263"/><path d="M673.6 290.6 681.9 284 676.7 284.7 668.5 291.2Z" fill="#d8ef9b" stroke="#82905d"/><path d="M642.9 316.8 651 311.7 645.9 312.9 637.8 318Z" fill="#aadca4" stroke="#668462"/><path d="M285.2 295.7 293.8 299.5 289.2 294.6 280.7 290.7Z" fill="#cdeb9d" stroke="#7b8d5e"/><path d="M262.2 268.2 270.8 272.1 266.1 265.8 257.5 261.9Z" fill="#f0f9a7" stroke="#909564"/><path d="M662.3 301.8 670.5 295.9 665.3 296.8 657.2 302.7Z" fill="#c6e89f" stroke="#778b5f"/><path d="M591.6 343.4 599.6 340.3 594.6 341.6 586.7 344.8Z" fill="#74c7a5" stroke="#457863"/><path d="M385.3 350.7 393.5 352.9 389 351.5 380.8 349.3Z" fill="#64c0a6" stroke="#3c7364"/><path d="M599.6 340.3 607.6 336.8 602.6 338.2 594.6 341.6Z" fill="#7ccaa5" stroke="#4a7963"/><path d="M247.1 237.6 255.8 241.3 250.9 233.6 242.3 229.8Z" fill="#fff6b0" stroke="#999469"/><path d="M583.6 346.3 591.6 343.4 586.7 344.8 578.7 347.7Z" fill="#6ec5a5" stroke="#427663"/><path d="M531 359.4 538.9 358.1 534.2 359.1 526.2 360.4Z" fill="#58b2ac" stroke="#356b67"/><path d="M448.4 362.2 456.5 363.1 451.9 363.1 443.9 362.2Z" fill="#52abae" stroke="#316769"/><path d="M338.1 332.4 346.5 335.6 342 332.8 333.7 329.7Z" fill="#89d0a4" stroke="#527d63"/><path d="M355.4 340.2 363.7 343.1 359.2 340.9 350.9 338Z" fill="#79c9a5" stroke="#497963"/><path d="M289.8 300.3 298.3 304.1 293.8 299.5 285.2 295.7Z" fill="#c6e89f" stroke="#778b5f"/><path d="M607.6 336.8 615.7 333.1 610.6 334.5 602.6 338.2Z" fill="#81cda5" stroke="#4d7b63"/><path d="M685 277.9 693.4 270.8 688.2 271.2 679.9 278.3Z" fill="#ebf7a0" stroke="#8d9460"/><path d="M575.6 349 583.6 346.3 578.7 347.7 570.7 350.3Z" fill="#69c3a5" stroke="#3f7563"/><path d="M257.5 261.9 266.1 265.8 261.4 259.2 252.8 255.3Z" fill="#f5fbaf" stroke="#939769"/><path d="M481.7 363.4 489.7 363.5 485.1 364 477.1 363.9Z" fill="#52abae" stroke="#316769"/><path d="M502.3 362.6 510.3 362.1 505.6 362.9 497.7 363.3Z" fill="#54aead" stroke="#326868"/><path d="M615.7 333.1 623.7 329.1 618.7 330.5 610.6 334.5Z" fill="#8cd1a4" stroke="#547d63"/><path d="M241.2 217.1 249.8 220.6 244.9 211.9 236.3 208.5Z" fill="#fee28f" stroke="#988856"/><path d="M240 203 248.6 206.2 243.6 197 235 193.7Z" fill="#fece7c" stroke="#987c4b"/><path d="M567.7 351.3 575.6 349 570.7 350.3 562.8 352.6Z" fill="#66c2a5" stroke="#3d7463"/><path d="M706.5 239.5 714 232 708.9 231.4 701.4 238.9Z" fill="#fff5ae" stroke="#999368"/><path d="M294.3 304.7 302.8 308.5 298.3 304.1 289.8 300.3Z" fill="#bfe5a0" stroke="#728960"/><path d="M651 311.7 659.2 306.3 654.1 307.5 645.9 312.9Z" fill="#b8e2a1" stroke="#6e8861"/><path d="M703.2 248.2 711.7 239.9 706.5 239.5 698.1 247.8Z" fill="#fffcba" stroke="#999770"/><path d="M320.8 323.2 329.2 326.7 324.8 323.4 316.3 320Z" fill="#9fd8a4" stroke="#5f8263"/><path d="M372.6 346.7 380.8 349.3 376.4 347.6 368.1 345Z" fill="#6ec5a5" stroke="#427663"/><path d="M252.8 255.3 261.4 259.2 256.7 252.3 248 248.3Z" fill="#fbfdb8" stroke="#96986e"/><path d="M461 362.9 469.1 363.6 464.5 363.8 456.5 363.1Z" fill="#54aead" stroke="#326868"/><path d="M623.7 329.1 631.8 324.8 626.7 326.2 618.7 330.5Z" fill="#97d5a4" stroke="#5a8063"/><path d="M699.8 256.3 708.3 248.3 703.2 248.2 694.7 256.2Z" fill="#fcfeba" stroke="#97986f"/><path d="M523 360.4 531 359.4 526.2 360.4 518.3 361.4Z" fill="#5ab4ab" stroke="#366c66"/><path d="M559.7 353.4 567.7 351.3 562.8 352.6 554.8 354.7Z" fill="#64c0a6" stroke="#3c7364"/><path d="M242.3 229.8 250.9 233.6 246.1 225.5 237.4 221.8Z" fill="#feeda1" stroke="#998e61"/><path d="M238.6 187.4 247.2 190.4 242.8 181.7 234.2 178.8Z" fill="#fdb768" stroke="#986e3f"/><path d="M670.5 295.9 678.8 289.6 673.6 290.6 665.3 296.8Z" fill="#d3ed9c" stroke="#7f8e5d"/><path d="M298.8 308.8 307.3 312.6 302.8 308.5 294.3 304.7Z" fill="#bae3a1" stroke="#708861"/><path d="M681.9 284 690.2 277.2 685 277.9 676.7 284.7Z" fill="#e8f69b" stroke="#8b935d"/><path d="M696.6 263.8 705 256.1 699.8 256.3 691.4 264Z" fill="#f7fcb2" stroke="#94976b"/><path d="M631.8 324.8 639.9 320.2 634.8 321.7 626.7 326.2Z" fill="#a2d9a4" stroke="#618262"/><path d="M342.6 334.9 350.9 338 346.5 335.6 338.1 332.4Z" fill="#89d0a4" stroke="#527d63"/><path d="M248 248.3 256.7 252.3 251.9 245.1 243.2 241.1Z" fill="#fffdbc" stroke="#999871"/><path d="M415.1 357.5 423.2 359.2 418.7 358.6 410.6 356.9Z" fill="#5eb9a9" stroke="#386f65"/><path d="M402.4 354.9 410.6 356.9 406.1 356.1 397.9 354.1Z" fill="#62bda7" stroke="#3b7264"/><path d="M551.7 355.2 559.7 353.4 554.8 354.7 546.9 356.5Z" fill="#64c0a6" stroke="#3c7364"/><path d="M427.7 359.6 435.8 361 431.3 360.7 423.2 359.2Z" fill="#5cb7aa" stroke="#376e66"/><path d="M494.4 362.8 502.3 362.6 497.7 363.3 489.7 363.5Z" fill="#58b2ac" stroke="#356b67"/><path d="M359.8 342.2 368.1 345 363.7 343.1 355.4 340.2Z" fill="#7ccaa5" stroke="#4a7963"/><path d="M659.2 306.3 667.4 300.6 662.3 301.8 654.1 307.5Z" fill="#c3e79f" stroke="#758b5f"/><path d="M325.2 326.3 333.7 329.7 329.2 326.7 320.8 323.2Z" fill="#9cd7a4" stroke="#5e8163"/><path d="M473.7 363.1 481.7 363.4 477.1 363.9 469.1 363.6Z" fill="#58b2ac" stroke="#356b67"/><path d="M236.3 208.5 244.9 211.9 240 203 231.3 199.5Z" fill="#fed27f" stroke="#987e4c"/><path d="M303.3 312.6 311.8 316.4 307.3 312.6 298.8 308.8Z" fill="#b8e2a1" stroke="#6e8861"/><path d="M389.7 351.8 397.9 354.1 393.5 352.9 385.3 350.7Z" fill="#69c3a5" stroke="#3f7563"/><path d="M693.4 270.8 701.8 263.3 696.6 263.8 688.2 271.2Z" fill="#f3faac" stroke="#929667"/><path d="M440.3 361.1 448.4 362.2 443.9 362.2 435.8 361Z" fill="#5cb7aa" stroke="#376e66"/><path d="M639.9 320.2 648 315.4 642.9 316.8 634.8 321.7Z" fill="#acdda4" stroke="#678562"/><path d="M515 361.1 523 360.4 518.3 361.4 510.3 362.1Z" fill="#5cb7aa" stroke="#376e66"/><path d="M237.4 221.8 246.1 225.5 241.2 217.1 232.5 213.4Z" fill="#fee491" stroke="#988957"/><path d="M243.2 241.1 251.9 245.1 247.1 237.6 238.4 233.6Z" fill="#fff5ae" stroke="#999368"/><path d="M235 193.7 243.6 197 238.6 187.4 230 184.1Z" fill="#fdbb6c" stroke="#987041"/><path d="M543.8 356.8 551.7 355.2 546.9 356.5 538.9 358.1Z" fill="#64c0a6" stroke="#3c7364"/><path d="M377 348.1 385.3 350.7 380.8 349.3 372.6 346.7Z" fill="#74c7a5" stroke="#457863"/><path d="M678.8 289.6 687.1 283.1 681.9 284 673.6 290.6Z" fill="#e6f598" stroke="#8a935b"/><path d="M267.4 281.4 276.1 285.5 271.5 280 262.8 275.9Z" fill="#eaf79e" stroke="#8c945f"/><path d="M262.8 275.9 271.5 280 266.8 274.3 258.1 270.1Z" fill="#eef8a4" stroke="#8f9563"/><path d="M453 362 461 362.9 456.5 363.1 448.4 362.2Z" fill="#5cb7aa" stroke="#376e66"/><path d="M272 286.6 280.7 290.7 276.1 285.5 267.4 281.4Z" fill="#e6f598" stroke="#8a935b"/><path d="M307.8 316.2 316.3 320 311.8 316.4 303.3 312.6Z" fill="#b3e0a2" stroke="#6b8761"/><path d="M711.7 239.9 719.1 232.3 714 232 706.5 239.5Z" fill="#fff1a8" stroke="#999165"/><path d="M258.1 270.1 266.8 274.3 262.2 268.2 253.5 264Z" fill="#f3faac" stroke="#929667"/><path d="M648 315.4 656.2 310.3 651 311.7 642.9 316.8Z" fill="#b8e2a1" stroke="#6e8861"/><path d="M667.4 300.6 675.7 294.6 670.5 295.9 662.3 301.8Z" fill="#d3ed9c" stroke="#7f8e5d"/><path d="M347 337.1 355.4 340.2 350.9 338 342.6 334.9Z" fill="#8cd1a4" stroke="#547d63"/><path d="M690.2 277.2 698.6 270 693.4 270.8 685 277.9Z" fill="#f0f9a7" stroke="#909564"/><path d="M276.6 291.6 285.2 295.7 280.7 290.7 272 286.6Z" fill="#dff299" stroke="#86915c"/><path d="M708.3 248.3 716.8 239.9 711.7 239.9 703.2 248.2Z" fill="#fff7b2" stroke="#99946b"/><path d="M329.7 329 338.1 332.4 333.7 329.7 325.2 326.3Z" fill="#9cd7a4" stroke="#5e8163"/><path d="M253.5 264 262.2 268.2 257.5 261.9 248.8 257.7Z" fill="#f8fcb4" stroke="#95976c"/><path d="M238.4 233.6 247.1 237.6 242.3 229.8 233.6 225.8Z" fill="#feec9f" stroke="#998e60"/><path d="M486.4 362.7 494.4 362.8 489.7 363.5 481.7 363.4Z" fill="#5cb7aa" stroke="#376e66"/><path d="M535.8 358 543.8 356.8 538.9 358.1 531 359.4Z" fill="#64c0a6" stroke="#3c7364"/><path d="M596.6 341.8 604.6 338.6 599.6 340.3 591.6 343.4Z" fill="#86cfa5" stroke="#517c63"/><path d="M604.6 338.6 612.7 335.2 607.6 336.8 599.6 340.3Z" fill="#8cd1a4" stroke="#547d63"/><path d="M588.6 344.7 596.6 341.8 591.6 343.4 583.6 346.3Z" fill="#81cda5" stroke="#4d7b63"/><path d="M507.1 361.6 515 361.1 510.3 362.1 502.3 362.6Z" fill="#60bba8" stroke="#3a7065"/><path d="M705 256.1 713.5 248.1 708.3 248.3 699.8 256.3Z" fill="#fffebe" stroke="#999972"/><path d="M281.2 296.2 289.8 300.3 285.2 295.7 276.6 291.6Z" fill="#d8ef9b" stroke="#82905d"/><path d="M612.7 335.2 620.7 331.4 615.7 333.1 607.6 336.8Z" fill="#94d4a4" stroke="#597f63"/><path d="M231.3 199.5 240 203 235 193.7 226.3 190.2Z" fill="#fdc171" stroke="#987444"/><path d="M364.2 343.8 372.6 346.7 368.1 345 359.8 342.2Z" fill="#81cda5" stroke="#4d7b63"/><path d="M232.5 213.4 241.2 217.1 236.3 208.5 227.6 204.7Z" fill="#fed481" stroke="#987f4d"/><path d="M580.6 347.4 588.6 344.7 583.6 346.3 575.6 349Z" fill="#7ccaa5" stroke="#4a7963"/><path d="M248.8 257.7 257.5 261.9 252.8 255.3 244 251Z" fill="#fdfebb" stroke="#989870"/><path d="M465.6 362.5 473.7 363.1 469.1 363.6 461 362.9Z" fill="#5eb9a9" stroke="#386f65"/><path d="M620.7 331.4 628.8 327.4 623.7 329.1 615.7 333.1Z" fill="#9fd8a4" stroke="#5f8263"/><path d="M656.2 310.3 664.4 304.9 659.2 306.3 651 311.7Z" fill="#c6e89f" stroke="#778b5f"/><path d="M312.3 319.5 320.8 323.2 316.3 320 307.8 316.2Z" fill="#b1dfa3" stroke="#6a8662"/><path d="M572.6 349.7 580.6 347.4 575.6 349 567.7 351.3Z" fill="#79c9a5" stroke="#497963"/><path d="M285.7 300.6 294.3 304.7 289.8 300.3 281.2 296.2Z" fill="#d3ed9c" stroke="#7f8e5d"/><path d="M406.9 355.5 415.1 357.5 410.6 356.9 402.4 354.9Z" fill="#6bc4a5" stroke="#407663"/><path d="M419.6 357.8 427.7 359.6 423.2 359.2 415.1 357.5Z" fill="#66c2a5" stroke="#3d7463"/><path d="M230 184.1 238.6 187.4 234.2 178.8 225.6 175.5Z" fill="#fca85e" stroke="#976538"/><path d="M701.8 263.3 710.2 255.6 705 256.1 696.6 263.8Z" fill="#fcfeba" stroke="#97986f"/><path d="M244 251 252.8 255.3 248 248.3 239.3 244.1Z" fill="#fffbb8" stroke="#99966e"/><path d="M394.2 352.6 402.4 354.9 397.9 354.1 389.7 351.8Z" fill="#71c6a5" stroke="#447763"/><path d="M628.8 327.4 636.9 323.1 631.8 324.8 623.7 329.1Z" fill="#a7dba4" stroke="#648462"/><path d="M432.2 359.6 440.3 361.1 435.8 361 427.7 359.6Z" fill="#64c0a6" stroke="#3c7364"/><path d="M233.6 225.8 242.3 229.8 237.4 221.8 228.7 217.7Z" fill="#fee491" stroke="#988957"/><path d="M687.1 283.1 695.4 276.2 690.2 277.2 681.9 284Z" fill="#edf8a3" stroke="#8e9562"/><path d="M527.8 359.1 535.8 358 531 359.4 523 360.4Z" fill="#66c2a5" stroke="#3d7463"/><path d="M675.7 294.6 684 288.4 678.8 289.6 670.5 295.9Z" fill="#e1f399" stroke="#87925c"/><path d="M564.6 351.8 572.6 349.7 567.7 351.3 559.7 353.4Z" fill="#76c8a5" stroke="#477863"/><path d="M334.1 331.5 342.6 334.9 338.1 332.4 329.7 329Z" fill="#9fd8a4" stroke="#5f8263"/><path d="M290.2 304.7 298.8 308.8 294.3 304.7 285.7 300.6Z" fill="#cfec9d" stroke="#7c8d5e"/><path d="M351.4 339 359.8 342.2 355.4 340.2 347 337.1Z" fill="#8fd2a4" stroke="#567e63"/><path d="M381.4 349.2 389.7 351.8 385.3 350.7 377 348.1Z" fill="#7ccaa5" stroke="#4a7963"/><path d="M636.9 323.1 645.1 318.5 639.9 320.2 631.8 324.8Z" fill="#b1dfa3" stroke="#6a8662"/><path d="M444.9 360.9 453 362 448.4 362.2 440.3 361.1Z" fill="#64c0a6" stroke="#3c7364"/><path d="M239.3 244.1 248 248.3 243.2 241.1 234.4 236.9Z" fill="#fff3ac" stroke="#999267"/><path d="M499.1 361.7 507.1 361.6 502.3 362.6 494.4 362.8Z" fill="#64c0a6" stroke="#3c7364"/><path d="M478.3 362.3 486.4 362.7 481.7 363.4 473.7 363.1Z" fill="#62bda7" stroke="#3b7264"/><path d="M698.6 270 707 262.6 701.8 263.3 693.4 270.8Z" fill="#f8fcb4" stroke="#95976c"/><path d="M664.4 304.9 672.7 299.1 667.4 300.6 659.2 306.3Z" fill="#d3ed9c" stroke="#7f8e5d"/><path d="M227.6 204.7 236.3 208.5 231.3 199.5 222.6 195.7Z" fill="#fdc372" stroke="#987545"/><path d="M556.6 353.6 564.6 351.8 559.7 353.4 551.7 355.2Z" fill="#74c7a5" stroke="#457863"/><path d="M316.7 322.5 325.2 326.3 320.8 323.2 312.3 319.5Z" fill="#b1dfa3" stroke="#6a8662"/><path d="M226.3 190.2 235 193.7 230 184.1 221.3 180.6Z" fill="#fdad60" stroke="#98683a"/><path d="M294.7 308.6 303.3 312.6 298.8 308.8 290.2 304.7Z" fill="#caea9e" stroke="#798c5f"/><path d="M716.8 239.9 724.3 232.4 719.1 232.3 711.7 239.9Z" fill="#feec9f" stroke="#998e60"/><path d="M519.8 359.8 527.8 359.1 523 360.4 515 361.1Z" fill="#69c3a5" stroke="#3f7563"/><path d="M368.7 345.2 377 348.1 372.6 346.7 364.2 343.8Z" fill="#86cfa5" stroke="#517c63"/><path d="M228.7 217.7 237.4 221.8 232.5 213.4 223.7 209.3Z" fill="#fed683" stroke="#98814e"/><path d="M645.1 318.5 653.2 313.7 648 315.4 639.9 320.2Z" fill="#bce4a0" stroke="#718960"/><path d="M457.6 361.6 465.6 362.5 461 362.9 453 362Z" fill="#66c2a5" stroke="#3d7463"/><path d="M234.4 236.9 243.2 241.1 238.4 233.6 229.6 229.3Z" fill="#feeb9d" stroke="#998d5e"/><path d="M713.5 248.1 722.1 239.7 716.8 239.9 708.3 248.3Z" fill="#fff2aa" stroke="#999166"/><path d="M548.6 355.2 556.6 353.6 551.7 355.2 543.8 356.8Z" fill="#74c7a5" stroke="#457863"/><path d="M684 288.4 692.3 281.8 687.1 283.1 678.8 289.6Z" fill="#ebf7a0" stroke="#8d9460"/><path d="M695.4 276.2 703.8 269 698.6 270 690.2 277.2Z" fill="#f5fbaf" stroke="#939769"/><path d="M338.6 333.7 347 337.1 342.6 334.9 334.1 331.5Z" fill="#9fd8a4" stroke="#5f8263"/><path d="M710.2 255.6 718.8 247.6 713.5 248.1 705 256.1Z" fill="#fff8b4" stroke="#99956c"/><path d="M672.7 299.1 680.9 293.1 675.7 294.6 667.4 300.6Z" fill="#e1f399" stroke="#87925c"/><path d="M258.7 277 267.4 281.4 262.8 275.9 254 271.4Z" fill="#f3faac" stroke="#929667"/><path d="M254 271.4 262.8 275.9 258.1 270.1 249.4 265.6Z" fill="#f7fcb2" stroke="#94976b"/><path d="M299.2 312.2 307.8 316.2 303.3 312.6 294.7 308.6Z" fill="#c8e99e" stroke="#788c5f"/><path d="M653.2 313.7 661.4 308.5 656.2 310.3 648 315.4Z" fill="#c8e99e" stroke="#788c5f"/><path d="M263.3 282.2 272 286.6 267.4 281.4 258.7 277Z" fill="#eff9a6" stroke="#8f9563"/><path d="M491 361.7 499.1 361.7 494.4 362.8 486.4 362.7Z" fill="#69c3a5" stroke="#3f7563"/><path d="M321.2 325.3 329.7 329 325.2 326.3 316.7 322.5Z" fill="#b1dfa3" stroke="#6a8662"/><path d="M249.4 265.6 258.1 270.1 253.5 264 244.7 259.5Z" fill="#fcfeba" stroke="#97986f"/><path d="M411.4 355.8 419.6 357.8 415.1 357.5 406.9 355.5Z" fill="#74c7a5" stroke="#457863"/><path d="M355.9 340.7 364.2 343.8 359.8 342.2 351.4 339Z" fill="#94d4a4" stroke="#597f63"/><path d="M398.6 353.2 406.9 355.5 402.4 354.9 394.2 352.6Z" fill="#7ccaa5" stroke="#4a7963"/><path d="M229.6 229.3 238.4 233.6 233.6 225.8 224.7 221.5Z" fill="#fee28f" stroke="#988856"/><path d="M267.9 287.2 276.6 291.6 272 286.6 263.3 282.2Z" fill="#ecf7a1" stroke="#8e9461"/><path d="M424.1 357.9 432.2 359.6 427.7 359.6 419.6 357.8Z" fill="#71c6a5" stroke="#447763"/><path d="M222.6 195.7 231.3 199.5 226.3 190.2 217.5 186.3Z" fill="#fdb163" stroke="#986a3c"/><path d="M540.6 356.5 548.6 355.2 543.8 356.8 535.8 358Z" fill="#76c8a5" stroke="#477863"/><path d="M511.8 360.2 519.8 359.8 515 361.1 507.1 361.6Z" fill="#6ec5a5" stroke="#427663"/><path d="M244.7 259.5 253.5 264 248.8 257.7 240 253.2Z" fill="#fffdbc" stroke="#999871"/><path d="M470.3 361.7 478.3 362.3 473.7 363.1 465.6 362.5Z" fill="#6bc4a5" stroke="#407663"/><path d="M601.6 339.9 609.7 336.7 604.6 338.6 596.6 341.8Z" fill="#99d6a4" stroke="#5c8063"/><path d="M223.7 209.3 232.5 213.4 227.6 204.7 218.7 200.6Z" fill="#fdc574" stroke="#987646"/><path d="M609.7 336.7 617.8 333.2 612.7 335.2 604.6 338.6Z" fill="#9fd8a4" stroke="#5f8263"/><path d="M593.6 342.8 601.6 339.9 596.6 341.8 588.6 344.7Z" fill="#94d4a4" stroke="#597f63"/><path d="M707 262.6 715.5 254.8 710.2 255.6 701.8 263.3Z" fill="#fffdbc" stroke="#999871"/><path d="M385.9 350.1 394.2 352.6 389.7 351.8 381.4 349.2Z" fill="#81cda5" stroke="#4d7b63"/><path d="M272.5 291.8 281.2 296.2 276.6 291.6 267.9 287.2Z" fill="#e9f69d" stroke="#8c945e"/><path d="M221.3 180.6 230 184.1 225.6 175.5 216.8 171.9Z" fill="#fa9656" stroke="#965a33"/><path d="M436.8 359.4 444.9 360.9 440.3 361.1 432.2 359.6Z" fill="#71c6a5" stroke="#447763"/><path d="M617.8 333.2 625.9 329.5 620.7 331.4 612.7 335.2Z" fill="#a7dba4" stroke="#648462"/><path d="M240 253.2 248.8 257.7 244 251 235.2 246.5Z" fill="#fff7b2" stroke="#99946b"/><path d="M585.6 345.5 593.6 342.8 588.6 344.7 580.6 347.4Z" fill="#8fd2a4" stroke="#567e63"/><path d="M661.4 308.5 669.7 303.1 664.4 304.9 656.2 310.3Z" fill="#d3ed9c" stroke="#7f8e5d"/><path d="M303.7 315.5 312.3 319.5 307.8 316.2 299.2 312.2Z" fill="#c6e89f" stroke="#778b5f"/><path d="M625.9 329.5 634 325.4 628.8 327.4 620.7 331.4Z" fill="#b1dfa3" stroke="#6a8662"/><path d="M692.3 281.8 700.7 274.9 695.4 276.2 687.1 283.1Z" fill="#f3faac" stroke="#929667"/><path d="M577.6 347.8 585.6 345.5 580.6 347.4 572.6 349.7Z" fill="#8cd1a4" stroke="#547d63"/><path d="M277 296.2 285.7 300.6 281.2 296.2 272.5 291.8Z" fill="#e6f598" stroke="#8a935b"/><path d="M373.1 346.4 381.4 349.2 377 348.1 368.7 345.2Z" fill="#8cd1a4" stroke="#547d63"/><path d="M680.9 293.1 689.3 286.8 684 288.4 675.7 294.6Z" fill="#ebf7a0" stroke="#8d9460"/><path d="M224.7 221.5 233.6 225.8 228.7 217.7 219.8 213.3Z" fill="#fed481" stroke="#987f4d"/><path d="M235.2 246.5 244 251 239.3 244.1 230.4 239.5Z" fill="#fff0a6" stroke="#999063"/><path d="M532.6 357.5 540.6 356.5 535.8 358 527.8 359.1Z" fill="#79c9a5" stroke="#497963"/><path d="M449.5 360.4 457.6 361.6 453 362 444.9 360.9Z" fill="#71c6a5" stroke="#447763"/><path d="M634 325.4 642.1 321.1 636.9 323.1 628.8 327.4Z" fill="#b8e2a1" stroke="#6e8861"/><path d="M325.6 327.7 334.1 331.5 329.7 329 321.2 325.3Z" fill="#b1dfa3" stroke="#6a8662"/><path d="M343 335.6 351.4 339 347 337.1 338.6 333.7Z" fill="#a4daa4" stroke="#638362"/><path d="M703.8 269 712.3 261.6 707 262.6 698.6 270Z" fill="#fdfebb" stroke="#989870"/><path d="M569.5 349.9 577.6 347.8 572.6 349.7 564.6 351.8Z" fill="#89d0a4" stroke="#527d63"/><path d="M722.1 239.7 729.6 232.1 724.3 232.4 716.8 239.9Z" fill="#fee797" stroke="#998b5b"/><path d="M483 361.3 491 361.7 486.4 362.7 478.3 362.3Z" fill="#71c6a5" stroke="#447763"/><path d="M503.8 360.4 511.8 360.2 507.1 361.6 499.1 361.7Z" fill="#74c7a5" stroke="#457863"/><path d="M281.5 300.4 290.2 304.7 285.7 300.6 277 296.2Z" fill="#e1f399" stroke="#87925c"/><path d="M218.7 200.6 227.6 204.7 222.6 195.7 213.7 191.5Z" fill="#fdb567" stroke="#986d3e"/><path d="M642.1 321.1 650.3 316.5 645.1 318.5 636.9 323.1Z" fill="#c3e79f" stroke="#758b5f"/><path d="M230.4 239.5 239.3 244.1 234.4 236.9 225.6 232.3Z" fill="#fee999" stroke="#998c5c"/><path d="M217.5 186.3 226.3 190.2 221.3 180.6 212.4 176.7Z" fill="#fa9b58" stroke="#965d35"/><path d="M669.7 303.1 677.9 297.4 672.7 299.1 664.4 304.9Z" fill="#e1f399" stroke="#87925c"/><path d="M308.2 318.5 316.7 322.5 312.3 319.5 303.7 315.5Z" fill="#c3e79f" stroke="#758b5f"/><path d="M360.3 342.1 368.7 345.2 364.2 343.8 355.9 340.7Z" fill="#99d6a4" stroke="#5c8063"/><path d="M718.8 247.6 727.3 239.2 722.1 239.7 713.5 248.1Z" fill="#feeda1" stroke="#998e61"/><path d="M561.5 351.8 569.5 349.9 564.6 351.8 556.6 353.6Z" fill="#89d0a4" stroke="#527d63"/><path d="M462.2 360.8 470.3 361.7 465.6 362.5 457.6 361.6Z" fill="#74c7a5" stroke="#457863"/><path d="M524.6 358.2 532.6 357.5 527.8 359.1 519.8 359.8Z" fill="#7ccaa5" stroke="#4a7963"/><path d="M219.8 213.3 228.7 217.7 223.7 209.3 214.9 204.9Z" fill="#fdc574" stroke="#987646"/><path d="M286.1 304.2 294.7 308.6 290.2 304.7 281.5 300.4Z" fill="#dff299" stroke="#86915c"/><path d="M403.1 353.6 411.4 355.8 406.9 355.5 398.6 353.2Z" fill="#84cea5" stroke="#4f7b63"/><path d="M650.3 316.5 658.5 311.7 653.2 313.7 645.1 318.5Z" fill="#cdeb9d" stroke="#7b8d5e"/><path d="M415.9 355.9 424.1 357.9 419.6 357.8 411.4 355.8Z" fill="#81cda5" stroke="#4d7b63"/><path d="M689.3 286.8 697.6 280.2 692.3 281.8 684 288.4Z" fill="#f2faaa" stroke="#919666"/><path d="M715.5 254.8 724.1 246.8 718.8 247.6 710.2 255.6Z" fill="#fff2aa" stroke="#999166"/><path d="M225.6 232.3 234.4 236.9 229.6 229.3 220.7 224.7Z" fill="#fee08b" stroke="#988653"/><path d="M700.7 274.9 709.2 267.7 703.8 269 695.4 276.2Z" fill="#fbfdb8" stroke="#96986e"/><path d="M390.4 350.7 398.6 353.2 394.2 352.6 385.9 350.1Z" fill="#8cd1a4" stroke="#547d63"/><path d="M553.5 353.3 561.5 351.8 556.6 353.6 548.6 355.2Z" fill="#89d0a4" stroke="#527d63"/><path d="M428.6 357.7 436.8 359.4 432.2 359.6 424.1 357.9Z" fill="#7ecca5" stroke="#4c7a63"/><path d="M330.1 329.9 338.6 333.7 334.1 331.5 325.6 327.7Z" fill="#b3e0a2" stroke="#6b8761"/><path d="M677.9 297.4 686.2 291.3 680.9 293.1 672.7 299.1Z" fill="#ebf7a0" stroke="#8d9460"/><path d="M347.4 337.3 355.9 340.7 351.4 339 343 335.6Z" fill="#a7dba4" stroke="#648462"/><path d="M495.7 360.4 503.8 360.4 499.1 361.7 491 361.7Z" fill="#7ccaa5" stroke="#4a7963"/><path d="M312.6 321.2 321.2 325.3 316.7 322.5 308.2 318.5Z" fill="#c3e79f" stroke="#758b5f"/><path d="M290.5 307.8 299.2 312.2 294.7 308.6 286.1 304.2Z" fill="#daf09a" stroke="#83905d"/><path d="M377.6 347.2 385.9 350.1 381.4 349.2 373.1 346.4Z" fill="#94d4a4" stroke="#597f63"/><path d="M474.9 360.7 483 361.3 478.3 362.3 470.3 361.7Z" fill="#7ccaa5" stroke="#4a7963"/><path d="M658.5 311.7 666.7 306.5 661.4 308.5 653.2 313.7Z" fill="#d8ef9b" stroke="#82905d"/><path d="M249.9 272.2 258.7 277 254 271.4 245.2 266.7Z" fill="#fcfeba" stroke="#97986f"/><path d="M441.3 358.9 449.5 360.4 444.9 360.9 436.8 359.4Z" fill="#7ecca5" stroke="#4c7a63"/><path d="M213.7 191.5 222.6 195.7 217.5 186.3 208.7 182.1Z" fill="#fb9d59" stroke="#965e36"/><path d="M245.2 266.7 254 271.4 249.4 265.6 240.5 260.8Z" fill="#fffebe" stroke="#999972"/><path d="M712.3 261.6 720.8 253.8 715.5 254.8 707 262.6Z" fill="#fff7b2" stroke="#99946b"/><path d="M254.5 277.5 263.3 282.2 258.7 277 249.9 272.2Z" fill="#f8fcb4" stroke="#95976c"/><path d="M240.5 260.8 249.4 265.6 244.7 259.5 235.8 254.7Z" fill="#fff8b4" stroke="#99956c"/><path d="M220.7 224.7 229.6 229.3 224.7 221.5 215.8 216.8Z" fill="#fed27f" stroke="#987e4c"/><path d="M516.6 358.7 524.6 358.2 519.8 359.8 511.8 360.2Z" fill="#81cda5" stroke="#4d7b63"/><path d="M212.4 176.7 221.3 180.6 216.8 171.9 207.9 167.9Z" fill="#f7814c" stroke="#944e2e"/><path d="M214.9 204.9 223.7 209.3 218.7 200.6 209.8 196.1Z" fill="#fdb567" stroke="#986d3e"/><path d="M545.5 354.6 553.5 353.3 548.6 355.2 540.6 356.5Z" fill="#89d0a4" stroke="#527d63"/><path d="M259.1 282.4 267.9 287.2 263.3 282.2 254.5 277.5Z" fill="#f5fbaf" stroke="#939769"/><path d="M235.8 254.7 244.7 259.5 240 253.2 231.1 248.3Z" fill="#fff2aa" stroke="#999166"/><path d="M606.7 337.7 614.8 334.5 609.7 336.7 601.6 339.9Z" fill="#acdda4" stroke="#678562"/><path d="M614.8 334.5 622.9 331 617.8 333.2 609.7 336.7Z" fill="#b3e0a2" stroke="#6b8761"/><path d="M364.7 343.2 373.1 346.4 368.7 345.2 360.3 342.1Z" fill="#9fd8a4" stroke="#5f8263"/><path d="M598.7 340.6 606.7 337.7 601.6 339.9 593.6 342.8Z" fill="#a7dba4" stroke="#648462"/><path d="M263.7 287.1 272.5 291.8 267.9 287.2 259.1 282.4Z" fill="#f2faaa" stroke="#919666"/><path d="M697.6 280.2 706.1 273.3 700.7 274.9 692.3 281.8Z" fill="#f9fcb5" stroke="#95976d"/><path d="M622.9 331 631 327.2 625.9 329.5 617.8 333.2Z" fill="#bae3a1" stroke="#708861"/><path d="M454.1 359.6 462.2 360.8 457.6 361.6 449.5 360.4Z" fill="#81cda5" stroke="#4d7b63"/><path d="M727.3 239.2 734.9 231.6 729.6 232.1 722.1 239.7Z" fill="#fee18d" stroke="#988755"/><path d="M231.1 248.3 240 253.2 235.2 246.5 226.3 241.6Z" fill="#feec9f" stroke="#998e60"/><path d="M590.6 343.3 598.7 340.6 593.6 342.8 585.6 345.5Z" fill="#a4daa4" stroke="#638362"/><path d="M295 311.1 303.7 315.5 299.2 312.2 290.5 307.8Z" fill="#daf09a" stroke="#83905d"/><path d="M666.7 306.5 675 301 669.7 303.1 661.4 308.5Z" fill="#e6f598" stroke="#8a935b"/><path d="M686.2 291.3 694.6 285 689.3 286.8 680.9 293.1Z" fill="#f1f9a9" stroke="#909665"/><path d="M631 327.2 639.2 323.2 634 325.4 625.9 329.5Z" fill="#c1e6a0" stroke="#748a60"/><path d="M709.2 267.7 717.7 260.2 712.3 261.6 703.8 269Z" fill="#fffbb8" stroke="#99966e"/><path d="M334.5 331.9 343 335.6 338.6 333.7 330.1 329.9Z" fill="#b8e2a1" stroke="#6e8861"/><path d="M268.2 291.6 277 296.2 272.5 291.8 263.7 287.1Z" fill="#f0f9a7" stroke="#909564"/><path d="M582.6 345.7 590.6 343.3 585.6 345.5 577.6 347.8Z" fill="#9fd8a4" stroke="#5f8263"/><path d="M215.8 216.8 224.7 221.5 219.8 213.3 210.9 208.7Z" fill="#fdc372" stroke="#987545"/><path d="M317.1 323.7 325.6 327.7 321.2 325.3 312.6 321.2Z" fill="#c6e89f" stroke="#778b5f"/><path d="M537.5 355.6 545.5 354.6 540.6 356.5 532.6 357.5Z" fill="#8cd1a4" stroke="#547d63"/><path d="M226.3 241.6 235.2 246.5 230.4 239.5 221.5 234.6Z" fill="#fee593" stroke="#988958"/><path d="M487.7 360 495.7 360.4 491 361.7 483 361.3Z" fill="#81cda5" stroke="#4d7b63"/><path d="M724.1 246.8 732.7 238.4 727.3 239.2 718.8 247.6Z" fill="#fee797" stroke="#998b5b"/><path d="M639.2 323.2 647.3 318.9 642.1 321.1 634 325.4Z" fill="#caea9e" stroke="#798c5f"/><path d="M508.5 358.9 516.6 358.7 511.8 360.2 503.8 360.4Z" fill="#86cfa5" stroke="#517c63"/><path d="M351.9 338.7 360.3 342.1 355.9 340.7 347.4 337.3Z" fill="#acdda4" stroke="#678562"/><path d="M208.7 182.1 217.5 186.3 212.4 176.7 203.5 172.4Z" fill="#f8864f" stroke="#95512f"/><path d="M574.5 347.8 582.6 345.7 577.6 347.8 569.5 349.9Z" fill="#9fd8a4" stroke="#5f8263"/><path d="M407.6 353.6 415.9 355.9 411.4 355.8 403.1 353.6Z" fill="#8fd2a4" stroke="#567e63"/><path d="M209.8 196.1 218.7 200.6 213.7 191.5 204.8 187Z" fill="#fba05b" stroke="#976036"/><path d="M272.8 295.7 281.5 300.4 277 296.2 268.2 291.6Z" fill="#edf8a3" stroke="#8e9562"/><path d="M394.8 351 403.1 353.6 398.6 353.2 390.4 350.7Z" fill="#97d5a4" stroke="#5a8063"/><path d="M466.8 359.8 474.9 360.7 470.3 361.7 462.2 360.8Z" fill="#84cea5" stroke="#4f7b63"/><path d="M420.4 355.7 428.6 357.7 424.1 357.9 415.9 355.9Z" fill="#8cd1a4" stroke="#547d63"/><path d="M675 301 683.3 295.3 677.9 297.4 669.7 303.1Z" fill="#ebf7a0" stroke="#8d9460"/><path d="M299.5 314.1 308.2 318.5 303.7 315.5 295 311.1Z" fill="#d8ef9b" stroke="#82905d"/><path d="M221.5 234.6 230.4 239.5 225.6 232.3 216.6 227.4Z" fill="#fedc88" stroke="#988451"/><path d="M647.3 318.9 655.5 314.3 650.3 316.5 642.1 321.1Z" fill="#d3ed9c" stroke="#7f8e5d"/><path d="M720.8 253.8 729.4 245.7 724.1 246.8 715.5 254.8Z" fill="#feec9f" stroke="#998e60"/><path d="M382 347.8 390.4 350.7 385.9 350.1 377.6 347.2Z" fill="#9fd8a4" stroke="#5f8263"/><path d="M433.1 357.2 441.3 358.9 436.8 359.4 428.6 357.7Z" fill="#8cd1a4" stroke="#547d63"/><path d="M566.5 349.6 574.5 347.8 569.5 349.9 561.5 351.8Z" fill="#9cd7a4" stroke="#5e8163"/><path d="M529.4 356.3 537.5 355.6 532.6 357.5 524.6 358.2Z" fill="#8fd2a4" stroke="#567e63"/><path d="M210.9 208.7 219.8 213.3 214.9 204.9 205.9 200.2Z" fill="#fdb567" stroke="#986d3e"/><path d="M706.1 273.3 714.6 266.1 709.2 267.7 700.7 274.9Z" fill="#fffdbc" stroke="#999871"/><path d="M694.6 285 703 278.4 697.6 280.2 689.3 286.8Z" fill="#f8fcb4" stroke="#95976c"/><path d="M277.3 299.6 286.1 304.2 281.5 300.4 272.8 295.7Z" fill="#ecf7a1" stroke="#8e9461"/><path d="M655.5 314.3 663.8 309.4 658.5 311.7 650.3 316.5Z" fill="#dff299" stroke="#86915c"/><path d="M321.5 325.9 330.1 329.9 325.6 327.7 317.1 323.7Z" fill="#c8e99e" stroke="#788c5f"/><path d="M369.2 344.1 377.6 347.2 373.1 346.4 364.7 343.2Z" fill="#a7dba4" stroke="#648462"/><path d="M216.6 227.4 225.6 232.3 220.7 224.7 211.7 219.8Z" fill="#fece7c" stroke="#987c4b"/><path d="M338.9 333.5 347.4 337.3 343 335.6 334.5 331.9Z" fill="#bae3a1" stroke="#708861"/><path d="M445.9 358.2 454.1 359.6 449.5 360.4 441.3 358.9Z" fill="#8cd1a4" stroke="#547d63"/><path d="M558.5 351.1 566.5 349.6 561.5 351.8 553.5 353.3Z" fill="#9cd7a4" stroke="#5e8163"/><path d="M500.5 358.8 508.5 358.9 503.8 360.4 495.7 360.4Z" fill="#8cd1a4" stroke="#547d63"/><path d="M717.7 260.2 726.2 252.4 720.8 253.8 712.3 261.6Z" fill="#fff0a6" stroke="#999063"/><path d="M479.6 359.4 487.7 360 483 361.3 474.9 360.7Z" fill="#8cd1a4" stroke="#547d63"/><path d="M683.3 295.3 691.6 289.3 686.2 291.3 677.9 297.4Z" fill="#f2faaa" stroke="#919666"/><path d="M204.8 187 213.7 191.5 208.7 182.1 199.7 177.6Z" fill="#f88950" stroke="#955230"/><path d="M304 316.9 312.6 321.2 308.2 318.5 299.5 314.1Z" fill="#d8ef9b" stroke="#82905d"/><path d="M203.5 172.4 212.4 176.7 207.9 167.9 199 163.7Z" fill="#f46d43" stroke="#924128"/><path d="M281.8 303.1 290.5 307.8 286.1 304.2 277.3 299.6Z" fill="#ebf7a0" stroke="#8d9460"/><path d="M663.8 309.4 672 304.2 666.7 306.5 658.5 311.7Z" fill="#e8f69b" stroke="#8b935d"/><path d="M732.7 238.4 740.3 230.7 734.9 231.6 727.3 239.2Z" fill="#fed884" stroke="#98824f"/><path d="M521.4 356.8 529.4 356.3 524.6 358.2 516.6 358.7Z" fill="#94d4a4" stroke="#597f63"/><path d="M241 267.1 249.9 272.2 245.2 266.7 236.3 261.6Z" fill="#fff7b2" stroke="#99946b"/><path d="M356.3 339.8 364.7 343.2 360.3 342.1 351.9 338.7Z" fill="#b3e0a2" stroke="#6b8761"/><path d="M236.3 261.6 245.2 266.7 240.5 260.8 231.6 255.7Z" fill="#fff2aa" stroke="#999166"/><path d="M205.9 200.2 214.9 204.9 209.8 196.1 200.9 191.4Z" fill="#fba05b" stroke="#976036"/><path d="M211.7 219.8 220.7 224.7 215.8 216.8 206.8 211.9Z" fill="#fdc171" stroke="#987444"/><path d="M245.6 272.4 254.5 277.5 249.9 272.2 241 267.1Z" fill="#fffcba" stroke="#999770"/><path d="M231.6 255.7 240.5 260.8 235.8 254.7 226.9 249.6Z" fill="#feeda1" stroke="#998e61"/><path d="M458.7 358.6 466.8 359.8 462.2 360.8 454.1 359.6Z" fill="#8fd2a4" stroke="#567e63"/><path d="M550.4 352.4 558.5 351.1 553.5 353.3 545.5 354.6Z" fill="#9fd8a4" stroke="#5f8263"/><path d="M250.2 277.4 259.1 282.4 254.5 277.5 245.6 272.4Z" fill="#ffffbe" stroke="#999972"/><path d="M703 278.4 711.5 271.5 706.1 273.3 697.6 280.2Z" fill="#fffebe" stroke="#999972"/><path d="M226.9 249.6 235.8 254.7 231.1 248.3 222.1 243.2Z" fill="#fee797" stroke="#998b5b"/><path d="M611.9 335.2 620 332 614.8 334.5 606.7 337.7Z" fill="#bfe5a0" stroke="#728960"/><path d="M620 332 628.1 328.5 622.9 331 614.8 334.5Z" fill="#c6e89f" stroke="#778b5f"/><path d="M714.6 266.1 723.1 258.6 717.7 260.2 709.2 267.7Z" fill="#fff3ac" stroke="#999267"/><path d="M729.4 245.7 738.1 237.3 732.7 238.4 724.1 246.8Z" fill="#fee08b" stroke="#988653"/><path d="M603.8 338.1 611.9 335.2 606.7 337.7 598.7 340.6Z" fill="#bae3a1" stroke="#708861"/><path d="M399.3 351 407.6 353.6 403.1 353.6 394.8 351Z" fill="#a2d9a4" stroke="#618262"/><path d="M254.8 282.1 263.7 287.1 259.1 282.4 250.2 277.4Z" fill="#fcfeba" stroke="#97986f"/><path d="M412.1 353.4 420.4 355.7 415.9 355.9 407.6 353.6Z" fill="#9cd7a4" stroke="#5e8163"/><path d="M325.9 327.8 334.5 331.9 330.1 329.9 321.5 325.9Z" fill="#caea9e" stroke="#798c5f"/><path d="M286.3 306.4 295 311.1 290.5 307.8 281.8 303.1Z" fill="#eaf79e" stroke="#8c945f"/><path d="M628.1 328.5 636.3 324.7 631 327.2 622.9 331Z" fill="#cdeb9d" stroke="#7b8d5e"/><path d="M672 304.2 680.3 298.7 675 301 666.7 306.5Z" fill="#edf8a3" stroke="#8e9562"/><path d="M691.6 289.3 700 282.9 694.6 285 686.2 291.3Z" fill="#f8fcb4" stroke="#95976c"/><path d="M222.1 243.2 231.1 248.3 226.3 241.6 217.3 236.4Z" fill="#fee08b" stroke="#988653"/><path d="M595.7 340.8 603.8 338.1 598.7 340.6 590.6 343.3Z" fill="#b8e2a1" stroke="#6e8861"/><path d="M386.5 348.1 394.8 351 390.4 350.7 382 347.8Z" fill="#a7dba4" stroke="#648462"/><path d="M424.9 355.2 433.1 357.2 428.6 357.7 420.4 355.7Z" fill="#99d6a4" stroke="#5c8063"/><path d="M308.4 319.4 317.1 323.7 312.6 321.2 304 316.9Z" fill="#daf09a" stroke="#83905d"/><path d="M492.4 358.4 500.5 358.8 495.7 360.4 487.7 360Z" fill="#94d4a4" stroke="#597f63"/><path d="M636.3 324.7 644.4 320.6 639.2 323.2 631 327.2Z" fill="#d3ed9c" stroke="#7f8e5d"/><path d="M206.8 211.9 215.8 216.8 210.9 208.7 201.9 203.7Z" fill="#fdb163" stroke="#986a3c"/><path d="M343.4 334.9 351.9 338.7 347.4 337.3 338.9 333.5Z" fill="#bfe5a0" stroke="#728960"/><path d="M542.4 353.4 550.4 352.4 545.5 354.6 537.5 355.6Z" fill="#9fd8a4" stroke="#5f8263"/><path d="M259.4 286.5 268.2 291.6 263.7 287.1 254.8 282.1Z" fill="#f9fcb5" stroke="#95976d"/><path d="M587.6 343.2 595.7 340.8 590.6 343.3 582.6 345.7Z" fill="#b3e0a2" stroke="#6b8761"/><path d="M199.7 177.6 208.7 182.1 203.5 172.4 194.6 167.9Z" fill="#f47044" stroke="#934329"/><path d="M513.3 357 521.4 356.8 516.6 358.7 508.5 358.9Z" fill="#99d6a4" stroke="#5c8063"/><path d="M471.5 358.4 479.6 359.4 474.9 360.7 466.8 359.8Z" fill="#97d5a4" stroke="#5a8063"/><path d="M217.3 236.4 226.3 241.6 221.5 234.6 212.5 229.4Z" fill="#fed481" stroke="#987f4d"/><path d="M373.6 344.7 382 347.8 377.6 347.2 369.2 344.1Z" fill="#b1dfa3" stroke="#6a8662"/><path d="M200.9 191.4 209.8 196.1 204.8 187 195.8 182.3Z" fill="#f88950" stroke="#955230"/><path d="M726.2 252.4 734.9 244.3 729.4 245.7 720.8 253.8Z" fill="#fee593" stroke="#988958"/><path d="M437.7 356.4 445.9 358.2 441.3 358.9 433.1 357.2Z" fill="#99d6a4" stroke="#5c8063"/><path d="M644.4 320.6 652.6 316.3 647.3 318.9 639.2 323.2Z" fill="#ddf19a" stroke="#84915c"/><path d="M579.6 345.3 587.6 343.2 582.6 345.7 574.5 347.8Z" fill="#b1dfa3" stroke="#6a8662"/><path d="M263.9 290.7 272.8 295.7 268.2 291.6 259.4 286.5Z" fill="#f7fcb2" stroke="#94976b"/><path d="M680.3 298.7 688.7 292.9 683.3 295.3 675 301Z" fill="#f3faac" stroke="#929667"/><path d="M290.8 309.5 299.5 314.1 295 311.1 286.3 306.4Z" fill="#e9f69d" stroke="#8c945e"/><path d="M212.5 229.4 221.5 234.6 216.6 227.4 207.6 222.1Z" fill="#fec877" stroke="#987848"/><path d="M652.6 316.3 660.8 311.7 655.5 314.3 647.3 318.9Z" fill="#e6f598" stroke="#8a935b"/><path d="M711.5 271.5 720 264.2 714.6 266.1 706.1 273.3Z" fill="#fff5ae" stroke="#999368"/><path d="M360.7 340.6 369.2 344.1 364.7 343.2 356.3 339.8Z" fill="#bae3a1" stroke="#708861"/><path d="M700 282.9 708.5 276.3 703 278.4 694.6 285Z" fill="#ffffbe" stroke="#999972"/><path d="M201.9 203.7 210.9 208.7 205.9 200.2 196.8 195.1Z" fill="#fb9d59" stroke="#965e36"/><path d="M534.3 354.2 542.4 353.4 537.5 355.6 529.4 356.3Z" fill="#a4daa4" stroke="#638362"/><path d="M450.5 357.1 458.7 358.6 454.1 359.6 445.9 358.2Z" fill="#9cd7a4" stroke="#5e8163"/><path d="M571.5 347.1 579.6 345.3 574.5 347.8 566.5 349.6Z" fill="#b1dfa3" stroke="#6a8662"/><path d="M312.9 321.6 321.5 325.9 317.1 323.7 308.4 319.4Z" fill="#daf09a" stroke="#83905d"/><path d="M330.4 329.5 338.9 333.5 334.5 331.9 325.9 327.8Z" fill="#cfec9d" stroke="#7c8d5e"/><path d="M268.5 294.6 277.3 299.6 272.8 295.7 263.9 290.7Z" fill="#f5fbaf" stroke="#939769"/><path d="M723.1 258.6 731.7 250.8 726.2 252.4 717.7 260.2Z" fill="#fee999" stroke="#998c5c"/><path d="M660.8 311.7 669.1 306.8 663.8 309.4 655.5 314.3Z" fill="#ebf7a0" stroke="#8d9460"/><path d="M484.3 357.8 492.4 358.4 487.7 360 479.6 359.4Z" fill="#9fd8a4" stroke="#5f8263"/><path d="M207.6 222.1 216.6 227.4 211.7 219.8 202.7 214.5Z" fill="#fdbb6c" stroke="#987041"/><path d="M505.2 356.9 513.3 357 508.5 358.9 500.5 358.8Z" fill="#9fd8a4" stroke="#5f8263"/><path d="M738.1 237.3 745.7 229.6 740.3 230.7 732.7 238.4Z" fill="#fece7c" stroke="#987c4b"/><path d="M194.6 167.9 203.5 172.4 199 163.7 190 159.1Z" fill="#ea5e47" stroke="#8d392a"/><path d="M195.8 182.3 204.8 187 199.7 177.6 190.7 172.8Z" fill="#f57245" stroke="#93442a"/><path d="M563.4 348.7 571.5 347.1 566.5 349.6 558.5 351.1Z" fill="#b1dfa3" stroke="#6a8662"/><path d="M688.7 292.9 697 286.9 691.6 289.3 683.3 295.3Z" fill="#f9fcb5" stroke="#95976d"/><path d="M295.2 312.2 304 316.9 299.5 314.1 290.8 309.5Z" fill="#e9f69d" stroke="#8c945e"/><path d="M347.8 336 356.3 339.8 351.9 338.7 343.4 334.9Z" fill="#c6e89f" stroke="#778b5f"/><path d="M463.3 357.3 471.5 358.4 466.8 359.8 458.7 358.6Z" fill="#a2d9a4" stroke="#618262"/><path d="M403.8 350.8 412.1 353.4 407.6 353.6 399.3 351Z" fill="#acdda4" stroke="#678562"/><path d="M273 298.2 281.8 303.1 277.3 299.6 268.5 294.6Z" fill="#f4faad" stroke="#929668"/><path d="M391 348.1 399.3 351 394.8 351 386.5 348.1Z" fill="#b1dfa3" stroke="#6a8662"/><path d="M416.6 352.9 424.9 355.2 420.4 355.7 412.1 353.4Z" fill="#aadca4" stroke="#668462"/><path d="M526.2 354.6 534.3 354.2 529.4 356.3 521.4 356.8Z" fill="#a7dba4" stroke="#648462"/><path d="M669.1 306.8 677.4 301.6 672 304.2 663.8 309.4Z" fill="#f0f9a7" stroke="#909564"/><path d="M196.8 195.1 205.9 200.2 200.9 191.4 191.8 186.3Z" fill="#f88950" stroke="#955230"/><path d="M734.9 244.3 743.6 235.8 738.1 237.3 729.4 245.7Z" fill="#fed481" stroke="#987f4d"/><path d="M202.7 214.5 211.7 219.8 206.8 211.9 197.7 206.6Z" fill="#fdad60" stroke="#98683a"/><path d="M232 261.7 241 267.1 236.3 261.6 227.3 256.2Z" fill="#feeb9d" stroke="#998d5e"/><path d="M227.3 256.2 236.3 261.6 231.6 255.7 222.6 250.3Z" fill="#fee695" stroke="#998a5a"/><path d="M378.1 345 386.5 348.1 382 347.8 373.6 344.7Z" fill="#b8e2a1" stroke="#6e8861"/><path d="M708.5 276.3 717 269.3 711.5 271.5 703 278.4Z" fill="#fff6b0" stroke="#999469"/><path d="M555.4 350 563.4 348.7 558.5 351.1 550.4 352.4Z" fill="#b1dfa3" stroke="#6a8662"/><path d="M236.6 267 245.6 272.4 241 267.1 232 261.7Z" fill="#fff0a6" stroke="#999063"/><path d="M429.5 354.4 437.7 356.4 433.1 357.2 424.9 355.2Z" fill="#aadca4" stroke="#668462"/><path d="M720 264.2 728.6 256.7 723.1 258.6 714.6 266.1Z" fill="#feeb9d" stroke="#998d5e"/><path d="M222.6 250.3 231.6 255.7 226.9 249.6 217.8 244.1Z" fill="#fee18d" stroke="#988755"/><path d="M241.3 272 250.2 277.4 245.6 272.4 236.6 267Z" fill="#fff3ac" stroke="#999267"/><path d="M317.3 323.5 325.9 327.8 321.5 325.9 312.9 321.6Z" fill="#dff299" stroke="#86915c"/><path d="M217.8 244.1 226.9 249.6 222.1 243.2 213 237.7Z" fill="#fed884" stroke="#98824f"/><path d="M697 286.9 705.5 280.5 700 282.9 691.6 289.3Z" fill="#fffebe" stroke="#999972"/><path d="M617.1 332.4 625.2 329.2 620 332 611.9 335.2Z" fill="#d3ed9c" stroke="#7f8e5d"/><path d="M334.8 330.9 343.4 334.9 338.9 333.5 330.4 329.5Z" fill="#d3ed9c" stroke="#7f8e5d"/><path d="M277.5 301.5 286.3 306.4 281.8 303.1 273 298.2Z" fill="#f3faac" stroke="#929667"/><path d="M365.2 341.2 373.6 344.7 369.2 344.1 360.7 340.6Z" fill="#c1e6a0" stroke="#748a60"/><path d="M625.2 329.2 633.4 325.7 628.1 328.5 620 332Z" fill="#d8ef9b" stroke="#82905d"/><path d="M497.1 356.5 505.2 356.9 500.5 358.8 492.4 358.4Z" fill="#a7dba4" stroke="#648462"/><path d="M608.9 335.4 617.1 332.4 611.9 335.2 603.8 338.1Z" fill="#cfec9d" stroke="#7c8d5e"/><path d="M677.4 301.6 685.7 296.1 680.3 298.7 672 304.2Z" fill="#f5fbaf" stroke="#939769"/><path d="M245.9 276.8 254.8 282.1 250.2 277.4 241.3 272Z" fill="#fff7b2" stroke="#99946b"/><path d="M299.7 314.7 308.4 319.4 304 316.9 295.2 312.2Z" fill="#eaf79e" stroke="#8c945f"/><path d="M442.3 355.4 450.5 357.1 445.9 358.2 437.7 356.4Z" fill="#aadca4" stroke="#668462"/><path d="M633.4 325.7 641.5 321.9 636.3 324.7 628.1 328.5Z" fill="#dff299" stroke="#86915c"/><path d="M213 237.7 222.1 243.2 217.3 236.4 208.2 230.9Z" fill="#fecc7b" stroke="#987b4a"/><path d="M476.1 356.8 484.3 357.8 479.6 359.4 471.5 358.4Z" fill="#a7dba4" stroke="#648462"/><path d="M731.7 250.8 740.4 242.6 734.9 244.3 726.2 252.4Z" fill="#fedc88" stroke="#988451"/><path d="M600.8 338 608.9 335.4 603.8 338.1 595.7 340.8Z" fill="#caea9e" stroke="#798c5f"/><path d="M190.7 172.8 199.7 177.6 194.6 167.9 185.5 163Z" fill="#eb6046" stroke="#8d3a2a"/><path d="M197.7 206.6 206.8 211.9 201.9 203.7 192.7 198.3Z" fill="#fa9b58" stroke="#965d35"/><path d="M547.3 351 555.4 350 550.4 352.4 542.4 353.4Z" fill="#b3e0a2" stroke="#6b8761"/><path d="M518.2 354.8 526.2 354.6 521.4 356.8 513.3 357Z" fill="#acdda4" stroke="#678562"/><path d="M641.5 321.9 649.7 317.8 644.4 320.6 636.3 324.7Z" fill="#e6f598" stroke="#8a935b"/><path d="M250.4 281.2 259.4 286.5 254.8 282.1 245.9 276.8Z" fill="#fffbb8" stroke="#99966e"/><path d="M191.8 186.3 200.9 191.4 195.8 182.3 186.7 177.1Z" fill="#f57245" stroke="#93442a"/><path d="M592.7 340.4 600.8 338 595.7 340.8 587.6 343.2Z" fill="#c8e99e" stroke="#788c5f"/><path d="M208.2 230.9 217.3 236.4 212.5 229.4 203.3 223.9Z" fill="#fdc171" stroke="#987444"/><path d="M352.2 336.9 360.7 340.6 356.3 339.8 347.8 336Z" fill="#cdeb9d" stroke="#7b8d5e"/><path d="M649.7 317.8 658 313.4 652.6 316.3 644.4 320.6Z" fill="#eaf79e" stroke="#8c945f"/><path d="M455.1 355.8 463.3 357.3 458.7 358.6 450.5 357.1Z" fill="#acdda4" stroke="#678562"/><path d="M584.6 342.5 592.7 340.4 587.6 343.2 579.6 345.3Z" fill="#c6e89f" stroke="#778b5f"/><path d="M717 269.3 725.5 262.1 720 264.2 711.5 271.5Z" fill="#feec9f" stroke="#998e60"/><path d="M685.7 296.1 694.1 290.3 688.7 292.9 680.3 298.7Z" fill="#fbfdb8" stroke="#96986e"/><path d="M282 304.5 290.8 309.5 286.3 306.4 277.5 301.5Z" fill="#f3faac" stroke="#929667"/><path d="M255 285.4 263.9 290.7 259.4 286.5 250.4 281.2Z" fill="#fffdbc" stroke="#999871"/><path d="M705.5 280.5 714 273.8 708.5 276.3 700 282.9Z" fill="#fff6b0" stroke="#999469"/><path d="M203.3 223.9 212.5 229.4 207.6 222.1 198.5 216.5Z" fill="#fdb567" stroke="#986d3e"/><path d="M658 313.4 666.2 308.8 660.8 311.7 652.6 316.3Z" fill="#eef8a4" stroke="#8f9563"/><path d="M728.6 256.7 737.2 248.8 731.7 250.8 723.1 258.6Z" fill="#fee08b" stroke="#988653"/><path d="M743.6 235.8 751.2 228.2 745.7 229.6 738.1 237.3Z" fill="#fdc372" stroke="#987545"/><path d="M321.7 325.2 330.4 329.5 325.9 327.8 317.3 323.5Z" fill="#e1f399" stroke="#87925c"/><path d="M192.7 198.3 201.9 203.7 196.8 195.1 187.7 189.8Z" fill="#f8864f" stroke="#95512f"/><path d="M539.2 351.7 547.3 351 542.4 353.4 534.3 354.2Z" fill="#b8e2a1" stroke="#6e8861"/><path d="M304.1 316.9 312.9 321.6 308.4 319.4 299.7 314.7Z" fill="#ebf7a0" stroke="#8d9460"/><path d="M576.6 344.4 584.6 342.5 579.6 345.3 571.5 347.1Z" fill="#c3e79f" stroke="#758b5f"/><path d="M395.5 347.9 403.8 350.8 399.3 351 391 348.1Z" fill="#bce4a0" stroke="#718960"/><path d="M408.3 350.3 416.6 352.9 412.1 353.4 403.8 350.8Z" fill="#b8e2a1" stroke="#6e8861"/><path d="M489 355.9 497.1 356.5 492.4 358.4 484.3 357.8Z" fill="#b1dfa3" stroke="#6a8662"/><path d="M259.5 289.3 268.5 294.6 263.9 290.7 255 285.4Z" fill="#ffffbe" stroke="#999972"/><path d="M382.6 345 391 348.1 386.5 348.1 378.1 345Z" fill="#c3e79f" stroke="#758b5f"/><path d="M510.1 354.7 518.2 354.8 513.3 357 505.2 356.9Z" fill="#b3e0a2" stroke="#6b8761"/><path d="M185.5 163 194.6 167.9 190 159.1 180.9 154.2Z" fill="#df4e4b" stroke="#862f2d"/><path d="M421.2 352.1 429.5 354.4 424.9 355.2 416.6 352.9Z" fill="#b8e2a1" stroke="#6e8861"/><path d="M339.2 332 347.8 336 343.4 334.9 334.8 330.9Z" fill="#d8ef9b" stroke="#82905d"/><path d="M666.2 308.8 674.5 303.9 669.1 306.8 660.8 311.7Z" fill="#f3faac" stroke="#929667"/><path d="M186.7 177.1 195.8 182.3 190.7 172.8 181.5 167.7Z" fill="#eb6046" stroke="#8d3a2a"/><path d="M198.5 216.5 207.6 222.1 202.7 214.5 193.5 208.9Z" fill="#fca55d" stroke="#976338"/><path d="M468 355.6 476.1 356.8 471.5 358.4 463.3 357.3Z" fill="#b1dfa3" stroke="#6a8662"/><path d="M694.1 290.3 702.5 284.2 697 286.9 688.7 292.9Z" fill="#fffdbc" stroke="#999871"/><path d="M286.4 307.3 295.2 312.2 290.8 309.5 282 304.5Z" fill="#f3faac" stroke="#929667"/><path d="M568.5 345.9 576.6 344.4 571.5 347.1 563.4 348.7Z" fill="#c3e79f" stroke="#758b5f"/><path d="M369.6 341.5 378.1 345 373.6 344.7 365.2 341.2Z" fill="#caea9e" stroke="#798c5f"/><path d="M740.4 242.6 749.1 234.1 743.6 235.8 734.9 244.3Z" fill="#fec877" stroke="#987848"/><path d="M434 353.3 442.3 355.4 437.7 356.4 429.5 354.4Z" fill="#b8e2a1" stroke="#6e8861"/><path d="M531.1 352.2 539.2 351.7 534.3 354.2 526.2 354.6Z" fill="#bae3a1" stroke="#708861"/><path d="M264.1 292.9 273 298.2 268.5 294.6 259.5 289.3Z" fill="#fefebd" stroke="#989971"/><path d="M187.7 189.8 196.8 195.1 191.8 186.3 182.6 180.9Z" fill="#f47044" stroke="#934329"/><path d="M674.5 303.9 682.9 298.6 677.4 301.6 669.1 306.8Z" fill="#f8fcb4" stroke="#95976c"/><path d="M725.5 262.1 734.1 254.5 728.6 256.7 720 264.2Z" fill="#fee28f" stroke="#988856"/><path d="M714 273.8 722.5 266.8 717 269.3 708.5 276.3Z" fill="#feeda1" stroke="#998e61"/><path d="M193.5 208.9 202.7 214.5 197.7 206.6 188.5 200.9Z" fill="#f99355" stroke="#965833"/><path d="M356.7 337.5 365.2 341.2 360.7 340.6 352.2 336.9Z" fill="#d3ed9c" stroke="#7f8e5d"/><path d="M560.4 347.2 568.5 345.9 563.4 348.7 555.4 350Z" fill="#c6e89f" stroke="#778b5f"/><path d="M308.6 318.9 317.3 323.5 312.9 321.6 304.1 316.9Z" fill="#ecf7a1" stroke="#8e9461"/><path d="M446.9 354 455.1 355.8 450.5 357.1 442.3 355.4Z" fill="#b8e2a1" stroke="#6e8861"/><path d="M326.1 326.6 334.8 330.9 330.4 329.5 321.7 325.2Z" fill="#e6f598" stroke="#8a935b"/><path d="M737.2 248.8 745.9 240.6 740.4 242.6 731.7 250.8Z" fill="#fece7c" stroke="#987c4b"/><path d="M501.9 354.4 510.1 354.7 505.2 356.9 497.1 356.5Z" fill="#bae3a1" stroke="#708861"/><path d="M702.5 284.2 711 277.8 705.5 280.5 697 286.9Z" fill="#fff5ae" stroke="#999368"/><path d="M480.9 354.9 489 355.9 484.3 357.8 476.1 356.8Z" fill="#b8e2a1" stroke="#6e8861"/><path d="M290.9 309.8 299.7 314.7 295.2 312.2 286.4 307.3Z" fill="#f3faac" stroke="#929667"/><path d="M268.6 296.2 277.5 301.5 273 298.2 264.1 292.9Z" fill="#fdfebb" stroke="#989870"/><path d="M181.5 167.7 190.7 172.8 185.5 163 176.3 157.8Z" fill="#df4e4b" stroke="#862f2d"/><path d="M682.9 298.6 691.2 293.1 685.7 296.1 677.4 301.6Z" fill="#fdfebb" stroke="#989870"/><path d="M622.3 329.3 630.5 326.1 625.2 329.2 617.1 332.4Z" fill="#e6f598" stroke="#8a935b"/><path d="M630.5 326.1 638.7 322.5 633.4 325.7 625.2 329.2Z" fill="#e9f69d" stroke="#8c945e"/><path d="M614.2 332.3 622.3 329.3 617.1 332.4 608.9 335.4Z" fill="#e1f399" stroke="#87925c"/><path d="M638.7 322.5 646.9 318.7 641.5 321.9 633.4 325.7Z" fill="#ecf7a1" stroke="#8e9461"/><path d="M188.5 200.9 197.7 206.6 192.7 198.3 183.5 192.6Z" fill="#f7814c" stroke="#944e2e"/><path d="M523 352.4 531.1 352.2 526.2 354.6 518.2 354.8Z" fill="#bfe5a0" stroke="#728960"/><path d="M343.7 332.8 352.2 336.9 347.8 336 339.2 332Z" fill="#dff299" stroke="#86915c"/><path d="M606 334.9 614.2 332.3 608.9 335.4 600.8 338Z" fill="#dff299" stroke="#86915c"/><path d="M182.6 180.9 191.8 186.3 186.7 177.1 177.5 171.7Z" fill="#eb6046" stroke="#8d3a2a"/><path d="M552.3 348.2 560.4 347.2 555.4 350 547.3 351Z" fill="#c8e99e" stroke="#788c5f"/><path d="M459.8 354.2 468 355.6 463.3 357.3 455.1 355.8Z" fill="#bce4a0" stroke="#718960"/><path d="M646.9 318.7 655.1 314.6 649.7 317.8 641.5 321.9Z" fill="#eff9a6" stroke="#8f9563"/><path d="M400 347.4 408.3 350.3 403.8 350.8 395.5 347.9Z" fill="#c8e99e" stroke="#788c5f"/><path d="M597.9 337.4 606 334.9 600.8 338 592.7 340.4Z" fill="#daf09a" stroke="#83905d"/><path d="M387 344.7 395.5 347.9 391 348.1 382.6 345Z" fill="#cdeb9d" stroke="#7b8d5e"/><path d="M412.9 349.5 421.2 352.1 416.6 352.9 408.3 350.3Z" fill="#c6e89f" stroke="#778b5f"/><path d="M749.1 234.1 756.8 226.4 751.2 228.2 743.6 235.8Z" fill="#fdb768" stroke="#986e3f"/><path d="M722.5 266.8 731.1 259.6 725.5 262.1 717 269.3Z" fill="#fee491" stroke="#988957"/><path d="M655.1 314.6 663.4 310.3 658 313.4 649.7 317.8Z" fill="#f3faac" stroke="#929667"/><path d="M734.1 254.5 742.8 246.6 737.2 248.8 728.6 256.7Z" fill="#fed27f" stroke="#987e4c"/><path d="M273.1 299.2 282 304.5 277.5 301.5 268.6 296.2Z" fill="#fdfebb" stroke="#989870"/><path d="M691.2 293.1 699.6 287.3 694.1 290.3 685.7 296.1Z" fill="#fffbb8" stroke="#99966e"/><path d="M374.1 341.5 382.6 345 378.1 345 369.6 341.5Z" fill="#d3ed9c" stroke="#7f8e5d"/><path d="M589.8 339.5 597.9 337.4 592.7 340.4 584.6 342.5Z" fill="#daf09a" stroke="#83905d"/><path d="M425.7 351 434 353.3 429.5 354.4 421.2 352.1Z" fill="#c3e79f" stroke="#758b5f"/><path d="M313 320.5 321.7 325.2 317.3 323.5 308.6 318.9Z" fill="#edf8a3" stroke="#8e9562"/><path d="M711 277.8 719.5 271.1 714 273.8 705.5 280.5Z" fill="#feec9f" stroke="#998e60"/><path d="M295.3 312 304.1 316.9 299.7 314.7 290.9 309.8Z" fill="#f4faad" stroke="#929668"/><path d="M183.5 192.6 192.7 198.3 187.7 189.8 178.4 184Z" fill="#f46d43" stroke="#924128"/><path d="M493.8 353.7 501.9 354.4 497.1 356.5 489 355.9Z" fill="#c1e6a0" stroke="#748a60"/><path d="M544.2 349 552.3 348.2 547.3 351 539.2 351.7Z" fill="#caea9e" stroke="#798c5f"/><path d="M663.4 310.3 671.7 305.6 666.2 308.8 658 313.4Z" fill="#f7fcb2" stroke="#94976b"/><path d="M330.6 327.7 339.2 332 334.8 330.9 326.1 326.6Z" fill="#e9f69d" stroke="#8c945e"/><path d="M176.3 157.8 185.5 163 180.9 154.2 171.7 149Z" fill="#d43d4f" stroke="#7f242f"/><path d="M361.1 337.7 369.6 341.5 365.2 341.2 356.7 337.5Z" fill="#ddf19a" stroke="#84915c"/><path d="M581.7 341.3 589.8 339.5 584.6 342.5 576.6 344.4Z" fill="#d8ef9b" stroke="#82905d"/><path d="M514.9 352.3 523 352.4 518.2 354.8 510.1 354.7Z" fill="#c6e89f" stroke="#778b5f"/><path d="M472.7 353.7 480.9 354.9 476.1 356.8 468 355.6Z" fill="#c3e79f" stroke="#758b5f"/><path d="M438.6 352 446.9 354 442.3 355.4 434 353.3Z" fill="#c6e89f" stroke="#778b5f"/><path d="M745.9 240.6 754.7 232.1 749.1 234.1 740.4 242.6Z" fill="#fdbb6c" stroke="#987041"/><path d="M177.5 171.7 186.7 177.1 181.5 167.7 172.3 162.2Z" fill="#df4e4b" stroke="#862f2d"/><path d="M671.7 305.6 680 300.6 674.5 303.9 666.2 308.8Z" fill="#fcfeba" stroke="#97986f"/><path d="M699.6 287.3 708.1 281.2 702.5 284.2 694.1 290.3Z" fill="#fff3ac" stroke="#999267"/><path d="M277.5 302 286.4 307.3 282 304.5 273.1 299.2Z" fill="#fdfebb" stroke="#989870"/><path d="M573.5 342.9 581.7 341.3 576.6 344.4 568.5 345.9Z" fill="#d8ef9b" stroke="#82905d"/><path d="M348.1 333.4 356.7 337.5 352.2 336.9 343.7 332.8Z" fill="#e6f598" stroke="#8a935b"/><path d="M731.1 259.6 739.7 251.9 734.1 254.5 725.5 262.1Z" fill="#fed481" stroke="#987f4d"/><path d="M536.1 349.4 544.2 349 539.2 351.7 531.1 352.2Z" fill="#cfec9d" stroke="#7c8d5e"/><path d="M451.5 352.4 459.8 354.2 455.1 355.8 446.9 354Z" fill="#c8e99e" stroke="#788c5f"/><path d="M178.4 184 187.7 189.8 182.6 180.9 173.3 175.1Z" fill="#e95c47" stroke="#8c372b"/><path d="M719.5 271.1 728.1 264.1 722.5 266.8 714 273.8Z" fill="#fee491" stroke="#988957"/><path d="M680 300.6 688.4 295.4 682.9 298.6 674.5 303.9Z" fill="#fffdbc" stroke="#999871"/><path d="M299.8 313.9 308.6 318.9 304.1 316.9 295.3 312Z" fill="#f5fbaf" stroke="#939769"/><path d="M317.4 321.9 326.1 326.6 321.7 325.2 313 320.5Z" fill="#f0f9a7" stroke="#909564"/><path d="M742.8 246.6 751.6 238.4 745.9 240.6 737.2 248.8Z" fill="#fdc171" stroke="#987444"/><path d="M485.6 352.8 493.8 353.7 489 355.9 480.9 354.9Z" fill="#caea9e" stroke="#798c5f"/><path d="M565.4 344.2 573.5 342.9 568.5 345.9 560.4 347.2Z" fill="#daf09a" stroke="#83905d"/><path d="M506.8 351.9 514.9 352.3 510.1 354.7 501.9 354.4Z" fill="#cdeb9d" stroke="#7b8d5e"/><path d="M391.5 344.2 400 347.4 395.5 347.9 387 344.7Z" fill="#d8ef9b" stroke="#82905d"/><path d="M404.5 346.6 412.9 349.5 408.3 350.3 400 347.4Z" fill="#d3ed9c" stroke="#7f8e5d"/><path d="M708.1 281.2 716.6 274.8 711 277.8 702.5 284.2Z" fill="#feeb9d" stroke="#998d5e"/><path d="M172.3 162.2 181.5 167.7 176.3 157.8 167 152.3Z" fill="#d43d4f" stroke="#7f242f"/><path d="M282 304.5 290.9 309.8 286.4 307.3 277.5 302Z" fill="#fdfebb" stroke="#989870"/><path d="M335 328.5 343.7 332.8 339.2 332 330.6 327.7Z" fill="#ecf7a1" stroke="#8e9461"/><path d="M378.6 341.2 387 344.7 382.6 345 374.1 341.5Z" fill="#dff299" stroke="#86915c"/><path d="M417.4 348.4 425.7 351 421.2 352.1 412.9 349.5Z" fill="#d3ed9c" stroke="#7f8e5d"/><path d="M464.5 352.2 472.7 353.7 468 355.6 459.8 354.2Z" fill="#cdeb9d" stroke="#7b8d5e"/><path d="M688.4 295.4 696.8 289.9 691.2 293.1 682.9 298.6Z" fill="#fff7b2" stroke="#99946b"/><path d="M754.7 232.1 762.4 224.4 756.8 226.4 749.1 234.1Z" fill="#fca85e" stroke="#976538"/><path d="M527.9 349.6 536.1 349.4 531.1 352.2 523 352.4Z" fill="#d3ed9c" stroke="#7f8e5d"/><path d="M627.6 325.9 635.8 322.7 630.5 326.1 622.3 329.3Z" fill="#f0f9a7" stroke="#909564"/><path d="M635.8 322.7 644 319.1 638.7 322.5 630.5 326.1Z" fill="#f2faaa" stroke="#919666"/><path d="M173.3 175.1 182.6 180.9 177.5 171.7 168.1 165.9Z" fill="#df4e4b" stroke="#862f2d"/><path d="M619.4 328.9 627.6 325.9 622.3 329.3 614.2 332.3Z" fill="#edf8a3" stroke="#8e9562"/><path d="M365.6 337.7 374.1 341.5 369.6 341.5 361.1 337.7Z" fill="#e6f598" stroke="#8a935b"/><path d="M557.3 345.2 565.4 344.2 560.4 347.2 552.3 348.2Z" fill="#daf09a" stroke="#83905d"/><path d="M644 319.1 652.3 315.3 646.9 318.7 638.7 322.5Z" fill="#f5fbaf" stroke="#939769"/><path d="M430.3 349.6 438.6 352 434 353.3 425.7 351Z" fill="#d3ed9c" stroke="#7f8e5d"/><path d="M611.3 331.6 619.4 328.9 614.2 332.3 606 334.9Z" fill="#ecf7a1" stroke="#8e9461"/><path d="M728.1 264.1 736.7 256.7 731.1 259.6 722.5 266.8Z" fill="#fed683" stroke="#98814e"/><path d="M739.7 251.9 748.5 244 742.8 246.6 734.1 254.5Z" fill="#fdc372" stroke="#987545"/><path d="M652.3 315.3 660.6 311.2 655.1 314.6 646.9 318.7Z" fill="#f8fcb4" stroke="#95976c"/><path d="M603.1 334 611.3 331.6 606 334.9 597.9 337.4Z" fill="#ebf7a0" stroke="#8d9460"/><path d="M304.2 315.6 313 320.5 308.6 318.9 299.8 313.9Z" fill="#f7fcb2" stroke="#94976b"/><path d="M352.5 333.7 361.1 337.7 356.7 337.5 348.1 333.4Z" fill="#eaf79e" stroke="#8c945f"/><path d="M696.8 289.9 705.2 284 699.6 287.3 691.2 293.1Z" fill="#fff0a6" stroke="#999063"/><path d="M716.6 274.8 725.2 268 719.5 271.1 711 277.8Z" fill="#fee28f" stroke="#988856"/><path d="M660.6 311.2 668.9 306.8 663.4 310.3 655.1 314.6Z" fill="#fcfeba" stroke="#97986f"/><path d="M321.9 323 330.6 327.7 326.1 326.6 317.4 321.9Z" fill="#f2faaa" stroke="#919666"/><path d="M443.3 350.3 451.5 352.4 446.9 354 438.6 352Z" fill="#d3ed9c" stroke="#7f8e5d"/><path d="M498.6 351.2 506.8 351.9 501.9 354.4 493.8 353.7Z" fill="#d3ed9c" stroke="#7f8e5d"/><path d="M286.4 306.7 295.3 312 290.9 309.8 282 304.5Z" fill="#fefebd" stroke="#989971"/><path d="M595 336.1 603.1 334 597.9 337.4 589.8 339.5Z" fill="#eaf79e" stroke="#8c945f"/><path d="M167 152.3 176.3 157.8 171.7 149 162.4 143.4Z" fill="#c1274a" stroke="#74182c"/><path d="M751.6 238.4 760.4 229.8 754.7 232.1 745.9 240.6Z" fill="#fdad60" stroke="#98683a"/><path d="M477.4 351.5 485.6 352.8 480.9 354.9 472.7 353.7Z" fill="#d3ed9c" stroke="#7f8e5d"/><path d="M549.2 345.9 557.3 345.2 552.3 348.2 544.2 349Z" fill="#dff299" stroke="#86915c"/><path d="M519.8 349.5 527.9 349.6 523 352.4 514.9 352.3Z" fill="#d8ef9b" stroke="#82905d"/><path d="M668.9 306.8 677.2 302.1 671.7 305.6 663.4 310.3Z" fill="#fffebe" stroke="#999972"/><path d="M168.1 165.9 177.5 171.7 172.3 162.2 162.9 156.3Z" fill="#d23a4e" stroke="#7e232f"/><path d="M586.8 338 595 336.1 589.8 339.5 581.7 341.3Z" fill="#e9f69d" stroke="#8c945e"/><path d="M339.4 329 348.1 333.4 343.7 332.8 335 328.5Z" fill="#eff9a6" stroke="#8f9563"/><path d="M456.2 350.5 464.5 352.2 459.8 354.2 451.5 352.4Z" fill="#d8ef9b" stroke="#82905d"/><path d="M705.2 284 713.7 277.9 708.1 281.2 699.6 287.3Z" fill="#fee999" stroke="#998c5c"/><path d="M677.2 302.1 685.6 297.1 680 300.6 671.7 305.6Z" fill="#fff8b4" stroke="#99956c"/><path d="M736.7 256.7 745.4 249.1 739.7 251.9 731.1 259.6Z" fill="#fdc574" stroke="#987646"/><path d="M396 343.4 404.5 346.6 400 347.4 391.5 344.2Z" fill="#e6f598" stroke="#8a935b"/><path d="M383 340.7 391.5 344.2 387 344.7 378.6 341.2Z" fill="#e8f69b" stroke="#8b935d"/><path d="M578.7 339.5 586.8 338 581.7 341.3 573.5 342.9Z" fill="#e9f69d" stroke="#8c945e"/><path d="M409 345.5 417.4 348.4 412.9 349.5 404.5 346.6Z" fill="#e1f399" stroke="#87925c"/><path d="M725.2 268 733.8 261 728.1 264.1 719.5 271.1Z" fill="#fed481" stroke="#987f4d"/><path d="M541 346.4 549.2 345.9 544.2 349 536.1 349.4Z" fill="#e1f399" stroke="#87925c"/><path d="M748.5 244 757.3 235.8 751.6 238.4 742.8 246.6Z" fill="#fdb163" stroke="#986a3c"/><path d="M308.6 316.9 317.4 321.9 313 320.5 304.2 315.6Z" fill="#f9fcb5" stroke="#95976d"/><path d="M290.9 308.6 299.8 313.9 295.3 312 286.4 306.7Z" fill="#ffffbe" stroke="#999972"/><path d="M370 337.5 378.6 341.2 374.1 341.5 365.6 337.7Z" fill="#ebf7a0" stroke="#8d9460"/><path d="M422 347 430.3 349.6 425.7 351 417.4 348.4Z" fill="#e1f399" stroke="#87925c"/><path d="M490.4 350.3 498.6 351.2 493.8 353.7 485.6 352.8Z" fill="#ddf19a" stroke="#84915c"/><path d="M685.6 297.1 694 291.9 688.4 295.4 680 300.6Z" fill="#fff2aa" stroke="#999166"/><path d="M511.6 349.1 519.8 349.5 514.9 352.3 506.8 351.9Z" fill="#dff299" stroke="#86915c"/><path d="M326.3 323.8 335 328.5 330.6 327.7 321.9 323Z" fill="#f5fbaf" stroke="#939769"/><path d="M162.9 156.3 172.3 162.2 167 152.3 157.6 146.4Z" fill="#be254a" stroke="#72162c"/><path d="M570.5 340.8 578.7 339.5 573.5 342.9 565.4 344.2Z" fill="#eaf79e" stroke="#8c945f"/><path d="M469.2 350 477.4 351.5 472.7 353.7 464.5 352.2Z" fill="#dff299" stroke="#86915c"/><path d="M357 333.7 365.6 337.7 361.1 337.7 352.5 333.7Z" fill="#eef8a4" stroke="#8f9563"/><path d="M760.4 229.8 768.1 222.1 762.4 224.4 754.7 232.1Z" fill="#fa9656" stroke="#965a33"/><path d="M713.7 277.9 722.3 271.4 716.6 274.8 708.1 281.2Z" fill="#fee08b" stroke="#988653"/><path d="M434.9 348 443.3 350.3 438.6 352 430.3 349.6Z" fill="#e1f399" stroke="#87925c"/><path d="M694 291.9 702.4 286.3 696.8 289.9 688.4 295.4Z" fill="#feec9f" stroke="#998e60"/><path d="M532.9 346.6 541 346.4 536.1 349.4 527.9 349.6Z" fill="#e6f598" stroke="#8a935b"/><path d="M745.4 249.1 754.2 241.1 748.5 244 739.7 251.9Z" fill="#fdb567" stroke="#986d3e"/><path d="M733.8 261 742.5 253.6 736.7 256.7 728.1 264.1Z" fill="#fdc574" stroke="#987646"/><path d="M633 322.2 641.2 318.9 635.8 322.7 627.6 325.9Z" fill="#f9fcb5" stroke="#95976d"/><path d="M641.2 318.9 649.5 315.4 644 319.1 635.8 322.7Z" fill="#fcfeba" stroke="#97986f"/><path d="M562.4 341.8 570.5 340.8 565.4 344.2 557.3 345.2Z" fill="#ebf7a0" stroke="#8d9460"/><path d="M343.9 329.3 352.5 333.7 348.1 333.4 339.4 329Z" fill="#f3faac" stroke="#929667"/><path d="M624.8 325.2 633 322.2 627.6 325.9 619.4 328.9Z" fill="#f7fcb2" stroke="#94976b"/><path d="M649.5 315.4 657.8 311.5 652.3 315.3 644 319.1Z" fill="#ffffbe" stroke="#999972"/><path d="M447.9 348.4 456.2 350.5 451.5 352.4 443.3 350.3Z" fill="#e6f598" stroke="#8a935b"/><path d="M616.6 327.9 624.8 325.2 619.4 328.9 611.3 331.6Z" fill="#f5fbaf" stroke="#939769"/><path d="M295.3 310.3 304.2 315.6 299.8 313.9 290.9 308.6Z" fill="#fffdbc" stroke="#999871"/><path d="M313 318 321.9 323 317.4 321.9 308.6 316.9Z" fill="#fcfeba" stroke="#97986f"/><path d="M657.8 311.5 666.1 307.4 660.6 311.2 652.3 315.3Z" fill="#fffcba" stroke="#999770"/><path d="M757.3 235.8 766.1 227.2 760.4 229.8 751.6 238.4Z" fill="#fa9b58" stroke="#965d35"/><path d="M503.4 348.5 511.6 349.1 506.8 351.9 498.6 351.2Z" fill="#e6f598" stroke="#8a935b"/><path d="M608.4 330.3 616.6 327.9 611.3 331.6 603.1 334Z" fill="#f4faad" stroke="#929668"/><path d="M722.3 271.4 730.9 264.7 725.2 268 716.6 274.8Z" fill="#fed27f" stroke="#987e4c"/><path d="M482.2 349.1 490.4 350.3 485.6 352.8 477.4 351.5Z" fill="#e6f598" stroke="#8a935b"/><path d="M702.4 286.3 710.9 280.4 705.2 284 696.8 289.9Z" fill="#fee593" stroke="#988958"/><path d="M157.6 146.4 167 152.3 162.4 143.4 153 137.5Z" fill="#a90d45" stroke="#650829"/><path d="M666.1 307.4 674.4 303 668.9 306.8 660.6 311.2Z" fill="#fff7b2" stroke="#99946b"/><path d="M600.2 332.4 608.4 330.3 603.1 334 595 336.1Z" fill="#f3faac" stroke="#929667"/><path d="M387.5 339.9 396 343.4 391.5 344.2 383 340.7Z" fill="#edf8a3" stroke="#8e9562"/><path d="M400.6 342.3 409 345.5 404.5 346.6 396 343.4Z" fill="#ebf7a0" stroke="#8d9460"/><path d="M554.2 342.6 562.4 341.8 557.3 345.2 549.2 345.9Z" fill="#ecf7a1" stroke="#8e9461"/><path d="M330.7 324.4 339.4 329 335 328.5 326.3 323.8Z" fill="#f8fcb4" stroke="#95976c"/><path d="M524.7 346.4 532.9 346.6 527.9 349.6 519.8 349.5Z" fill="#e9f69d" stroke="#8c945e"/><path d="M374.5 336.9 383 340.7 378.6 341.2 370 337.5Z" fill="#f0f9a7" stroke="#909564"/><path d="M460.9 348.3 469.2 350 464.5 352.2 456.2 350.5Z" fill="#e8f69b" stroke="#8b935d"/><path d="M413.6 344.1 422 347 417.4 348.4 409 345.5Z" fill="#ebf7a0" stroke="#8d9460"/><path d="M674.4 303 682.8 298.3 677.2 302.1 668.9 306.8Z" fill="#fff2aa" stroke="#999166"/><path d="M592 334.3 600.2 332.4 595 336.1 586.8 338Z" fill="#f3faac" stroke="#929667"/><path d="M742.5 253.6 751.2 246 745.4 249.1 736.7 256.7Z" fill="#fdb567" stroke="#986d3e"/><path d="M361.4 333.4 370 337.5 365.6 337.7 357 333.7Z" fill="#f3faac" stroke="#929667"/><path d="M710.9 280.4 719.4 274.2 713.7 277.9 705.2 284Z" fill="#fedc88" stroke="#988451"/><path d="M426.6 345.3 434.9 348 430.3 349.6 422 347Z" fill="#ebf7a0" stroke="#8d9460"/><path d="M754.2 241.1 763 232.9 757.3 235.8 748.5 244Z" fill="#fb9d59" stroke="#965e36"/><path d="M682.8 298.3 691.2 293.3 685.6 297.1 677.2 302.1Z" fill="#feeda1" stroke="#998e61"/><path d="M299.7 311.6 308.6 316.9 304.2 315.6 295.3 310.3Z" fill="#fffbb8" stroke="#99966e"/><path d="M730.9 264.7 739.5 257.6 733.8 261 725.2 268Z" fill="#fdc372" stroke="#987545"/><path d="M546.1 343 554.2 342.6 549.2 345.9 541 346.4Z" fill="#edf8a3" stroke="#8e9562"/><path d="M583.8 335.9 592 334.3 586.8 338 578.7 339.5Z" fill="#f3faac" stroke="#929667"/><path d="M495.2 347.5 503.4 348.5 498.6 351.2 490.4 350.3Z" fill="#eaf79e" stroke="#8c945f"/><path d="M317.5 318.8 326.3 323.8 321.9 323 313 318Z" fill="#ffffbe" stroke="#999972"/><path d="M348.3 329.3 357 333.7 352.5 333.7 343.9 329.3Z" fill="#f7fcb2" stroke="#94976b"/><path d="M439.6 346 447.9 348.4 443.3 350.3 434.9 348Z" fill="#ebf7a0" stroke="#8d9460"/><path d="M766.1 227.2 773.9 219.4 768.1 222.1 760.4 229.8Z" fill="#f7814c" stroke="#944e2e"/><path d="M516.5 346.1 524.7 346.4 519.8 349.5 511.6 349.1Z" fill="#ecf7a1" stroke="#8e9461"/><path d="M473.9 347.5 482.2 349.1 477.4 351.5 469.2 350Z" fill="#ebf7a0" stroke="#8d9460"/><path d="M691.2 293.3 699.6 288 694 291.9 685.6 297.1Z" fill="#fee797" stroke="#998b5b"/><path d="M719.4 274.2 728 267.8 722.3 271.4 713.7 277.9Z" fill="#fece7c" stroke="#987c4b"/><path d="M575.7 337.2 583.8 335.9 578.7 339.5 570.5 340.8Z" fill="#f3faac" stroke="#929667"/><path d="M335.1 324.6 343.9 329.3 339.4 329 330.7 324.4Z" fill="#fcfeba" stroke="#97986f"/><path d="M751.2 246 760 238 754.2 241.1 745.4 249.1Z" fill="#fba05b" stroke="#976036"/><path d="M537.9 343.2 546.1 343 541 346.4 532.9 346.6Z" fill="#f0f9a7" stroke="#909564"/><path d="M452.6 346.2 460.9 348.3 456.2 350.5 447.9 348.4Z" fill="#edf8a3" stroke="#8e9562"/><path d="M699.6 288 708.1 282.4 702.4 286.3 694 291.9Z" fill="#fee08b" stroke="#988653"/><path d="M739.5 257.6 748.3 250.2 742.5 253.6 733.8 261Z" fill="#fdb567" stroke="#986d3e"/><path d="M392.1 338.7 400.6 342.3 396 343.4 387.5 339.9Z" fill="#f3faac" stroke="#929667"/><path d="M304.2 312.7 313 318 308.6 316.9 299.7 311.6Z" fill="#fff7b2" stroke="#99946b"/><path d="M763 232.9 771.9 224.2 766.1 227.2 757.3 235.8Z" fill="#f8864f" stroke="#95512f"/><path d="M567.5 338.2 575.7 337.2 570.5 340.8 562.4 341.8Z" fill="#f4faad" stroke="#929668"/><path d="M379 336.1 387.5 339.9 383 340.7 374.5 336.9Z" fill="#f5fbaf" stroke="#939769"/><path d="M638.4 318.2 646.7 314.9 641.2 318.9 633 322.2Z" fill="#fffbb8" stroke="#99966e"/><path d="M405.1 340.9 413.6 344.1 409 345.5 400.6 342.3Z" fill="#f2faaa" stroke="#919666"/><path d="M646.7 314.9 655 311.3 649.5 315.4 641.2 318.9Z" fill="#fff7b2" stroke="#99946b"/><path d="M630.2 321.2 638.4 318.2 633 322.2 624.8 325.2Z" fill="#fffdbc" stroke="#999871"/><path d="M487 346.3 495.2 347.5 490.4 350.3 482.2 349.1Z" fill="#eef8a4" stroke="#8f9563"/><path d="M655 311.3 663.3 307.5 657.8 311.5 649.5 315.4Z" fill="#fff3ac" stroke="#999267"/><path d="M508.3 345.4 516.5 346.1 511.6 349.1 503.4 348.5Z" fill="#eff9a6" stroke="#8f9563"/><path d="M621.9 323.9 630.2 321.2 624.8 325.2 616.6 327.9Z" fill="#ffffbe" stroke="#999972"/><path d="M365.9 332.8 374.5 336.9 370 337.5 361.4 333.4Z" fill="#f8fcb4" stroke="#95976c"/><path d="M728 267.8 736.7 261 730.9 264.7 722.3 271.4Z" fill="#fdc171" stroke="#987444"/><path d="M418.1 342.4 426.6 345.3 422 347 413.6 344.1Z" fill="#f1f9a9" stroke="#909665"/><path d="M663.3 307.5 671.6 303.3 666.1 307.4 657.8 311.5Z" fill="#fff0a6" stroke="#999063"/><path d="M321.9 319.4 330.7 324.4 326.3 323.8 317.5 318.8Z" fill="#fffcba" stroke="#999770"/><path d="M708.1 282.4 716.6 276.5 710.9 280.4 702.4 286.3Z" fill="#fed481" stroke="#987f4d"/><path d="M613.7 326.3 621.9 323.9 616.6 327.9 608.4 330.3Z" fill="#fefebd" stroke="#989971"/><path d="M465.6 345.7 473.9 347.5 469.2 350 460.9 348.3Z" fill="#f0f9a7" stroke="#909564"/><path d="M671.6 303.3 680 298.9 674.4 303 666.1 307.4Z" fill="#feeb9d" stroke="#998d5e"/><path d="M352.7 329 361.4 333.4 357 333.7 348.3 329.3Z" fill="#fcfeba" stroke="#97986f"/><path d="M529.7 343.1 537.9 343.2 532.9 346.6 524.7 346.4Z" fill="#f2faaa" stroke="#919666"/><path d="M559.3 338.9 567.5 338.2 562.4 341.8 554.2 342.6Z" fill="#f5fbaf" stroke="#939769"/><path d="M431.2 343.4 439.6 346 434.9 348 426.6 345.3Z" fill="#f2faaa" stroke="#919666"/><path d="M605.5 328.4 613.7 326.3 608.4 330.3 600.2 332.4Z" fill="#fdfebb" stroke="#989870"/><path d="M748.3 250.2 757 242.5 751.2 246 742.5 253.6Z" fill="#fba05b" stroke="#976036"/><path d="M680 298.9 688.4 294.1 682.8 298.3 674.4 303Z" fill="#fee695" stroke="#998a5a"/><path d="M760 238 768.9 229.6 763 232.9 754.2 241.1Z" fill="#f88950" stroke="#955230"/><path d="M597.3 330.3 605.5 328.4 600.2 332.4 592 334.3Z" fill="#fdfebb" stroke="#989870"/><path d="M339.6 324.6 348.3 329.3 343.9 329.3 335.1 324.6Z" fill="#fffebe" stroke="#999972"/><path d="M716.6 276.5 725.2 270.3 719.4 274.2 710.9 280.4Z" fill="#fec877" stroke="#987848"/><path d="M736.7 261 745.4 253.9 739.5 257.6 730.9 264.7Z" fill="#fdb163" stroke="#986a3c"/><path d="M444.2 343.8 452.6 346.2 447.9 348.4 439.6 346Z" fill="#f3faac" stroke="#929667"/><path d="M308.6 313.5 317.5 318.8 313 318 304.2 312.7Z" fill="#fff3ac" stroke="#999267"/><path d="M771.9 224.2 779.8 216.4 773.9 219.4 766.1 227.2Z" fill="#f46d43" stroke="#924128"/><path d="M500.1 344.4 508.3 345.4 503.4 348.5 495.2 347.5Z" fill="#f3faac" stroke="#929667"/><path d="M688.4 294.1 696.9 289.1 691.2 293.3 682.8 298.3Z" fill="#fee18d" stroke="#988755"/><path d="M551.1 339.4 559.3 338.9 554.2 342.6 546.1 343Z" fill="#f7fcb2" stroke="#94976b"/><path d="M478.7 344.7 487 346.3 482.2 349.1 473.9 347.5Z" fill="#f3faac" stroke="#929667"/><path d="M589.1 331.9 597.3 330.3 592 334.3 583.8 335.9Z" fill="#fdfebb" stroke="#989870"/><path d="M521.5 342.7 529.7 343.1 524.7 346.4 516.5 346.1Z" fill="#f5fbaf" stroke="#939769"/><path d="M326.3 319.6 335.1 324.6 330.7 324.4 321.9 319.4Z" fill="#fff7b2" stroke="#99946b"/><path d="M696.9 289.1 705.3 283.8 699.6 288 691.2 293.3Z" fill="#fed884" stroke="#98824f"/><path d="M383.5 334.9 392.1 338.7 387.5 339.9 379 336.1Z" fill="#fbfdb8" stroke="#96986e"/><path d="M396.6 337.3 405.1 340.9 400.6 342.3 392.1 338.7Z" fill="#f9fcb5" stroke="#95976d"/><path d="M725.2 270.3 733.8 263.8 728 267.8 719.4 274.2Z" fill="#fdbb6c" stroke="#987041"/><path d="M457.3 343.6 465.6 345.7 460.9 348.3 452.6 346.2Z" fill="#f5fbaf" stroke="#939769"/><path d="M370.4 331.9 379 336.1 374.5 336.9 365.9 332.8Z" fill="#fdfebb" stroke="#989870"/><path d="M580.9 333.2 589.1 331.9 583.8 335.9 575.7 337.2Z" fill="#fdfebb" stroke="#989870"/><path d="M409.7 339.2 418.1 342.4 413.6 344.1 405.1 340.9Z" fill="#f8fcb4" stroke="#95976c"/><path d="M757 242.5 765.9 234.4 760 238 751.2 246Z" fill="#f88950" stroke="#955230"/><path d="M542.9 339.5 551.1 339.4 546.1 343 537.9 343.2Z" fill="#f9fcb5" stroke="#95976d"/><path d="M745.4 253.9 754.1 246.4 748.3 250.2 739.5 257.6Z" fill="#fb9d59" stroke="#965e36"/><path d="M357.2 328.4 365.9 332.8 361.4 333.4 352.7 329Z" fill="#fffdbc" stroke="#999871"/><path d="M768.9 229.6 777.8 221 771.9 224.2 763 232.9Z" fill="#f47044" stroke="#934329"/><path d="M422.7 340.4 431.2 343.4 426.6 345.3 418.1 342.4Z" fill="#f8fcb4" stroke="#95976c"/><path d="M705.3 283.8 713.9 278.2 708.1 282.4 699.6 288Z" fill="#fecc7b" stroke="#987b4a"/><path d="M491.8 343.2 500.1 344.4 495.2 347.5 487 346.3Z" fill="#f7fcb2" stroke="#94976b"/><path d="M572.7 334.2 580.9 333.2 575.7 337.2 567.5 338.2Z" fill="#fefebd" stroke="#989971"/><path d="M513.2 342 521.5 342.7 516.5 346.1 508.3 345.4Z" fill="#f8fcb4" stroke="#95976c"/><path d="M313 314 321.9 319.4 317.5 318.8 308.6 313.5Z" fill="#fff0a6" stroke="#999063"/><path d="M344 324.3 352.7 329 348.3 329.3 339.6 324.6Z" fill="#fff8b4" stroke="#99956c"/><path d="M470.4 342.9 478.7 344.7 473.9 347.5 465.6 345.7Z" fill="#f8fcb4" stroke="#95976c"/><path d="M733.8 263.8 742.5 256.9 736.7 261 728 267.8Z" fill="#fdad60" stroke="#98683a"/><path d="M435.8 341.1 444.2 343.8 439.6 346 431.2 343.4Z" fill="#f9fcb5" stroke="#95976d"/><path d="M713.9 278.2 722.4 272.2 716.6 276.5 708.1 282.4Z" fill="#fdc171" stroke="#987444"/><path d="M534.7 339.4 542.9 339.5 537.9 343.2 529.7 343.1Z" fill="#fcfeba" stroke="#97986f"/><path d="M564.5 334.9 572.7 334.2 567.5 338.2 559.3 338.9Z" fill="#ffffbe" stroke="#999972"/><path d="M765.9 234.4 774.8 226.1 768.9 229.6 760 238Z" fill="#f57245" stroke="#93442a"/><path d="M330.7 319.6 339.6 324.6 335.1 324.6 326.3 319.6Z" fill="#fff2aa" stroke="#999166"/><path d="M754.1 246.4 763 238.7 757 242.5 748.3 250.2Z" fill="#f88950" stroke="#955230"/><path d="M448.9 341.3 457.3 343.6 452.6 346.2 444.2 343.8Z" fill="#fbfdb8" stroke="#96986e"/><path d="M777.8 221 785.7 213.1 779.8 216.4 771.9 224.2Z" fill="#ea5e47" stroke="#8d392a"/><path d="M722.4 272.2 731.1 266 725.2 270.3 716.6 276.5Z" fill="#fdb567" stroke="#986d3e"/><path d="M742.5 256.9 751.3 249.8 745.4 253.9 736.7 261Z" fill="#fa9b58" stroke="#965d35"/><path d="M388 333.5 396.6 337.3 392.1 338.7 383.5 334.9Z" fill="#fffdbc" stroke="#999871"/><path d="M505 341 513.2 342 508.3 345.4 500.1 344.4Z" fill="#fcfeba" stroke="#97986f"/><path d="M483.5 341.6 491.8 343.2 487 346.3 478.7 344.7Z" fill="#fcfeba" stroke="#97986f"/><path d="M374.8 330.8 383.5 334.9 379 336.1 370.4 331.9Z" fill="#fffbb8" stroke="#99966e"/><path d="M401.1 335.6 409.7 339.2 405.1 340.9 396.6 337.3Z" fill="#fffebe" stroke="#999972"/><path d="M556.2 335.4 564.5 334.9 559.3 338.9 551.1 339.4Z" fill="#fffdbc" stroke="#999871"/><path d="M361.7 327.5 370.4 331.9 365.9 332.8 357.2 328.4Z" fill="#fff7b2" stroke="#99946b"/><path d="M414.2 337.2 422.7 340.4 418.1 342.4 409.7 339.2Z" fill="#ffffbe" stroke="#999972"/><path d="M317.4 314.3 326.3 319.6 321.9 319.4 313 314Z" fill="#feeb9d" stroke="#998d5e"/><path d="M526.5 339 534.7 339.4 529.7 343.1 521.5 342.7Z" fill="#ffffbe" stroke="#999972"/><path d="M462 340.8 470.4 342.9 465.6 345.7 457.3 343.6Z" fill="#fdfebb" stroke="#989870"/><path d="M348.4 323.7 357.2 328.4 352.7 329 344 324.3Z" fill="#fff2aa" stroke="#999166"/><path d="M427.4 338.2 435.8 341.1 431.2 343.4 422.7 340.4Z" fill="#fffebe" stroke="#999972"/><path d="M763 238.7 771.9 230.6 765.9 234.4 757 242.5Z" fill="#f57245" stroke="#93442a"/><path d="M731.1 266 739.7 259.5 733.8 263.8 725.2 270.3Z" fill="#fca55d" stroke="#976338"/><path d="M774.8 226.1 783.8 217.4 777.8 221 768.9 229.6Z" fill="#eb6046" stroke="#8d3a2a"/><path d="M751.3 249.8 760.1 242.3 754.1 246.4 745.4 253.9Z" fill="#f8864f" stroke="#95512f"/><path d="M548 335.5 556.2 335.4 551.1 339.4 542.9 339.5Z" fill="#fffbb8" stroke="#99966e"/><path d="M335.2 319.2 344 324.3 339.6 324.6 330.7 319.6Z" fill="#feeda1" stroke="#998e61"/><path d="M496.7 339.8 505 341 500.1 344.4 491.8 343.2Z" fill="#fffebe" stroke="#999972"/><path d="M440.5 338.6 448.9 341.3 444.2 343.8 435.8 341.1Z" fill="#fffdbc" stroke="#999871"/><path d="M518.2 338.3 526.5 339 521.5 342.7 513.2 342Z" fill="#fffcba" stroke="#999770"/><path d="M475.2 339.8 483.5 341.6 478.7 344.7 470.4 342.9Z" fill="#fffdbc" stroke="#999871"/><path d="M739.7 259.5 748.5 252.6 742.5 256.9 733.8 263.8Z" fill="#f99355" stroke="#965833"/><path d="M321.8 314.2 330.7 319.6 326.3 319.6 317.4 314.3Z" fill="#fee695" stroke="#998a5a"/><path d="M379.3 329.3 388 333.5 383.5 334.9 374.8 330.8Z" fill="#fff3ac" stroke="#999267"/><path d="M539.8 335.4 548 335.5 542.9 339.5 534.7 339.4Z" fill="#fff7b2" stroke="#99946b"/><path d="M453.6 338.4 462 340.8 457.3 343.6 448.9 341.3Z" fill="#fffbb8" stroke="#99966e"/><path d="M392.5 331.8 401.1 335.6 396.6 337.3 388 333.5Z" fill="#fff5ae" stroke="#999368"/><path d="M771.9 230.6 780.8 222.2 774.8 226.1 765.9 234.4Z" fill="#eb6046" stroke="#8d3a2a"/><path d="M760.1 242.3 769 234.6 763 238.7 754.1 246.4Z" fill="#f47044" stroke="#934329"/><path d="M366.1 326.4 374.8 330.8 370.4 331.9 361.7 327.5Z" fill="#fff0a6" stroke="#999063"/><path d="M405.7 333.6 414.2 337.2 409.7 339.2 401.1 335.6Z" fill="#fff6b0" stroke="#999469"/><path d="M783.8 217.4 791.8 209.5 785.7 213.1 777.8 221Z" fill="#df4e4b" stroke="#862f2d"/><path d="M352.9 322.8 361.7 327.5 357.2 328.4 348.4 323.7Z" fill="#feec9f" stroke="#998e60"/><path d="M418.8 334.9 427.4 338.2 422.7 340.4 414.2 337.2Z" fill="#fff6b0" stroke="#999469"/><path d="M488.4 338.2 496.7 339.8 491.8 343.2 483.5 341.6Z" fill="#fff8b4" stroke="#99956c"/><path d="M509.9 337.3 518.2 338.3 513.2 342 505 341Z" fill="#fff7b2" stroke="#99946b"/><path d="M748.5 252.6 757.3 245.4 751.3 249.8 742.5 256.9Z" fill="#f7814c" stroke="#944e2e"/><path d="M466.8 337.7 475.2 339.8 470.4 342.9 462 340.8Z" fill="#fff7b2" stroke="#99946b"/><path d="M339.6 318.6 348.4 323.7 344 324.3 335.2 319.2Z" fill="#fee797" stroke="#998b5b"/><path d="M432 335.6 440.5 338.6 435.8 341.1 427.4 338.2Z" fill="#fff5ae" stroke="#999368"/><path d="M531.5 335 539.8 335.4 534.7 339.4 526.5 339Z" fill="#fff3ac" stroke="#999267"/><path d="M769 234.6 777.9 226.4 771.9 230.6 763 238.7Z" fill="#eb6046" stroke="#8d3a2a"/><path d="M780.8 222.2 789.9 213.5 783.8 217.4 774.8 226.1Z" fill="#df4e4b" stroke="#862f2d"/><path d="M326.3 313.9 335.2 319.2 330.7 319.6 321.8 314.2Z" fill="#fee18d" stroke="#988755"/><path d="M445.2 335.7 453.6 338.4 448.9 341.3 440.5 338.6Z" fill="#fff3ac" stroke="#999267"/><path d="M757.3 245.4 766.1 237.9 760.1 242.3 751.3 249.8Z" fill="#f46d43" stroke="#924128"/><path d="M501.6 336.1 509.9 337.3 505 341 496.7 339.8Z" fill="#fff2aa" stroke="#999166"/><path d="M480 336.4 488.4 338.2 483.5 341.6 475.2 339.8Z" fill="#fff2aa" stroke="#999166"/><path d="M383.9 327.6 392.5 331.8 388 333.5 379.3 329.3Z" fill="#feeb9d" stroke="#998d5e"/><path d="M523.2 334.3 531.5 335 526.5 339 518.2 338.3Z" fill="#fff0a6" stroke="#999063"/><path d="M370.6 324.9 379.3 329.3 374.8 330.8 366.1 326.4Z" fill="#fee999" stroke="#998c5c"/><path d="M397.1 329.7 405.7 333.6 401.1 335.6 392.5 331.8Z" fill="#feec9f" stroke="#998e60"/><path d="M357.4 321.6 366.1 326.4 361.7 327.5 352.9 322.8Z" fill="#fee593" stroke="#988958"/><path d="M410.3 331.3 418.8 334.9 414.2 337.2 405.7 333.6Z" fill="#feeda1" stroke="#998e61"/><path d="M458.4 335.3 466.8 337.7 462 340.8 453.6 338.4Z" fill="#fff0a6" stroke="#999063"/><path d="M777.9 226.4 786.9 218 780.8 222.2 771.9 230.6Z" fill="#df4e4b" stroke="#862f2d"/><path d="M344 317.7 352.9 322.8 348.4 323.7 339.6 318.6Z" fill="#fee08b" stroke="#988653"/><path d="M789.9 213.5 797.9 205.5 791.8 209.5 783.8 217.4Z" fill="#d43d4f" stroke="#7f242f"/><path d="M423.5 332.3 432 335.6 427.4 338.2 418.8 334.9Z" fill="#feec9f" stroke="#998e60"/><path d="M766.1 237.9 775.1 230.1 769 234.6 760.1 242.3Z" fill="#e95c47" stroke="#8c372b"/><path d="M493.2 334.5 501.6 336.1 496.7 339.8 488.4 338.2Z" fill="#feeda1" stroke="#998e61"/><path d="M514.9 333.3 523.2 334.3 518.2 338.3 509.9 337.3Z" fill="#feeb9d" stroke="#998d5e"/><path d="M330.7 313.2 339.6 318.6 335.2 319.2 326.3 313.9Z" fill="#fed884" stroke="#98824f"/><path d="M436.7 332.7 445.2 335.7 440.5 338.6 432 335.6Z" fill="#feeb9d" stroke="#998d5e"/><path d="M471.6 334.2 480 336.4 475.2 339.8 466.8 337.7Z" fill="#feec9f" stroke="#998e60"/><path d="M786.9 218 796 209.2 789.9 213.5 780.8 222.2Z" fill="#d43d4f" stroke="#7f242f"/><path d="M775.1 230.1 784.1 221.9 777.9 226.4 769 234.6Z" fill="#df4e4b" stroke="#862f2d"/><path d="M449.9 332.5 458.4 335.3 453.6 338.4 445.2 335.7Z" fill="#fee999" stroke="#998c5c"/><path d="M375.1 323.1 383.9 327.6 379.3 329.3 370.6 324.9Z" fill="#fee08b" stroke="#988653"/><path d="M388.4 325.6 397.1 329.7 392.5 331.8 383.9 327.6Z" fill="#fee28f" stroke="#988856"/><path d="M361.8 320.1 370.6 324.9 366.1 326.4 357.4 321.6Z" fill="#fedc88" stroke="#988451"/><path d="M401.7 327.4 410.3 331.3 405.7 333.6 397.1 329.7Z" fill="#fee491" stroke="#988957"/><path d="M506.6 332 514.9 333.3 509.9 337.3 501.6 336.1Z" fill="#fee695" stroke="#998a5a"/><path d="M484.9 332.6 493.2 334.5 488.4 338.2 480 336.4Z" fill="#fee797" stroke="#998b5b"/><path d="M348.5 316.5 357.4 321.6 352.9 322.8 344 317.7Z" fill="#fed481" stroke="#987f4d"/><path d="M414.9 328.7 423.5 332.3 418.8 334.9 410.3 331.3Z" fill="#fee491" stroke="#988957"/><path d="M463.2 331.8 471.6 334.2 466.8 337.7 458.4 335.3Z" fill="#fee593" stroke="#988958"/><path d="M335.1 312.3 344 317.7 339.6 318.6 330.7 313.2Z" fill="#fecc7b" stroke="#987b4a"/><path d="M428.1 329.4 436.7 332.7 432 335.6 423.5 332.3Z" fill="#fee28f" stroke="#988856"/><path d="M784.1 221.9 793.1 213.4 786.9 218 777.9 226.4Z" fill="#d23a4e" stroke="#7e232f"/><path d="M796 209.2 804.1 201.2 797.9 205.5 789.9 213.5Z" fill="#c1274a" stroke="#74182c"/><path d="M441.4 329.5 449.9 332.5 445.2 335.7 436.7 332.7Z" fill="#fee08b" stroke="#988653"/><path d="M498.2 330.4 506.6 332 501.6 336.1 493.2 334.5Z" fill="#fee18d" stroke="#988755"/><path d="M476.4 330.5 484.9 332.6 480 336.4 471.6 334.2Z" fill="#fee08b" stroke="#988653"/><path d="M379.7 321.1 388.4 325.6 383.9 327.6 375.1 323.1Z" fill="#fed27f" stroke="#987e4c"/><path d="M366.3 318.3 375.1 323.1 370.6 324.9 361.8 320.1Z" fill="#fece7c" stroke="#987c4b"/><path d="M393 323.2 401.7 327.4 397.1 329.7 388.4 325.6Z" fill="#fed481" stroke="#987f4d"/><path d="M353 315 361.8 320.1 357.4 321.6 348.5 316.5Z" fill="#fec877" stroke="#987848"/><path d="M454.7 329 463.2 331.8 458.4 335.3 449.9 332.5Z" fill="#fedc88" stroke="#988451"/><path d="M406.3 324.8 414.9 328.7 410.3 331.3 401.7 327.4Z" fill="#fed683" stroke="#98814e"/><path d="M793.1 213.4 802.3 204.6 796 209.2 786.9 218Z" fill="#be254a" stroke="#72162c"/><path d="M339.6 311.1 348.5 316.5 344 317.7 335.1 312.3Z" fill="#fdc171" stroke="#987444"/><path d="M419.5 325.8 428.1 329.4 423.5 332.3 414.9 328.7Z" fill="#fed481" stroke="#987f4d"/><path d="M489.8 328.6 498.2 330.4 493.2 334.5 484.9 332.6Z" fill="#fed884" stroke="#98824f"/><path d="M468 328 476.4 330.5 471.6 334.2 463.2 331.8Z" fill="#fed481" stroke="#987f4d"/><path d="M432.8 326.2 441.4 329.5 436.7 332.7 428.1 329.4Z" fill="#fed27f" stroke="#987e4c"/><path d="M802.3 204.6 810.4 196.6 804.1 201.2 796 209.2Z" fill="#a90d45" stroke="#650829"/><path d="M446.1 326 454.7 329 449.9 332.5 441.4 329.5Z" fill="#fece7c" stroke="#987c4b"/><path d="M370.8 316.2 379.7 321.1 375.1 323.1 366.3 318.3Z" fill="#fdc171" stroke="#987444"/><path d="M384.2 318.7 393 323.2 388.4 325.6 379.7 321.1Z" fill="#fdc372" stroke="#987545"/><path d="M357.4 313.2 366.3 318.3 361.8 320.1 353 315Z" fill="#fdbb6c" stroke="#987041"/><path d="M397.5 320.5 406.3 324.8 401.7 327.4 393 323.2Z" fill="#fdc574" stroke="#987646"/><path d="M481.3 326.4 489.8 328.6 484.9 332.6 476.4 330.5Z" fill="#fecc7b" stroke="#987b4a"/><path d="M344 309.6 353 315 348.5 316.5 339.6 311.1Z" fill="#fdb567" stroke="#986d3e"/><path d="M410.9 321.8 419.5 325.8 414.9 328.7 406.3 324.8Z" fill="#fdc574" stroke="#987646"/><path d="M459.5 325.2 468 328 463.2 331.8 454.7 329Z" fill="#fec877" stroke="#987848"/><path d="M424.2 322.5 432.8 326.2 428.1 329.4 419.5 325.8Z" fill="#fdc372" stroke="#987545"/><path d="M437.6 322.6 446.1 326 441.4 329.5 432.8 326.2Z" fill="#fdc171" stroke="#987444"/><path d="M472.8 323.9 481.3 326.4 476.4 330.5 468 328Z" fill="#fdc171" stroke="#987444"/><path d="M375.4 313.8 384.2 318.7 379.7 321.1 370.8 316.2Z" fill="#fdb163" stroke="#986a3c"/><path d="M361.9 311.1 370.8 316.2 366.3 318.3 357.4 313.2Z" fill="#fdad60" stroke="#98683a"/><path d="M388.8 316 397.5 320.5 393 323.2 384.2 318.7Z" fill="#fdb567" stroke="#986d3e"/><path d="M450.9 322.2 459.5 325.2 454.7 329 446.1 326Z" fill="#fdbb6c" stroke="#987041"/><path d="M348.5 307.7 357.4 313.2 353 315 344 309.6Z" fill="#fca55d" stroke="#976338"/><path d="M402.1 317.6 410.9 321.8 406.3 324.8 397.5 320.5Z" fill="#fdb567" stroke="#986d3e"/><path d="M415.5 318.6 424.2 322.5 419.5 325.8 410.9 321.8Z" fill="#fdb567" stroke="#986d3e"/><path d="M464.3 321.1 472.8 323.9 468 328 459.5 325.2Z" fill="#fdb567" stroke="#986d3e"/><path d="M428.9 319 437.6 322.6 432.8 326.2 424.2 322.5Z" fill="#fdb163" stroke="#986a3c"/><path d="M442.3 318.8 450.9 322.2 446.1 326 437.6 322.6Z" fill="#fdad60" stroke="#98683a"/><path d="M366.5 308.6 375.4 313.8 370.8 316.2 361.9 311.1Z" fill="#fa9b58" stroke="#965d35"/><path d="M379.9 311.1 388.8 316 384.2 318.7 375.4 313.8Z" fill="#fb9d59" stroke="#965e36"/><path d="M353 305.6 361.9 311.1 357.4 313.2 348.5 307.7Z" fill="#f99355" stroke="#965833"/><path d="M393.3 313 402.1 317.6 397.5 320.5 388.8 316Z" fill="#fba05b" stroke="#976036"/><path d="M406.8 314.3 415.5 318.6 410.9 321.8 402.1 317.6Z" fill="#fba05b" stroke="#976036"/><path d="M455.7 318 464.3 321.1 459.5 325.2 450.9 322.2Z" fill="#fca55d" stroke="#976338"/><path d="M420.2 315 428.9 319 424.2 322.5 415.5 318.6Z" fill="#fb9d59" stroke="#965e36"/><path d="M433.6 315.1 442.3 318.8 437.6 322.6 428.9 319Z" fill="#fa9b58" stroke="#965d35"/><path d="M371 305.9 379.9 311.1 375.4 313.8 366.5 308.6Z" fill="#f8864f" stroke="#95512f"/><path d="M357.5 303.1 366.5 308.6 361.9 311.1 353 305.6Z" fill="#f7814c" stroke="#944e2e"/><path d="M384.5 308.1 393.3 313 388.8 316 379.9 311.1Z" fill="#f88950" stroke="#955230"/><path d="M447.1 314.6 455.7 318 450.9 322.2 442.3 318.8Z" fill="#f99355" stroke="#965833"/><path d="M398 309.7 406.8 314.3 402.1 317.6 393.3 313Z" fill="#f88950" stroke="#955230"/><path d="M411.4 310.7 420.2 315 415.5 318.6 406.8 314.3Z" fill="#f88950" stroke="#955230"/><path d="M424.9 311.1 433.6 315.1 428.9 319 420.2 315Z" fill="#f8864f" stroke="#95512f"/><path d="M438.4 310.9 447.1 314.6 442.3 318.8 433.6 315.1Z" fill="#f7814c" stroke="#944e2e"/><path d="M362 300.3 371 305.9 366.5 308.6 357.5 303.1Z" fill="#f46d43" stroke="#924128"/><path d="M375.5 302.8 384.5 308.1 379.9 311.1 371 305.9Z" fill="#f47044" stroke="#934329"/><path d="M389.1 304.7 398 309.7 393.3 313 384.5 308.1Z" fill="#f57245" stroke="#93442a"/><path d="M402.6 306 411.4 310.7 406.8 314.3 398 309.7Z" fill="#f57245" stroke="#93442a"/><path d="M416.1 306.7 424.9 311.1 420.2 315 411.4 310.7Z" fill="#f47044" stroke="#934329"/><path d="M429.7 306.8 438.4 310.9 433.6 315.1 424.9 311.1Z" fill="#f46d43" stroke="#924128"/><path d="M366.5 297.2 375.5 302.8 371 305.9 362 300.3Z" fill="#e95c47" stroke="#8c372b"/><path d="M380.1 299.4 389.1 304.7 384.5 308.1 375.5 302.8Z" fill="#eb6046" stroke="#8d3a2a"/><path d="M393.7 301 402.6 306 398 309.7 389.1 304.7Z" fill="#eb6046" stroke="#8d3a2a"/><path d="M407.3 302 416.1 306.7 411.4 310.7 402.6 306Z" fill="#eb6046" stroke="#8d3a2a"/><path d="M420.9 302.4 429.7 306.8 424.9 311.1 416.1 306.7Z" fill="#e95c47" stroke="#8c372b"/><path d="M371.1 293.8 380.1 299.4 375.5 302.8 366.5 297.2Z" fill="#df4e4b" stroke="#862f2d"/><path d="M384.7 295.7 393.7 301 389.1 304.7 380.1 299.4Z" fill="#df4e4b" stroke="#862f2d"/><path d="M398.3 297 407.3 302 402.6 306 393.7 301Z" fill="#df4e4b" stroke="#862f2d"/><path d="M412 297.7 420.9 302.4 416.1 306.7 407.3 302Z" fill="#df4e4b" stroke="#862f2d"/><path d="M375.6 290.1 384.7 295.7 380.1 299.4 371.1 293.8Z" fill="#d23a4e" stroke="#7e232f"/><path d="M389.3 291.7 398.3 297 393.7 301 384.7 295.7Z" fill="#d43d4f" stroke="#7f242f"/><path d="M403 292.7 412 297.7 407.3 302 398.3 297Z" fill="#d23a4e" stroke="#7e232f"/><path d="M380.2 286 389.3 291.7 384.7 295.7 375.6 290.1Z" fill="#be254a" stroke="#72162c"/><path d="M394 287.3 403 292.7 398.3 297 389.3 291.7Z" fill="#be254a" stroke="#72162c"/><path d="M384.9 281.5 394 287.3 389.3 291.7 380.2 286Z" fill="#a90d45" stroke="#650829"/></g></g></svg>
</div>
<div class="a" id="tJ">J</div>
<div class="a" id="tS">(w,b)</div>
<div class="a" id="zl"><i>J</i>(<i>w</i>, <i>b</i>)</div>
<div class="a" id="wm">@51CTO博客</div>
</div></body></html>
